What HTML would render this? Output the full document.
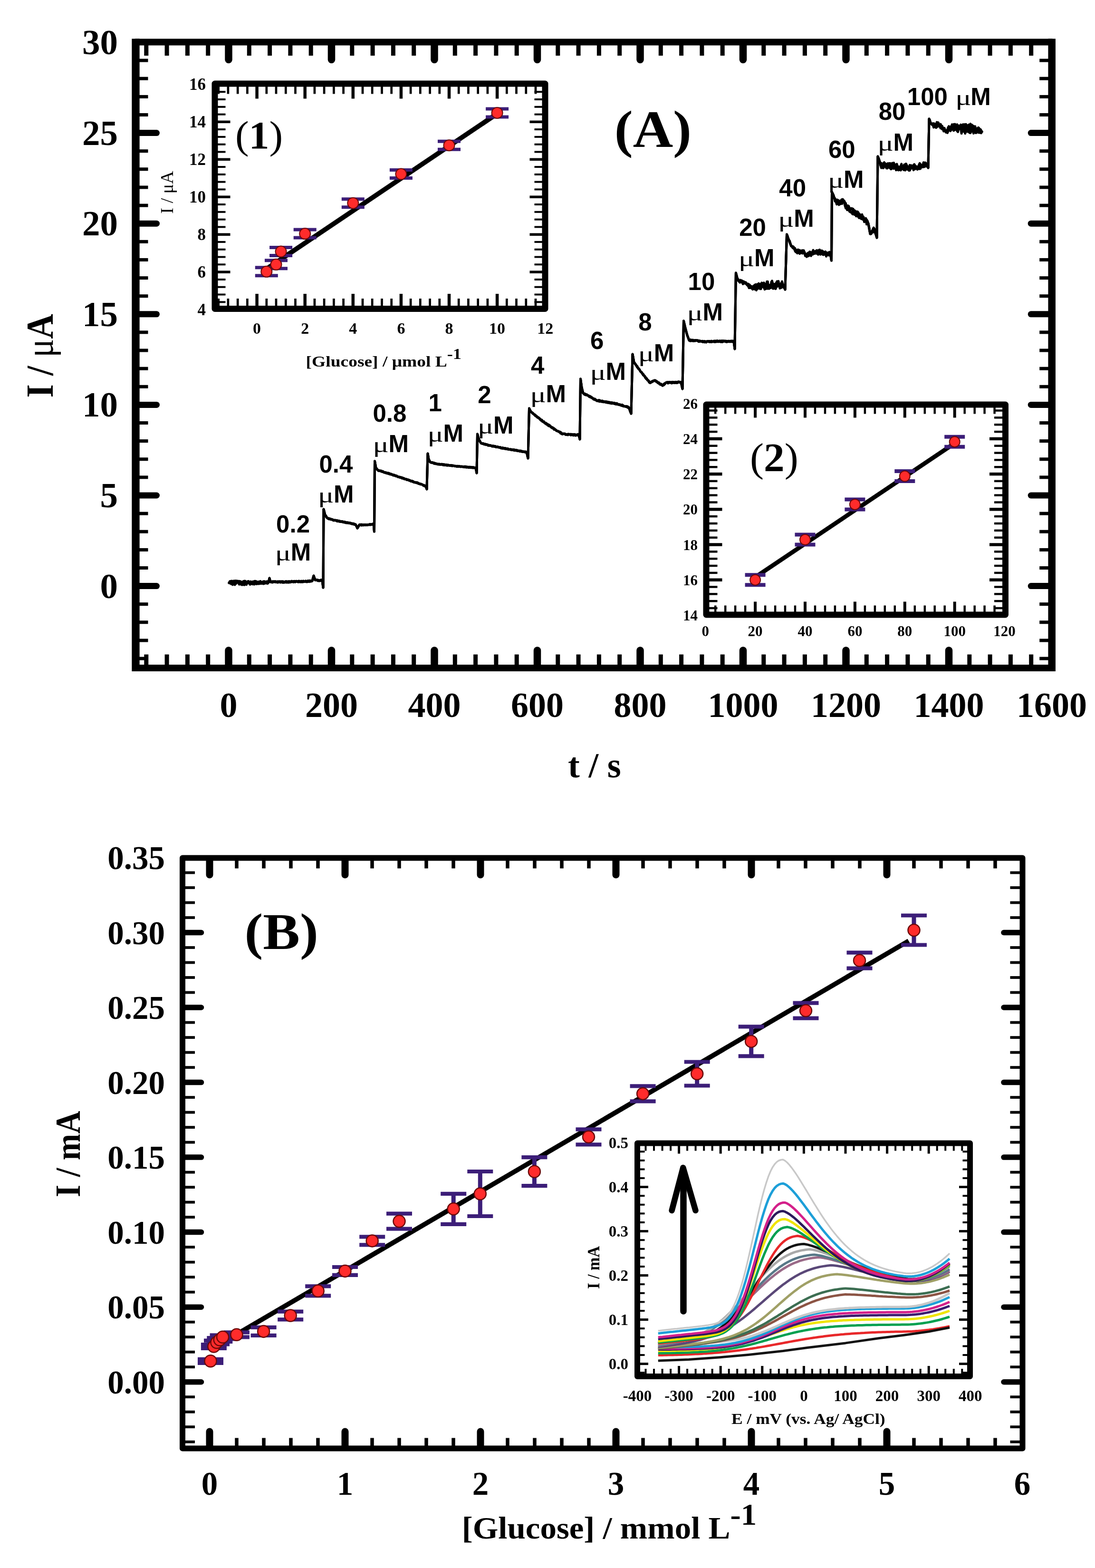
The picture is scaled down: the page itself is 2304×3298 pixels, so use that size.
<!DOCTYPE html>
<html><head><meta charset="utf-8"><title>Figure</title>
<style>html,body{margin:0;padding:0;background:#fff;} svg{display:block;}</style>
</head><body>
<svg width="2304" height="3298" viewBox="0 0 2304 3298"><line x1="307.8" y1="94.6" x2="307.8" y2="117.1" stroke="#000" stroke-width="9" stroke-linecap="butt"/>
<line x1="307.8" y1="1399" x2="307.8" y2="1376.5" stroke="#000" stroke-width="9" stroke-linecap="butt"/>
<line x1="351.1" y1="94.6" x2="351.1" y2="117.1" stroke="#000" stroke-width="9" stroke-linecap="butt"/>
<line x1="351.1" y1="1399" x2="351.1" y2="1376.5" stroke="#000" stroke-width="9" stroke-linecap="butt"/>
<line x1="394.4" y1="94.6" x2="394.4" y2="117.1" stroke="#000" stroke-width="9" stroke-linecap="butt"/>
<line x1="394.4" y1="1399" x2="394.4" y2="1376.5" stroke="#000" stroke-width="9" stroke-linecap="butt"/>
<line x1="437.7" y1="94.6" x2="437.7" y2="117.1" stroke="#000" stroke-width="9" stroke-linecap="butt"/>
<line x1="437.7" y1="1399" x2="437.7" y2="1376.5" stroke="#000" stroke-width="9" stroke-linecap="butt"/>
<line x1="524.3" y1="94.6" x2="524.3" y2="117.1" stroke="#000" stroke-width="9" stroke-linecap="butt"/>
<line x1="524.3" y1="1399" x2="524.3" y2="1376.5" stroke="#000" stroke-width="9" stroke-linecap="butt"/>
<line x1="567.6" y1="94.6" x2="567.6" y2="117.1" stroke="#000" stroke-width="9" stroke-linecap="butt"/>
<line x1="567.6" y1="1399" x2="567.6" y2="1376.5" stroke="#000" stroke-width="9" stroke-linecap="butt"/>
<line x1="610.9" y1="94.6" x2="610.9" y2="117.1" stroke="#000" stroke-width="9" stroke-linecap="butt"/>
<line x1="610.9" y1="1399" x2="610.9" y2="1376.5" stroke="#000" stroke-width="9" stroke-linecap="butt"/>
<line x1="654.2" y1="94.6" x2="654.2" y2="117.1" stroke="#000" stroke-width="9" stroke-linecap="butt"/>
<line x1="654.2" y1="1399" x2="654.2" y2="1376.5" stroke="#000" stroke-width="9" stroke-linecap="butt"/>
<line x1="740.8" y1="94.6" x2="740.8" y2="117.1" stroke="#000" stroke-width="9" stroke-linecap="butt"/>
<line x1="740.8" y1="1399" x2="740.8" y2="1376.5" stroke="#000" stroke-width="9" stroke-linecap="butt"/>
<line x1="784.1" y1="94.6" x2="784.1" y2="117.1" stroke="#000" stroke-width="9" stroke-linecap="butt"/>
<line x1="784.1" y1="1399" x2="784.1" y2="1376.5" stroke="#000" stroke-width="9" stroke-linecap="butt"/>
<line x1="827.4" y1="94.6" x2="827.4" y2="117.1" stroke="#000" stroke-width="9" stroke-linecap="butt"/>
<line x1="827.4" y1="1399" x2="827.4" y2="1376.5" stroke="#000" stroke-width="9" stroke-linecap="butt"/>
<line x1="870.7" y1="94.6" x2="870.7" y2="117.1" stroke="#000" stroke-width="9" stroke-linecap="butt"/>
<line x1="870.7" y1="1399" x2="870.7" y2="1376.5" stroke="#000" stroke-width="9" stroke-linecap="butt"/>
<line x1="957.3" y1="94.6" x2="957.3" y2="117.1" stroke="#000" stroke-width="9" stroke-linecap="butt"/>
<line x1="957.3" y1="1399" x2="957.3" y2="1376.5" stroke="#000" stroke-width="9" stroke-linecap="butt"/>
<line x1="1000.6" y1="94.6" x2="1000.6" y2="117.1" stroke="#000" stroke-width="9" stroke-linecap="butt"/>
<line x1="1000.6" y1="1399" x2="1000.6" y2="1376.5" stroke="#000" stroke-width="9" stroke-linecap="butt"/>
<line x1="1043.9" y1="94.6" x2="1043.9" y2="117.1" stroke="#000" stroke-width="9" stroke-linecap="butt"/>
<line x1="1043.9" y1="1399" x2="1043.9" y2="1376.5" stroke="#000" stroke-width="9" stroke-linecap="butt"/>
<line x1="1087.2" y1="94.6" x2="1087.2" y2="117.1" stroke="#000" stroke-width="9" stroke-linecap="butt"/>
<line x1="1087.2" y1="1399" x2="1087.2" y2="1376.5" stroke="#000" stroke-width="9" stroke-linecap="butt"/>
<line x1="1173.8" y1="94.6" x2="1173.8" y2="117.1" stroke="#000" stroke-width="9" stroke-linecap="butt"/>
<line x1="1173.8" y1="1399" x2="1173.8" y2="1376.5" stroke="#000" stroke-width="9" stroke-linecap="butt"/>
<line x1="1217.1" y1="94.6" x2="1217.1" y2="117.1" stroke="#000" stroke-width="9" stroke-linecap="butt"/>
<line x1="1217.1" y1="1399" x2="1217.1" y2="1376.5" stroke="#000" stroke-width="9" stroke-linecap="butt"/>
<line x1="1260.4" y1="94.6" x2="1260.4" y2="117.1" stroke="#000" stroke-width="9" stroke-linecap="butt"/>
<line x1="1260.4" y1="1399" x2="1260.4" y2="1376.5" stroke="#000" stroke-width="9" stroke-linecap="butt"/>
<line x1="1303.7" y1="94.6" x2="1303.7" y2="117.1" stroke="#000" stroke-width="9" stroke-linecap="butt"/>
<line x1="1303.7" y1="1399" x2="1303.7" y2="1376.5" stroke="#000" stroke-width="9" stroke-linecap="butt"/>
<line x1="1390.3" y1="94.6" x2="1390.3" y2="117.1" stroke="#000" stroke-width="9" stroke-linecap="butt"/>
<line x1="1390.3" y1="1399" x2="1390.3" y2="1376.5" stroke="#000" stroke-width="9" stroke-linecap="butt"/>
<line x1="1433.6" y1="94.6" x2="1433.6" y2="117.1" stroke="#000" stroke-width="9" stroke-linecap="butt"/>
<line x1="1433.6" y1="1399" x2="1433.6" y2="1376.5" stroke="#000" stroke-width="9" stroke-linecap="butt"/>
<line x1="1476.9" y1="94.6" x2="1476.9" y2="117.1" stroke="#000" stroke-width="9" stroke-linecap="butt"/>
<line x1="1476.9" y1="1399" x2="1476.9" y2="1376.5" stroke="#000" stroke-width="9" stroke-linecap="butt"/>
<line x1="1520.2" y1="94.6" x2="1520.2" y2="117.1" stroke="#000" stroke-width="9" stroke-linecap="butt"/>
<line x1="1520.2" y1="1399" x2="1520.2" y2="1376.5" stroke="#000" stroke-width="9" stroke-linecap="butt"/>
<line x1="1606.8" y1="94.6" x2="1606.8" y2="117.1" stroke="#000" stroke-width="9" stroke-linecap="butt"/>
<line x1="1606.8" y1="1399" x2="1606.8" y2="1376.5" stroke="#000" stroke-width="9" stroke-linecap="butt"/>
<line x1="1650.1" y1="94.6" x2="1650.1" y2="117.1" stroke="#000" stroke-width="9" stroke-linecap="butt"/>
<line x1="1650.1" y1="1399" x2="1650.1" y2="1376.5" stroke="#000" stroke-width="9" stroke-linecap="butt"/>
<line x1="1693.4" y1="94.6" x2="1693.4" y2="117.1" stroke="#000" stroke-width="9" stroke-linecap="butt"/>
<line x1="1693.4" y1="1399" x2="1693.4" y2="1376.5" stroke="#000" stroke-width="9" stroke-linecap="butt"/>
<line x1="1736.7" y1="94.6" x2="1736.7" y2="117.1" stroke="#000" stroke-width="9" stroke-linecap="butt"/>
<line x1="1736.7" y1="1399" x2="1736.7" y2="1376.5" stroke="#000" stroke-width="9" stroke-linecap="butt"/>
<line x1="1823.3" y1="94.6" x2="1823.3" y2="117.1" stroke="#000" stroke-width="9" stroke-linecap="butt"/>
<line x1="1823.3" y1="1399" x2="1823.3" y2="1376.5" stroke="#000" stroke-width="9" stroke-linecap="butt"/>
<line x1="1866.6" y1="94.6" x2="1866.6" y2="117.1" stroke="#000" stroke-width="9" stroke-linecap="butt"/>
<line x1="1866.6" y1="1399" x2="1866.6" y2="1376.5" stroke="#000" stroke-width="9" stroke-linecap="butt"/>
<line x1="1909.9" y1="94.6" x2="1909.9" y2="117.1" stroke="#000" stroke-width="9" stroke-linecap="butt"/>
<line x1="1909.9" y1="1399" x2="1909.9" y2="1376.5" stroke="#000" stroke-width="9" stroke-linecap="butt"/>
<line x1="1953.2" y1="94.6" x2="1953.2" y2="117.1" stroke="#000" stroke-width="9" stroke-linecap="butt"/>
<line x1="1953.2" y1="1399" x2="1953.2" y2="1376.5" stroke="#000" stroke-width="9" stroke-linecap="butt"/>
<line x1="2039.8" y1="94.6" x2="2039.8" y2="117.1" stroke="#000" stroke-width="9" stroke-linecap="butt"/>
<line x1="2039.8" y1="1399" x2="2039.8" y2="1376.5" stroke="#000" stroke-width="9" stroke-linecap="butt"/>
<line x1="2083.1" y1="94.6" x2="2083.1" y2="117.1" stroke="#000" stroke-width="9" stroke-linecap="butt"/>
<line x1="2083.1" y1="1399" x2="2083.1" y2="1376.5" stroke="#000" stroke-width="9" stroke-linecap="butt"/>
<line x1="2126.4" y1="94.6" x2="2126.4" y2="117.1" stroke="#000" stroke-width="9" stroke-linecap="butt"/>
<line x1="2126.4" y1="1399" x2="2126.4" y2="1376.5" stroke="#000" stroke-width="9" stroke-linecap="butt"/>
<line x1="2169.7" y1="94.6" x2="2169.7" y2="117.1" stroke="#000" stroke-width="9" stroke-linecap="butt"/>
<line x1="2169.7" y1="1399" x2="2169.7" y2="1376.5" stroke="#000" stroke-width="9" stroke-linecap="butt"/>
<line x1="481" y1="94.6" x2="481" y2="125.6" stroke="#000" stroke-width="15.5" stroke-linecap="round"/>
<line x1="481" y1="1399" x2="481" y2="1368" stroke="#000" stroke-width="15.5" stroke-linecap="round"/>
<line x1="697.5" y1="94.6" x2="697.5" y2="125.6" stroke="#000" stroke-width="15.5" stroke-linecap="round"/>
<line x1="697.5" y1="1399" x2="697.5" y2="1368" stroke="#000" stroke-width="15.5" stroke-linecap="round"/>
<line x1="914" y1="94.6" x2="914" y2="125.6" stroke="#000" stroke-width="15.5" stroke-linecap="round"/>
<line x1="914" y1="1399" x2="914" y2="1368" stroke="#000" stroke-width="15.5" stroke-linecap="round"/>
<line x1="1130.5" y1="94.6" x2="1130.5" y2="125.6" stroke="#000" stroke-width="15.5" stroke-linecap="round"/>
<line x1="1130.5" y1="1399" x2="1130.5" y2="1368" stroke="#000" stroke-width="15.5" stroke-linecap="round"/>
<line x1="1347" y1="94.6" x2="1347" y2="125.6" stroke="#000" stroke-width="15.5" stroke-linecap="round"/>
<line x1="1347" y1="1399" x2="1347" y2="1368" stroke="#000" stroke-width="15.5" stroke-linecap="round"/>
<line x1="1563.5" y1="94.6" x2="1563.5" y2="125.6" stroke="#000" stroke-width="15.5" stroke-linecap="round"/>
<line x1="1563.5" y1="1399" x2="1563.5" y2="1368" stroke="#000" stroke-width="15.5" stroke-linecap="round"/>
<line x1="1780" y1="94.6" x2="1780" y2="125.6" stroke="#000" stroke-width="15.5" stroke-linecap="round"/>
<line x1="1780" y1="1399" x2="1780" y2="1368" stroke="#000" stroke-width="15.5" stroke-linecap="round"/>
<line x1="1996.5" y1="94.6" x2="1996.5" y2="125.6" stroke="#000" stroke-width="15.5" stroke-linecap="round"/>
<line x1="1996.5" y1="1399" x2="1996.5" y2="1368" stroke="#000" stroke-width="15.5" stroke-linecap="round"/>
<line x1="291.5" y1="1385.1" x2="311.5" y2="1385.1" stroke="#000" stroke-width="7" stroke-linecap="butt"/>
<line x1="2207.2" y1="1385.1" x2="2187.2" y2="1385.1" stroke="#000" stroke-width="7" stroke-linecap="butt"/>
<line x1="291.5" y1="1347" x2="311.5" y2="1347" stroke="#000" stroke-width="7" stroke-linecap="butt"/>
<line x1="2207.2" y1="1347" x2="2187.2" y2="1347" stroke="#000" stroke-width="7" stroke-linecap="butt"/>
<line x1="291.5" y1="1308.8" x2="311.5" y2="1308.8" stroke="#000" stroke-width="7" stroke-linecap="butt"/>
<line x1="2207.2" y1="1308.8" x2="2187.2" y2="1308.8" stroke="#000" stroke-width="7" stroke-linecap="butt"/>
<line x1="291.5" y1="1270.7" x2="311.5" y2="1270.7" stroke="#000" stroke-width="7" stroke-linecap="butt"/>
<line x1="2207.2" y1="1270.7" x2="2187.2" y2="1270.7" stroke="#000" stroke-width="7" stroke-linecap="butt"/>
<line x1="291.5" y1="1194.5" x2="311.5" y2="1194.5" stroke="#000" stroke-width="7" stroke-linecap="butt"/>
<line x1="2207.2" y1="1194.5" x2="2187.2" y2="1194.5" stroke="#000" stroke-width="7" stroke-linecap="butt"/>
<line x1="291.5" y1="1156.4" x2="311.5" y2="1156.4" stroke="#000" stroke-width="7" stroke-linecap="butt"/>
<line x1="2207.2" y1="1156.4" x2="2187.2" y2="1156.4" stroke="#000" stroke-width="7" stroke-linecap="butt"/>
<line x1="291.5" y1="1118.2" x2="311.5" y2="1118.2" stroke="#000" stroke-width="7" stroke-linecap="butt"/>
<line x1="2207.2" y1="1118.2" x2="2187.2" y2="1118.2" stroke="#000" stroke-width="7" stroke-linecap="butt"/>
<line x1="291.5" y1="1080.1" x2="311.5" y2="1080.1" stroke="#000" stroke-width="7" stroke-linecap="butt"/>
<line x1="2207.2" y1="1080.1" x2="2187.2" y2="1080.1" stroke="#000" stroke-width="7" stroke-linecap="butt"/>
<line x1="291.5" y1="1003.9" x2="311.5" y2="1003.9" stroke="#000" stroke-width="7" stroke-linecap="butt"/>
<line x1="2207.2" y1="1003.9" x2="2187.2" y2="1003.9" stroke="#000" stroke-width="7" stroke-linecap="butt"/>
<line x1="291.5" y1="965.8" x2="311.5" y2="965.8" stroke="#000" stroke-width="7" stroke-linecap="butt"/>
<line x1="2207.2" y1="965.8" x2="2187.2" y2="965.8" stroke="#000" stroke-width="7" stroke-linecap="butt"/>
<line x1="291.5" y1="927.6" x2="311.5" y2="927.6" stroke="#000" stroke-width="7" stroke-linecap="butt"/>
<line x1="2207.2" y1="927.6" x2="2187.2" y2="927.6" stroke="#000" stroke-width="7" stroke-linecap="butt"/>
<line x1="291.5" y1="889.5" x2="311.5" y2="889.5" stroke="#000" stroke-width="7" stroke-linecap="butt"/>
<line x1="2207.2" y1="889.5" x2="2187.2" y2="889.5" stroke="#000" stroke-width="7" stroke-linecap="butt"/>
<line x1="291.5" y1="813.3" x2="311.5" y2="813.3" stroke="#000" stroke-width="7" stroke-linecap="butt"/>
<line x1="2207.2" y1="813.3" x2="2187.2" y2="813.3" stroke="#000" stroke-width="7" stroke-linecap="butt"/>
<line x1="291.5" y1="775.2" x2="311.5" y2="775.2" stroke="#000" stroke-width="7" stroke-linecap="butt"/>
<line x1="2207.2" y1="775.2" x2="2187.2" y2="775.2" stroke="#000" stroke-width="7" stroke-linecap="butt"/>
<line x1="291.5" y1="737" x2="311.5" y2="737" stroke="#000" stroke-width="7" stroke-linecap="butt"/>
<line x1="2207.2" y1="737" x2="2187.2" y2="737" stroke="#000" stroke-width="7" stroke-linecap="butt"/>
<line x1="291.5" y1="698.9" x2="311.5" y2="698.9" stroke="#000" stroke-width="7" stroke-linecap="butt"/>
<line x1="2207.2" y1="698.9" x2="2187.2" y2="698.9" stroke="#000" stroke-width="7" stroke-linecap="butt"/>
<line x1="291.5" y1="622.7" x2="311.5" y2="622.7" stroke="#000" stroke-width="7" stroke-linecap="butt"/>
<line x1="2207.2" y1="622.7" x2="2187.2" y2="622.7" stroke="#000" stroke-width="7" stroke-linecap="butt"/>
<line x1="291.5" y1="584.6" x2="311.5" y2="584.6" stroke="#000" stroke-width="7" stroke-linecap="butt"/>
<line x1="2207.2" y1="584.6" x2="2187.2" y2="584.6" stroke="#000" stroke-width="7" stroke-linecap="butt"/>
<line x1="291.5" y1="546.4" x2="311.5" y2="546.4" stroke="#000" stroke-width="7" stroke-linecap="butt"/>
<line x1="2207.2" y1="546.4" x2="2187.2" y2="546.4" stroke="#000" stroke-width="7" stroke-linecap="butt"/>
<line x1="291.5" y1="508.3" x2="311.5" y2="508.3" stroke="#000" stroke-width="7" stroke-linecap="butt"/>
<line x1="2207.2" y1="508.3" x2="2187.2" y2="508.3" stroke="#000" stroke-width="7" stroke-linecap="butt"/>
<line x1="291.5" y1="432.1" x2="311.5" y2="432.1" stroke="#000" stroke-width="7" stroke-linecap="butt"/>
<line x1="2207.2" y1="432.1" x2="2187.2" y2="432.1" stroke="#000" stroke-width="7" stroke-linecap="butt"/>
<line x1="291.5" y1="394" x2="311.5" y2="394" stroke="#000" stroke-width="7" stroke-linecap="butt"/>
<line x1="2207.2" y1="394" x2="2187.2" y2="394" stroke="#000" stroke-width="7" stroke-linecap="butt"/>
<line x1="291.5" y1="355.8" x2="311.5" y2="355.8" stroke="#000" stroke-width="7" stroke-linecap="butt"/>
<line x1="2207.2" y1="355.8" x2="2187.2" y2="355.8" stroke="#000" stroke-width="7" stroke-linecap="butt"/>
<line x1="291.5" y1="317.7" x2="311.5" y2="317.7" stroke="#000" stroke-width="7" stroke-linecap="butt"/>
<line x1="2207.2" y1="317.7" x2="2187.2" y2="317.7" stroke="#000" stroke-width="7" stroke-linecap="butt"/>
<line x1="291.5" y1="241.5" x2="311.5" y2="241.5" stroke="#000" stroke-width="7" stroke-linecap="butt"/>
<line x1="2207.2" y1="241.5" x2="2187.2" y2="241.5" stroke="#000" stroke-width="7" stroke-linecap="butt"/>
<line x1="291.5" y1="203.4" x2="311.5" y2="203.4" stroke="#000" stroke-width="7" stroke-linecap="butt"/>
<line x1="2207.2" y1="203.4" x2="2187.2" y2="203.4" stroke="#000" stroke-width="7" stroke-linecap="butt"/>
<line x1="291.5" y1="165.2" x2="311.5" y2="165.2" stroke="#000" stroke-width="7" stroke-linecap="butt"/>
<line x1="2207.2" y1="165.2" x2="2187.2" y2="165.2" stroke="#000" stroke-width="7" stroke-linecap="butt"/>
<line x1="291.5" y1="127.1" x2="311.5" y2="127.1" stroke="#000" stroke-width="7" stroke-linecap="butt"/>
<line x1="2207.2" y1="127.1" x2="2187.2" y2="127.1" stroke="#000" stroke-width="7" stroke-linecap="butt"/>
<line x1="291.5" y1="1232.6" x2="329.5" y2="1232.6" stroke="#000" stroke-width="13" stroke-linecap="round"/>
<line x1="2207.2" y1="1232.6" x2="2169.2" y2="1232.6" stroke="#000" stroke-width="13" stroke-linecap="round"/>
<line x1="291.5" y1="1042" x2="329.5" y2="1042" stroke="#000" stroke-width="13" stroke-linecap="round"/>
<line x1="2207.2" y1="1042" x2="2169.2" y2="1042" stroke="#000" stroke-width="13" stroke-linecap="round"/>
<line x1="291.5" y1="851.4" x2="329.5" y2="851.4" stroke="#000" stroke-width="13" stroke-linecap="round"/>
<line x1="2207.2" y1="851.4" x2="2169.2" y2="851.4" stroke="#000" stroke-width="13" stroke-linecap="round"/>
<line x1="291.5" y1="660.8" x2="329.5" y2="660.8" stroke="#000" stroke-width="13" stroke-linecap="round"/>
<line x1="2207.2" y1="660.8" x2="2169.2" y2="660.8" stroke="#000" stroke-width="13" stroke-linecap="round"/>
<line x1="291.5" y1="470.2" x2="329.5" y2="470.2" stroke="#000" stroke-width="13" stroke-linecap="round"/>
<line x1="2207.2" y1="470.2" x2="2169.2" y2="470.2" stroke="#000" stroke-width="13" stroke-linecap="round"/>
<line x1="291.5" y1="279.6" x2="329.5" y2="279.6" stroke="#000" stroke-width="13" stroke-linecap="round"/>
<line x1="2207.2" y1="279.6" x2="2169.2" y2="279.6" stroke="#000" stroke-width="13" stroke-linecap="round"/>
<rect x="285.5" y="88.6" width="1927.7" height="1316.4" fill="none" stroke="#000" stroke-width="14" stroke-linejoin="round"/>
<line x1="285.5" y1="81.6" x2="285.5" y2="1412" stroke="#000" stroke-width="16.3" stroke-linecap="butt"/>
<line x1="2213.2" y1="81.6" x2="2213.2" y2="1412" stroke="#000" stroke-width="15.5" stroke-linecap="butt"/>
<text x="248" y="1257.6" font-family='"Liberation Serif", serif' font-size="75" font-weight="bold" text-anchor="end" >0</text>
<text x="248" y="1067" font-family='"Liberation Serif", serif' font-size="75" font-weight="bold" text-anchor="end" >5</text>
<text x="248" y="876.4" font-family='"Liberation Serif", serif' font-size="75" font-weight="bold" text-anchor="end" >10</text>
<text x="248" y="685.8" font-family='"Liberation Serif", serif' font-size="75" font-weight="bold" text-anchor="end" >15</text>
<text x="248" y="495.2" font-family='"Liberation Serif", serif' font-size="75" font-weight="bold" text-anchor="end" >20</text>
<text x="248" y="304.6" font-family='"Liberation Serif", serif' font-size="75" font-weight="bold" text-anchor="end" >25</text>
<text x="248" y="114" font-family='"Liberation Serif", serif' font-size="75" font-weight="bold" text-anchor="end" >30</text>
<text x="481" y="1508" font-family='"Liberation Serif", serif' font-size="74" font-weight="bold" text-anchor="middle" >0</text>
<text x="697.5" y="1508" font-family='"Liberation Serif", serif' font-size="74" font-weight="bold" text-anchor="middle" >200</text>
<text x="914" y="1508" font-family='"Liberation Serif", serif' font-size="74" font-weight="bold" text-anchor="middle" >400</text>
<text x="1130.5" y="1508" font-family='"Liberation Serif", serif' font-size="74" font-weight="bold" text-anchor="middle" >600</text>
<text x="1347" y="1508" font-family='"Liberation Serif", serif' font-size="74" font-weight="bold" text-anchor="middle" >800</text>
<text x="1563.5" y="1508" font-family='"Liberation Serif", serif' font-size="74" font-weight="bold" text-anchor="middle" >1000</text>
<text x="1780" y="1508" font-family='"Liberation Serif", serif' font-size="74" font-weight="bold" text-anchor="middle" >1200</text>
<text x="1996.5" y="1508" font-family='"Liberation Serif", serif' font-size="74" font-weight="bold" text-anchor="middle" >1400</text>
<text x="2213" y="1508" font-family='"Liberation Serif", serif' font-size="74" font-weight="bold" text-anchor="middle" >1600</text>
<g transform="matrix(1.0056 0 0 1.0080 -6.64 -14.10)"><text x="1250.5" y="1636" font-family='"Liberation Serif", serif' font-size="74" font-weight="bold" text-anchor="middle">t / s</text></g>
<g transform="matrix(1.0455 0 0 0.9558 -3.73 33.99)"><text transform="translate(110,747.5) rotate(-90)" font-family='"Liberation Serif", serif' font-size="76" font-weight="bold" text-anchor="middle">I / <tspan font-weight="normal">μ</tspan>A</text></g>
<g transform="matrix(1.0255 0 0 0.9612 -34.63 10.97)"><text x="1373.5" y="310" font-family='"Liberation Serif", serif' font-size="114" font-weight="bold" text-anchor="middle">(A)</text></g>
<path d="M482,1226.0 483.5,1224.2 485,1222.5 486.6,1227.5 488.1,1221.8 489.6,1226.4 491.1,1224.7 492.6,1221.7 494.2,1226.1 495.7,1221.5 497.2,1225.4 498.7,1221.9 500.2,1222.1 501.8,1225.3 503.3,1229.1 504.8,1222.5 506.3,1223.4 507.8,1227.2 509.4,1230.2 510.9,1226.7 512.4,1225.0 513.9,1230.4 515.4,1221.9 517,1229.3 518.5,1224.1 520,1226.0 521.5,1222.8 523.1,1222.6 524.6,1224.2 526.2,1228.5 527.7,1223.1 529.2,1226.4 530.8,1226.9 532.3,1224.7 533.8,1226.0 535.4,1222.2 536.9,1222.2 538.5,1223.3 540,1226.9 541.5,1224.9 543.1,1224.1 544.6,1226.0 546.2,1225.0 547.7,1223.9 549.2,1227.3 550.8,1226.6 552.3,1223.5 553.8,1225.6 555.4,1225.3 556.9,1227.4 558.5,1226.4 560,1225.0 561.7,1223.9 563.3,1227.2 565,1225.0 567,1216.0 569,1224.0 570.5,1222.9 572.1,1223.8 573.6,1224.8 575.2,1223.0 576.8,1224.0 578.3,1222.6 579.9,1224.5 581.4,1224.8 583,1224.2 584.5,1225.1 586,1223.4 587.6,1224.6 589.1,1224.3 590.7,1224.2 592.2,1223.9 593.8,1225.0 595.4,1225.3 596.9,1223.9 598.5,1224.5 600,1224.0 601.5,1222.6 603.1,1224.5 604.6,1224.3 606.2,1225.3 607.7,1224.8 609.2,1223.1 610.8,1223.4 612.3,1224.2 613.8,1222.2 615.4,1223.5 616.9,1222.6 618.5,1222.4 620,1222.2 621.5,1224.3 623.1,1222.3 624.6,1222.6 626.2,1223.0 627.7,1224.4 629.2,1222.0 630.8,1223.1 632.3,1223.3 633.8,1224.3 635.4,1224.1 636.9,1224.2 638.5,1222.4 640,1223.0 641.5,1222.7 643.1,1222.4 644.6,1223.9 646.2,1224.0 647.7,1221.5 649.3,1221.5 650.8,1221.6 652.4,1221.5 653.9,1222.1 655.5,1222.4 657,1222.0 658.5,1216.1 660,1211.0 661.5,1214.8 663,1220.0 664.5,1219.9 666,1219.8 667.5,1220.5 669,1221.8 670.5,1221.1 672,1220.6 673.5,1221.1 675,1221.3 676.5,1219.6 678,1221.0 680,1236.0 681,1071.0 682.5,1077.4 684,1083.0 685.7,1085.9 687.3,1088.4 689,1090.0 690.5,1091.1 692,1090.8 693.5,1091.3 695,1091.2 696.5,1092.8 698,1092.1 699.5,1092.6 701,1094.0 702.5,1093.7 704,1093.9 705.5,1094.5 707,1094.2 708.5,1094.4 710,1094.9 711.5,1095.1 713,1095.9 714.5,1095.5 716,1097.5 717.5,1097.2 719,1096.6 720.5,1097.0 722,1097.5 723.5,1097.8 725,1097.6 726.5,1099.3 728,1099.9 729.5,1099.1 731,1099.4 732.5,1098.9 734,1100.0 735.6,1099.5 737.1,1100.4 738.7,1100.5 740.2,1102.0 741.8,1101.0 743.3,1101.0 744.9,1103.2 746.4,1102.7 748,1103.0 750,1106.6 752,1111.0 754,1107.5 756,1104.0 757.5,1103.1 759,1104.1 760.5,1105.0 762,1104.7 763.5,1104.4 765,1103.5 766.5,1103.7 768,1103.3 769.5,1104.5 771,1104.1 772.5,1104.6 774,1104.0 775.5,1103.4 777,1102.9 778.5,1103.9 780,1104.0 781.5,1103.5 783,1103.1 784.5,1102.9 786,1102.0 787.5,1118.0 788.5,970.0 791,984.0 793,987.0 795,989.0 796.5,988.9 798.1,990.0 799.6,990.1 801.2,989.9 802.7,990.4 804.2,991.3 805.8,991.7 807.3,993.1 808.8,994.1 810.4,993.5 811.9,995.0 813.5,995.5 815,995.0 816.5,996.4 818,995.7 819.5,995.9 821,996.5 822.5,996.9 824,997.4 825.5,998.7 827,999.8 828.5,1000.2 830,1000.0 831.5,1000.8 833,1001.6 834.5,1000.7 836,1002.3 837.5,1003.3 839,1003.0 840.5,1004.1 842,1004.5 843.5,1004.5 845,1004.4 846.5,1006.1 848,1005.7 849.5,1007.1 851,1007.9 852.5,1007.3 854,1007.8 855.5,1009.4 857,1009.4 858.5,1008.8 860,1009.3 861.5,1009.8 863,1011.0 864.6,1012.3 866.1,1012.6 867.7,1011.8 869.2,1013.7 870.8,1014.5 872.4,1014.3 873.9,1014.2 875.5,1015.1 877.1,1014.8 878.6,1015.0 880.2,1017.4 881.8,1017.3 883.3,1017.6 884.9,1018.9 886.4,1018.4 888,1019.0 889.6,1020.5 891.2,1021.3 892.8,1020.8 894.4,1021.7 896,1023.0 898,1029.0 900,954.0 902,966.0 903.5,968.6 905,972.0 906.5,971.9 908,973.0 909.5,972.7 911,973.4 912.5,973.3 914,975.2 915.5,974.5 917,975.1 918.5,975.8 920,976.0 921.5,977.0 923,976.2 924.5,977.3 926,976.7 927.5,976.9 929,977.0 930.5,976.2 932,977.2 933.5,976.9 935,976.7 936.5,978.4 938,977.3 939.5,978.1 941,978.8 942.5,978.6 944,978.3 945.5,978.9 947,979.1 948.5,979.7 950,978.5 951.5,979.6 953,979.2 954.5,979.4 956,980.0 957.5,980.7 959,980.3 960.5,980.5 962,981.1 963.5,981.5 965,980.7 966.5,981.2 968,981.1 969.5,981.2 971,981.7 972.5,981.4 974,981.7 975.5,981.7 977,982.7 978.5,982.4 980,982.9 981.5,983.2 983,981.9 984.5,982.7 986,983.6 987.5,983.5 989,982.2 990.5,982.3 992,983.1 993.5,982.5 995,982.9 996.5,982.7 998,984.1 999.5,984.4 1001,984.0 1003,995.0 1004.5,913.0 1006.2,919.4 1008,925.0 1010,927.8 1012,932.0 1013.5,932.8 1015,933.2 1016.5,932.5 1018,934.4 1019.5,935.0 1021,933.9 1022.5,935.8 1024,935.1 1025.5,935.7 1027,937.1 1028.5,937.2 1030,937.0 1031.5,936.6 1033,937.5 1034.5,937.9 1036,937.9 1037.5,937.9 1039,938.4 1040.5,939.5 1042,938.4 1043.5,939.8 1045,939.9 1046.5,939.3 1048,940.3 1049.5,941.1 1051,941.2 1052.5,940.6 1054,942.8 1055.5,942.7 1057,943.3 1058.5,941.9 1060,943.0 1061.5,942.8 1063,942.6 1064.5,944.3 1066,943.5 1067.5,943.5 1069,944.3 1070.5,945.6 1072,945.6 1073.5,944.8 1075,944.8 1076.5,946.6 1078,946.1 1079.5,946.7 1081,945.7 1082.5,945.9 1084,947.4 1085.5,947.1 1087,946.6 1088.5,948.6 1090,948.0 1091.5,948.5 1093,949.1 1094.5,947.9 1096,949.7 1097.5,948.4 1099,950.2 1100.5,949.7 1102,949.7 1103.5,950.4 1105,951.4 1106.5,950.3 1108,951.0 1109.5,957.1 1111,964.0 1113.5,859.0 1115.2,862.5 1117,866.0 1118.8,867.0 1120.5,868.1 1122.2,869.7 1124,872.0 1125.6,872.1 1127.2,873.8 1128.8,875.3 1130.3,876.5 1131.9,878.9 1133.5,878.9 1135.1,880.8 1136.7,881.1 1138.2,882.8 1139.8,883.1 1141.4,885.0 1143,887.0 1144.5,886.5 1146.1,889.7 1147.6,890.2 1149.1,890.1 1150.6,891.9 1152.2,894.3 1153.7,892.8 1155.2,896.0 1156.8,895.8 1158.3,897.0 1159.8,899.0 1161.4,898.7 1162.9,900.0 1164.4,901.6 1165.9,903.4 1167.5,902.5 1169,904.0 1170.5,905.9 1172,906.4 1173.5,907.1 1175,907.3 1176.5,908.0 1178,908.1 1179.5,909.2 1181,909.9 1182.5,912.8 1184,913.0 1185.5,912.4 1187.1,912.2 1188.6,912.0 1190.2,914.4 1191.7,914.6 1193.3,914.1 1194.8,913.0 1196.4,913.0 1197.9,913.2 1199.5,913.8 1201,913.0 1202.5,913.9 1204.1,913.5 1205.6,915.7 1207.2,915.8 1208.7,914.6 1210.3,913.8 1211.8,916.0 1213.4,914.2 1214.9,914.4 1216.5,913.4 1218,915.0 1220,924.0 1221.5,797.0 1224,815.0 1225.5,820.7 1227,827.0 1228.6,827.8 1230.1,828.7 1231.7,828.6 1233.2,830.3 1234.8,829.7 1236.3,831.3 1237.9,831.6 1239.4,833.4 1241,833.1 1242.6,833.9 1244.1,835.6 1245.7,836.2 1247.2,838.1 1248.8,838.8 1250.3,840.3 1251.9,840.8 1253.4,841.8 1255,842.0 1256.5,843.4 1258,842.2 1259.5,842.3 1261,844.5 1262.5,842.3 1264,844.3 1265.5,844.3 1267,842.8 1268.5,845.4 1270,845.8 1271.5,845.3 1273,845.9 1274.5,846.4 1276,844.7 1277.5,846.1 1279,846.3 1280.5,847.5 1282,847.7 1283.5,848.0 1285,847.6 1286.5,848.8 1288,848.4 1289.5,848.7 1291,847.6 1292.5,847.3 1294,847.8 1295.5,848.8 1297,848.3 1298.5,850.7 1300,850.0 1301.5,850.6 1303.1,851.3 1304.6,851.8 1306.1,852.4 1307.7,852.3 1309.2,851.3 1310.7,854.2 1312.3,854.5 1313.8,854.2 1315.3,854.8 1316.9,855.6 1318.4,854.3 1319.9,856.8 1321.5,855.8 1323,857.0 1324.7,860.5 1326.3,865.4 1328,870.0 1331,745.0 1332.5,753.7 1334,762.0 1335.7,763.6 1337.3,767.3 1339,769.0 1340.6,772.5 1342.2,773.2 1343.8,774.9 1345.4,777.3 1347,780.1 1348.6,782.4 1350.2,784.1 1351.8,786.2 1353.4,786.6 1355,790.0 1356.5,790.8 1358,793.0 1359.5,796.4 1361,796.9 1362.5,799.6 1364,799.8 1365.5,801.8 1367,805.0 1368.6,803.6 1370.1,804.1 1371.7,803.4 1373.3,802.7 1374.9,800.8 1376.4,800.8 1378,800.0 1379.6,801.0 1381.2,802.1 1382.8,802.2 1384.4,805.6 1386,804.6 1387.6,808.0 1389.2,809.0 1390.8,807.4 1392.4,809.8 1394,811.0 1395.8,810.5 1397.5,809.4 1399.2,806.3 1401,805.0 1402.5,804.3 1404,804.0 1405.6,806.2 1407.1,803.9 1408.6,805.0 1410.1,803.6 1411.7,804.7 1413.2,806.0 1414.7,803.5 1416.2,805.5 1417.8,804.5 1419.3,805.6 1420.8,805.0 1422.3,803.5 1423.9,805.5 1425.4,804.2 1426.9,802.8 1428.4,802.7 1430,804.1 1431.5,803.9 1433,804.0 1434.5,810.7 1436,818.0 1438.5,675.0 1440.2,682.1 1442,690.0 1444,697.1 1446,705.0 1448,709.9 1450,716.0 1451.6,717.0 1453.1,714.5 1454.7,716.8 1456.2,717.0 1457.8,714.9 1459.3,717.3 1460.9,716.6 1462.4,717.2 1464,716.0 1465.6,715.7 1467.2,716.2 1468.8,716.6 1470.4,718.7 1472,717.8 1473.6,717.4 1475.2,717.9 1476.8,717.7 1478.4,717.3 1480,719.0 1481.5,717.7 1483.1,719.9 1484.6,718.1 1486.2,720.0 1487.7,717.9 1489.2,717.8 1490.8,718.5 1492.3,717.5 1493.8,717.9 1495.4,719.6 1496.9,719.3 1498.5,719.0 1500,718.0 1501.5,718.4 1503,719.2 1504.6,719.3 1506.1,718.1 1507.6,718.7 1509.1,716.6 1510.6,718.7 1512.1,717.9 1513.7,718.8 1515.2,718.4 1516.7,717.4 1518.2,716.6 1519.7,719.3 1521.2,716.9 1522.8,717.9 1524.3,717.5 1525.8,717.4 1527.3,718.7 1528.8,719.4 1530.3,717.3 1531.9,718.5 1533.4,717.4 1534.9,718.2 1536.4,717.7 1537.9,717.0 1539.4,717.0 1541,717.1 1542.5,719.2 1544,718.0 1546,734.0 1548.4,574.0 1550.2,581.0 1552,588.0 1553.6,587.7 1555.2,592.3 1556.8,594.2 1558.4,591.6 1560,593.0 1561.6,590.9 1563.2,592.1 1564.9,592.0 1566.5,595.1 1568.1,593.6 1569.8,595.8 1571.4,596.8 1573,600.0 1574.5,601.5 1576,605.6 1577.5,604.9 1579,602.0 1580.5,602.8 1582,604.8 1583.5,603.8 1585,606.0 1586.6,603.5 1588.2,599.3 1589.9,601.5 1591.5,610.5 1593.1,598.1 1594.8,603.1 1596.4,604.5 1598,602.0 1599.6,607.7 1601.1,597.1 1602.7,597.8 1604.3,597.3 1605.9,599.6 1607.4,600.2 1609,608.7 1610.6,606.8 1612.1,607.2 1613.7,592.2 1615.3,592.2 1616.9,604.0 1618.4,607.2 1620,600.0 1621.5,599.4 1623,601.3 1624.5,590.7 1626,597.6 1627.5,607.1 1629,605.2 1630.5,605.6 1632,607.6 1633.5,594.5 1635,591.9 1636.5,592.6 1638,599.1 1639.5,601.8 1641,606.4 1642.5,602.3 1644,600.9 1645.5,602.9 1647,598.0 1648.7,601.2 1650.3,605.6 1652,609.0 1655.5,493.0 1657,496.4 1658.5,501.8 1660,505.0 1661.5,506.9 1663,514.0 1664.5,515.8 1666,518.0 1667.7,518.3 1669.3,518.7 1671,521.6 1672.7,527.4 1674.3,530.1 1676,530.0 1677.7,525.7 1679.3,525.1 1681,530.3 1682.7,531.0 1684.3,528.7 1686,530.0 1687.7,527.5 1689.3,532.9 1691,526.6 1692.7,531.0 1694.3,533.7 1696,535.0 1697.5,540.2 1699,536.1 1700.5,538.7 1702,533.5 1703.5,530.3 1705,530.1 1706.5,538.3 1708,535.0 1709.5,529.9 1711,526.1 1712.5,531.5 1714,533.3 1715.5,530.0 1717,527.7 1718.5,532.3 1720,530.0 1721.5,535.4 1723.1,527.3 1724.6,525.3 1726.2,529.3 1727.7,530.6 1729.2,534.0 1730.8,528.5 1732.3,536.0 1733.8,535.6 1735.4,533.1 1736.9,529.8 1738.5,539.3 1740,534.0 1741.8,531.6 1743.5,537.0 1745.2,530.4 1747,533.0 1749.5,548.0 1750.5,404.0 1752,407.1 1753.5,412.4 1755,415.0 1757,417.7 1759,424.0 1760.6,429.8 1762.2,424.7 1763.8,421.4 1765.4,422.3 1767,426.0 1768.6,424.2 1770.2,426.3 1771.8,428.4 1773.4,419.1 1775,422.0 1776.5,424.4 1778,425.8 1779.5,438.0 1781,436.0 1782.6,432.7 1784.2,432.5 1785.8,433.6 1787.3,438.7 1788.9,445.9 1790.5,446.8 1792.1,445.9 1793.7,450.3 1795.2,450.5 1796.8,443.8 1798.4,442.9 1800,448.0 1801.5,454.7 1803.1,453.4 1804.6,445.1 1806.2,454.4 1807.7,451.8 1809.2,452.8 1810.8,453.4 1812.3,452.3 1813.8,451.2 1815.4,455.9 1816.9,457.9 1818.5,466.8 1820,462.0 1821.8,459.2 1823.5,471.8 1825.2,464.4 1827,470.0 1829,479.7 1831,492.0 1833,491.9 1835,486.0 1836.7,488.3 1838.3,482.6 1840,482.0 1841.7,485.0 1843.3,493.9 1845,500.0 1847,329.0 1849,334.1 1851,340.0 1853,348.0 1854.5,353.2 1856,344.1 1857.5,346.2 1859,353.3 1860.5,341.6 1862,348.0 1863.6,347.3 1865.2,353.7 1866.8,353.7 1868.4,343.6 1870,351.0 1871.5,343.5 1873,343.4 1874.5,355.8 1876,345.4 1877.5,352.2 1879,348.0 1880.6,354.7 1882.2,347.1 1883.9,346.8 1885.5,357.9 1887.1,353.5 1888.8,348.9 1890.4,356.5 1892,354.0 1893.6,350.6 1895.2,349.4 1896.8,344.8 1898.4,355.4 1900,351.0 1901.6,357.4 1903.1,353.3 1904.7,358.1 1906.3,344.4 1907.9,347.7 1909.4,351.5 1911,352.0 1912.6,358.8 1914.2,358.6 1915.8,350.0 1917.4,347.9 1919,350.4 1920.6,351.3 1922.2,357.7 1923.8,346.4 1925.4,355.6 1927,351.0 1928.6,354.2 1930.2,355.0 1931.9,353.9 1933.5,351.1 1935.1,346.6 1936.8,346.2 1938.4,346.4 1940,348.0 1941.7,351.5 1943.3,341.7 1945,343.1 1946.7,349.9 1948.3,343.2 1950,346.0 1951.5,346.9 1953,353.0 1955,250.0 1956.5,252.6 1958,258.0 1959.5,260.5 1961,262.0 1962.8,259.9 1964.5,268.0 1966.2,266.9 1968,262.0 1969.6,268.8 1971.2,259.6 1972.8,257.5 1974.4,258.0 1976,264.0 1977.6,265.2 1979.2,269.3 1980.8,266.9 1982.4,265.1 1984,270.0 1985.6,270.0 1987.2,274.1 1988.8,276.0 1990.4,278.3 1992,276.0 1993.5,279.5 1995,275.5 1996.5,265.6 1998,270.0 1999.8,275.3 2001.5,265.3 2003.2,269.8 2005,268.0 2006.5,265.6 2008,273.3 2009.5,262.4 2011,263.5 2012.5,263.7 2014,261.9 2015.5,277.6 2017,271.3 2018.5,266.0 2020,270.0 2021.5,267.7 2023.1,280.8 2024.6,270.2 2026.2,264.1 2027.7,276.8 2029.3,273.4 2030.8,280.8 2032.4,261.3 2033.9,269.4 2035.5,277.0 2037,270.0 2038.6,277.5 2040.2,279.2 2041.9,260.6 2043.5,266.2 2045.1,262.7 2046.8,264.4 2048.4,280.5 2050,271.0 2051.8,273.1 2053.5,279.7 2055.2,270.3 2057,273.0 2058.5,278.9 2060,273.7 2061.5,272.4 2063,278.3 2064.5,279.8 2066,277.0" fill="none" stroke="#000" stroke-width="5" stroke-linejoin="round" stroke-linecap="round"/>
<path d="M482,1226.0 483.5,1222.9 485,1226.8 486.6,1226.9 488.1,1223.8 489.6,1225.0 491.1,1223.2 492.6,1223.7 494.2,1224.1 495.7,1226.8 497.2,1227.2 498.7,1223.7 500.2,1222.3 501.8,1224.7 503.3,1227.3 504.8,1223.6 506.3,1224.6 507.8,1223.8 509.4,1228.2 510.9,1226.4 512.4,1222.8 513.9,1223.1 515.4,1225.2 517,1226.4 518.5,1227.0 520,1226.0 521.5,1223.1 523.1,1223.6 524.6,1227.2 526.2,1225.2 527.7,1224.3 529.2,1224.5 530.8,1228.7 532.3,1224.5 533.8,1226.1 535.4,1224.7 536.9,1225.1 538.5,1227.8 540,1228.5 541.5,1224.7 543.1,1223.7 544.6,1226.7 546.2,1223.7 547.7,1222.6 549.2,1227.5 550.8,1224.8 552.3,1226.9 553.8,1224.7 555.4,1227.1 556.9,1224.9 558.5,1223.4 560,1225.0 561.7,1222.9 563.3,1225.2 565,1225.0 567,1216.0 569,1224.0 570.5,1224.3 572.1,1225.0 573.6,1223.0 575.2,1224.3 576.8,1223.7 578.3,1224.0 579.9,1223.2 581.4,1223.5 583,1224.1 584.5,1225.0 586,1223.1 587.6,1224.0 589.1,1224.7 590.7,1225.1 592.2,1223.3 593.8,1223.1 595.4,1225.1 596.9,1225.1 598.5,1224.0 600,1224.0 601.5,1222.9 603.1,1224.9 604.6,1223.6 606.2,1224.8 607.7,1224.1 609.2,1224.5 610.8,1222.9 612.3,1224.4 613.8,1223.0 615.4,1223.4 616.9,1224.4 618.5,1224.3 620,1222.7 621.5,1222.8 623.1,1223.2 624.6,1223.4 626.2,1223.1 627.7,1222.4 629.2,1222.7 630.8,1223.8 632.3,1224.1 633.8,1222.1 635.4,1223.3 636.9,1223.7 638.5,1221.9 640,1223.0 641.5,1223.7 643.1,1221.9 644.6,1223.0 646.2,1222.8 647.7,1222.9 649.3,1222.0 650.8,1222.2 652.4,1222.5 653.9,1222.0 655.5,1222.5 657,1222.0 658.5,1216.4 660,1211.0 661.5,1215.4 663,1220.0 664.5,1219.0 666,1220.5 667.5,1220.3 669,1219.8 670.5,1221.1 672,1221.3 673.5,1220.6 675,1220.0 676.5,1220.8 678,1221.0 680,1236.0 681,1071.0 682.5,1076.7 684,1083.0 685.7,1084.7 687.3,1087.6 689,1090.0 690.5,1089.8 692,1090.9 693.5,1091.5 695,1091.3 696.5,1092.7 698,1092.3 699.5,1093.9 701,1094.0 702.5,1094.7 704,1094.6 705.5,1094.1 707,1095.1 708.5,1095.2 710,1096.4 711.5,1095.3 713,1096.8 714.5,1097.2 716,1097.1 717.5,1097.5 719,1096.8 720.5,1098.3 722,1097.8 723.5,1098.8 725,1099.0 726.5,1098.1 728,1099.4 729.5,1099.9 731,1098.8 732.5,1099.5 734,1100.0 735.6,1100.7 737.1,1100.1 738.7,1101.6 740.2,1101.0 741.8,1102.2 743.3,1101.4 744.9,1102.3 746.4,1103.3 748,1103.0 750,1106.8 752,1111.0 754,1107.3 756,1104.0 757.5,1104.0 759,1103.7 760.5,1103.3 762,1103.5 763.5,1103.5 765,1104.7 766.5,1104.3 768,1104.6 769.5,1103.5 771,1104.5 772.5,1103.4 774,1104.0 775.5,1103.8 777,1103.7 778.5,1103.0 780,1103.6 781.5,1102.8 783,1102.6 784.5,1102.9 786,1102.0 787.5,1118.0 788.5,970.0 791,984.0 793,985.9 795,989.0 796.5,990.3 798.1,990.1 799.6,990.2 801.2,991.3 802.7,990.9 804.2,992.6 805.8,992.4 807.3,992.5 808.8,993.6 810.4,993.5 811.9,993.6 813.5,994.9 815,995.0 816.5,994.8 818,996.5 819.5,996.1 821,997.2 822.5,998.3 824,998.1 825.5,998.8 827,998.7 828.5,998.7 830,999.3 831.5,999.9 833,1001.2 834.5,1001.4 836,1002.0 837.5,1003.1 839,1003.0 840.5,1002.9 842,1003.6 843.5,1004.7 845,1004.2 846.5,1004.7 848,1005.8 849.5,1005.9 851,1006.8 852.5,1007.1 854,1008.1 855.5,1008.6 857,1008.5 858.5,1009.7 860,1010.0 861.5,1009.9 863,1011.0 864.6,1012.2 866.1,1011.6 867.7,1011.9 869.2,1012.4 870.8,1013.7 872.4,1014.6 873.9,1015.0 875.5,1014.8 877.1,1015.1 878.6,1015.2 880.2,1016.7 881.8,1017.1 883.3,1017.3 884.9,1018.2 886.4,1018.4 888,1019.0 889.6,1020.5 891.2,1021.0 892.8,1021.0 894.4,1022.8 896,1023.0 898,1029.0 900,954.0 902,966.0 903.5,968.3 905,972.0 906.5,972.5 908,972.6 909.5,972.8 911,972.9 912.5,974.4 914,973.6 915.5,974.9 917,975.9 918.5,975.0 920,976.0 921.5,975.7 923,976.5 924.5,976.5 926,976.9 927.5,977.3 929,976.5 930.5,976.9 932,977.0 933.5,976.8 935,978.3 936.5,978.3 938,978.3 939.5,977.4 941,978.9 942.5,978.9 944,978.6 945.5,979.2 947,978.9 948.5,978.7 950,978.7 951.5,979.1 953,978.9 954.5,979.6 956,980.0 957.5,980.5 959,980.6 960.5,981.0 962,980.9 963.5,980.3 965,980.9 966.5,980.8 968,981.5 969.5,981.2 971,981.0 972.5,981.7 974,982.3 975.5,981.3 977,982.5 978.5,981.2 980,981.7 981.5,981.8 983,982.8 984.5,983.2 986,983.1 987.5,982.5 989,983.5 990.5,982.8 992,982.8 993.5,984.0 995,983.7 996.5,983.9 998,984.0 999.5,984.6 1001,984.0 1003,995.0 1004.5,913.0 1006.2,919.0 1008,925.0 1010,929.0 1012,932.0 1013.5,932.7 1015,933.4 1016.5,933.1 1018,934.0 1019.5,934.2 1021,934.2 1022.5,934.5 1024,935.5 1025.5,935.1 1027,936.8 1028.5,936.0 1030,937.0 1031.5,936.5 1033,937.0 1034.5,938.6 1036,938.0 1037.5,937.9 1039,938.0 1040.5,938.4 1042,939.7 1043.5,939.9 1045,940.3 1046.5,940.7 1048,939.9 1049.5,941.0 1051,941.0 1052.5,942.0 1054,942.3 1055.5,942.7 1057,941.7 1058.5,943.3 1060,943.0 1061.5,943.9 1063,944.2 1064.5,943.1 1066,943.5 1067.5,943.6 1069,943.8 1070.5,945.3 1072,945.5 1073.5,945.5 1075,946.0 1076.5,946.0 1078,945.7 1079.5,945.6 1081,945.9 1082.5,947.2 1084,946.5 1085.5,947.0 1087,947.4 1088.5,947.0 1090,948.0 1091.5,947.9 1093,948.2 1094.5,949.1 1096,948.8 1097.5,949.0 1099,950.2 1100.5,949.8 1102,950.6 1103.5,950.4 1105,949.7 1106.5,950.6 1108,951.0 1109.5,957.4 1111,964.0 1113.5,859.0 1115.2,862.7 1117,866.0 1118.8,867.2 1120.5,869.4 1122.2,870.6 1124,872.0 1125.6,872.7 1127.2,875.2 1128.8,874.9 1130.3,877.7 1131.9,877.6 1133.5,878.4 1135.1,880.1 1136.7,882.6 1138.2,884.3 1139.8,883.4 1141.4,885.7 1143,887.0 1144.5,888.0 1146.1,889.7 1147.6,889.2 1149.1,891.0 1150.6,891.6 1152.2,893.8 1153.7,893.4 1155.2,896.1 1156.8,895.5 1158.3,896.3 1159.8,898.5 1161.4,899.0 1162.9,899.1 1164.4,901.3 1165.9,901.0 1167.5,903.7 1169,904.0 1170.5,905.4 1172,906.5 1173.5,907.0 1175,907.3 1176.5,908.3 1178,909.1 1179.5,911.2 1181,910.2 1182.5,913.0 1184,913.0 1185.5,912.0 1187.1,912.5 1188.6,912.7 1190.2,914.3 1191.7,913.5 1193.3,913.3 1194.8,914.6 1196.4,913.1 1197.9,913.7 1199.5,914.0 1201,914.6 1202.5,914.7 1204.1,914.5 1205.6,913.9 1207.2,913.9 1208.7,913.6 1210.3,915.4 1211.8,915.0 1213.4,915.3 1214.9,914.0 1216.5,914.8 1218,915.0 1220,924.0 1221.5,797.0 1224,815.0 1225.5,821.5 1227,827.0 1228.6,828.0 1230.1,827.8 1231.7,829.4 1233.2,831.3 1234.8,830.5 1236.3,831.3 1237.9,832.4 1239.4,834.2 1241,835.3 1242.6,834.5 1244.1,835.3 1245.7,836.4 1247.2,837.4 1248.8,838.7 1250.3,838.7 1251.9,839.9 1253.4,840.4 1255,842.0 1256.5,843.4 1258,843.1 1259.5,841.8 1261,844.2 1262.5,842.4 1264,843.3 1265.5,845.0 1267,844.8 1268.5,845.0 1270,844.5 1271.5,844.2 1273,845.5 1274.5,844.5 1276,845.0 1277.5,845.7 1279,845.1 1280.5,846.3 1282,847.5 1283.5,847.5 1285,847.3 1286.5,847.9 1288,847.8 1289.5,847.3 1291,848.6 1292.5,848.4 1294,849.5 1295.5,850.2 1297,849.3 1298.5,849.9 1300,850.0 1301.5,851.1 1303.1,850.7 1304.6,850.7 1306.1,852.4 1307.7,853.2 1309.2,853.5 1310.7,853.7 1312.3,854.6 1313.8,854.6 1315.3,855.0 1316.9,855.0 1318.4,855.2 1319.9,856.4 1321.5,855.6 1323,857.0 1324.7,861.2 1326.3,865.9 1328,870.0 1331,745.0 1332.5,753.7 1334,762.0 1335.7,764.6 1337.3,766.1 1339,769.0 1340.6,770.9 1342.2,773.1 1343.8,775.6 1345.4,777.2 1347,779.9 1348.6,782.6 1350.2,782.9 1351.8,786.2 1353.4,788.6 1355,790.0 1356.5,791.6 1358,793.7 1359.5,796.8 1361,796.4 1362.5,799.5 1364,800.4 1365.5,803.8 1367,805.0 1368.6,805.3 1370.1,803.6 1371.7,801.9 1373.3,802.3 1374.9,801.5 1376.4,801.2 1378,800.0 1379.6,801.1 1381.2,802.5 1382.8,804.1 1384.4,804.5 1386,805.3 1387.6,807.7 1389.2,807.0 1390.8,809.2 1392.4,809.6 1394,811.0 1395.8,810.1 1397.5,807.1 1399.2,807.7 1401,805.0 1402.5,804.6 1404,803.8 1405.6,804.3 1407.1,804.6 1408.6,803.6 1410.1,804.5 1411.7,804.5 1413.2,805.1 1414.7,804.2 1416.2,804.0 1417.8,803.8 1419.3,805.0 1420.8,805.4 1422.3,804.4 1423.9,803.6 1425.4,805.0 1426.9,803.9 1428.4,803.5 1430,803.2 1431.5,804.7 1433,804.0 1434.5,811.4 1436,818.0 1438.5,675.0 1440.2,682.6 1442,690.0 1444,697.4 1446,705.0 1448,710.6 1450,716.0 1451.6,715.3 1453.1,717.1 1454.7,715.6 1456.2,716.3 1457.8,716.8 1459.3,716.8 1460.9,715.9 1462.4,715.5 1464,716.0 1465.6,716.4 1467.2,715.7 1468.8,717.7 1470.4,716.9 1472,718.3 1473.6,717.2 1475.2,717.8 1476.8,717.8 1478.4,718.5 1480,719.0 1481.5,718.2 1483.1,717.7 1484.6,719.3 1486.2,718.2 1487.7,718.0 1489.2,718.1 1490.8,718.4 1492.3,718.2 1493.8,718.6 1495.4,718.6 1496.9,717.8 1498.5,719.1 1500,718.0 1501.5,718.9 1503,716.9 1504.6,718.8 1506.1,719.0 1507.6,718.7 1509.1,717.1 1510.6,718.8 1512.1,718.3 1513.7,716.8 1515.2,716.8 1516.7,719.1 1518.2,718.4 1519.7,717.4 1521.2,717.0 1522.8,717.1 1524.3,717.4 1525.8,718.7 1527.3,717.6 1528.8,717.2 1530.3,719.0 1531.9,718.7 1533.4,717.2 1534.9,718.9 1536.4,718.3 1537.9,718.7 1539.4,718.4 1541,718.9 1542.5,718.7 1544,718.0 1546,734.0 1548.4,574.0 1550.2,581.5 1552,588.0 1553.6,587.8 1555.2,590.9 1556.8,591.2 1558.4,593.4 1560,593.0 1561.6,593.5 1563.2,597.4 1564.9,596.0 1566.5,594.8 1568.1,595.4 1569.8,595.5 1571.4,599.1 1573,600.0 1574.5,597.1 1576,601.2 1577.5,599.2 1579,602.9 1580.5,603.7 1582,604.9 1583.5,608.7 1585,606.0 1586.6,600.6 1588.2,608.5 1589.9,604.2 1591.5,604.7 1593.1,605.4 1594.8,607.1 1596.4,600.9 1598,602.0 1599.6,600.8 1601.1,607.7 1602.7,596.0 1604.3,603.2 1605.9,603.1 1607.4,594.8 1609,602.5 1610.6,603.4 1612.1,606.7 1613.7,598.2 1615.3,607.2 1616.9,600.4 1618.4,599.9 1620,600.0 1621.5,605.6 1623,593.1 1624.5,602.8 1626,601.4 1627.5,597.1 1629,604.5 1630.5,597.3 1632,598.7 1633.5,599.4 1635,602.8 1636.5,594.6 1638,597.7 1639.5,597.4 1641,599.2 1642.5,603.0 1644,595.2 1645.5,602.8 1647,598.0 1648.7,600.7 1650.3,605.4 1652,609.0 1655.5,493.0 1657,496.8 1658.5,501.0 1660,505.0 1661.5,510.1 1663,512.2 1664.5,516.4 1666,518.0 1667.7,518.9 1669.3,520.7 1671,522.5 1672.7,526.7 1674.3,529.1 1676,530.0 1677.7,532.5 1679.3,525.8 1681,532.0 1682.7,533.6 1684.3,530.4 1686,530.0 1687.7,526.5 1689.3,529.8 1691,527.8 1692.7,530.4 1694.3,538.2 1696,535.0 1697.5,535.7 1699,535.9 1700.5,536.8 1702,537.7 1703.5,534.5 1705,534.2 1706.5,534.0 1708,534.4 1709.5,533.1 1711,533.6 1712.5,528.8 1714,532.9 1715.5,530.5 1717,533.1 1718.5,526.5 1720,530.0 1721.5,527.2 1723.1,526.2 1724.6,533.6 1726.2,535.2 1727.7,533.0 1729.2,530.6 1730.8,535.3 1732.3,535.2 1733.8,533.4 1735.4,530.8 1736.9,531.5 1738.5,532.9 1740,534.0 1741.8,532.1 1743.5,532.9 1745.2,534.4 1747,533.0 1749.5,548.0 1750.5,404.0 1752,408.4 1753.5,409.9 1755,415.0 1757,420.0 1759,424.0 1760.6,420.0 1762.2,421.1 1763.8,428.2 1765.4,426.3 1767,426.0 1768.6,429.1 1770.2,423.9 1771.8,419.4 1773.4,421.9 1775,422.0 1776.5,426.3 1778,432.9 1779.5,436.9 1781,436.0 1782.6,436.8 1784.2,437.1 1785.8,435.1 1787.3,441.4 1788.9,438.1 1790.5,438.5 1792.1,438.1 1793.7,439.0 1795.2,446.9 1796.8,442.1 1798.4,451.8 1800,448.0 1801.5,444.8 1803.1,454.0 1804.6,447.4 1806.2,447.3 1807.7,455.7 1809.2,451.8 1810.8,458.0 1812.3,453.4 1813.8,453.0 1815.4,461.6 1816.9,462.1 1818.5,464.6 1820,462.0 1821.8,466.3 1823.5,461.8 1825.2,469.3 1827,470.0 1829,482.5 1831,492.0 1833,488.7 1835,486.0 1836.7,488.6 1838.3,481.2 1840,482.0 1841.7,490.5 1843.3,494.6 1845,500.0 1847,329.0 1849,333.3 1851,340.0 1853,348.0 1854.5,343.2 1856,349.5 1857.5,351.3 1859,343.5 1860.5,345.9 1862,348.0 1863.6,351.2 1865.2,345.4 1866.8,354.0 1868.4,350.2 1870,351.0 1871.5,345.2 1873,348.4 1874.5,350.4 1876,348.3 1877.5,350.6 1879,348.0 1880.6,344.5 1882.2,353.1 1883.9,348.6 1885.5,352.7 1887.1,353.3 1888.8,351.5 1890.4,351.9 1892,354.0 1893.6,356.8 1895.2,358.1 1896.8,355.6 1898.4,352.4 1900,351.0 1901.6,348.7 1903.1,346.0 1904.7,357.1 1906.3,354.0 1907.9,355.6 1909.4,349.8 1911,352.0 1912.6,353.2 1914.2,357.5 1915.8,355.7 1917.4,352.8 1919,349.2 1920.6,350.5 1922.2,356.0 1923.8,349.7 1925.4,353.3 1927,351.0 1928.6,351.8 1930.2,354.9 1931.9,353.5 1933.5,347.0 1935.1,343.4 1936.8,346.0 1938.4,347.5 1940,348.0 1941.7,348.6 1943.3,350.7 1945,351.0 1946.7,342.0 1948.3,349.6 1950,346.0 1951.5,351.0 1953,353.0 1955,250.0 1956.5,254.9 1958,258.0 1959.5,260.5 1961,262.0 1962.8,259.8 1964.5,265.5 1966.2,265.1 1968,262.0 1969.6,264.3 1971.2,267.2 1972.8,261.5 1974.4,259.0 1976,264.0 1977.6,265.8 1979.2,269.7 1980.8,264.2 1982.4,271.6 1984,270.0 1985.6,276.0 1987.2,269.4 1988.8,274.8 1990.4,276.8 1992,276.0 1993.5,274.1 1995,269.5 1996.5,268.5 1998,270.0 1999.8,272.9 2001.5,273.2 2003.2,267.9 2005,268.0 2006.5,261.5 2008,273.4 2009.5,273.1 2011,264.4 2012.5,270.3 2014,275.9 2015.5,276.0 2017,270.0 2018.5,269.4 2020,270.0 2021.5,271.6 2023.1,264.5 2024.6,264.6 2026.2,264.4 2027.7,273.5 2029.3,267.6 2030.8,271.1 2032.4,268.3 2033.9,270.3 2035.5,263.8 2037,270.0 2038.6,262.2 2040.2,278.8 2041.9,268.2 2043.5,263.9 2045.1,272.8 2046.8,275.5 2048.4,265.3 2050,271.0 2051.8,273.0 2053.5,269.8 2055.2,272.8 2057,273.0 2058.5,268.2 2060,269.6 2061.5,279.3 2063,278.4 2064.5,276.2 2066,277.0" fill="none" stroke="#000" stroke-width="5" stroke-linejoin="round" stroke-linecap="round"/>
<path d="M482,1226.0 483.5,1226.6 485,1223.9 486.6,1228.5 488.1,1225.3 489.6,1229.9 491.1,1228.3 492.6,1228.8 494.2,1230.0 495.7,1223.9 497.2,1222.0 498.7,1223.4 500.2,1223.3 501.8,1222.4 503.3,1222.2 504.8,1226.5 506.3,1229.1 507.8,1225.7 509.4,1229.7 510.9,1229.4 512.4,1222.4 513.9,1226.8 515.4,1225.2 517,1222.9 518.5,1229.7 520,1226.0 521.5,1224.0 523.1,1226.4 524.6,1227.0 526.2,1229.4 527.7,1227.1 529.2,1225.0 530.8,1225.3 532.3,1223.2 533.8,1229.0 535.4,1229.1 536.9,1223.6 538.5,1222.4 540,1223.9 541.5,1224.5 543.1,1228.1 544.6,1228.0 546.2,1227.5 547.7,1222.5 549.2,1227.0 550.8,1226.5 552.3,1226.1 553.8,1228.0 555.4,1222.6 556.9,1223.1 558.5,1226.4 560,1225.0 561.7,1227.1 563.3,1225.7 565,1225.0 567,1216.0 569,1224.0 570.5,1223.5 572.1,1224.2 573.6,1224.7 575.2,1222.9 576.8,1223.5 578.3,1223.3 579.9,1223.0 581.4,1223.9 583,1223.1 584.5,1223.3 586,1223.0 587.6,1224.5 589.1,1222.7 590.7,1224.6 592.2,1223.2 593.8,1222.7 595.4,1225.2 596.9,1223.2 598.5,1225.2 600,1224.0 601.5,1225.0 603.1,1225.0 604.6,1222.9 606.2,1223.7 607.7,1222.7 609.2,1224.9 610.8,1224.7 612.3,1224.0 613.8,1223.5 615.4,1223.2 616.9,1224.4 618.5,1223.5 620,1223.8 621.5,1222.5 623.1,1222.7 624.6,1222.2 626.2,1223.9 627.7,1223.5 629.2,1222.3 630.8,1224.2 632.3,1222.6 633.8,1222.9 635.4,1222.2 636.9,1222.5 638.5,1224.0 640,1223.0 641.5,1222.5 643.1,1221.9 644.6,1222.7 646.2,1222.1 647.7,1223.6 649.3,1221.4 650.8,1223.7 652.4,1221.1 653.9,1223.2 655.5,1222.5 657,1222.0 658.5,1216.1 660,1211.0 661.5,1215.5 663,1220.0 664.5,1219.5 666,1219.5 667.5,1219.5 669,1220.0 670.5,1221.8 672,1221.9 673.5,1221.8 675,1219.7 676.5,1220.3 678,1221.0 680,1236.0 681,1071.0 682.5,1077.4 684,1083.0 685.7,1084.5 687.3,1088.1 689,1090.0 690.5,1090.1 692,1091.9 693.5,1090.6 695,1092.6 696.5,1092.2 698,1092.4 699.5,1092.6 701,1094.0 702.5,1094.9 704,1094.6 705.5,1094.3 707,1095.0 708.5,1096.1 710,1095.1 711.5,1096.0 713,1095.5 714.5,1095.9 716,1097.2 717.5,1097.4 719,1096.7 720.5,1096.8 722,1097.1 723.5,1098.3 725,1098.4 726.5,1098.2 728,1098.4 729.5,1099.4 731,1099.8 732.5,1100.3 734,1100.0 735.6,1100.5 737.1,1100.1 738.7,1100.2 740.2,1101.8 741.8,1101.5 743.3,1102.4 744.9,1101.5 746.4,1103.2 748,1103.0 750,1106.9 752,1111.0 754,1107.8 756,1104.0 757.5,1104.7 759,1104.0 760.5,1103.1 762,1104.7 763.5,1104.0 765,1104.7 766.5,1103.6 768,1103.4 769.5,1104.6 771,1103.8 772.5,1103.4 774,1104.0 775.5,1103.5 777,1103.7 778.5,1102.4 780,1103.0 781.5,1102.7 783,1102.5 784.5,1101.6 786,1102.0 787.5,1118.0 788.5,970.0 791,984.0 793,986.9 795,989.0 796.5,990.0 798.1,990.6 799.6,990.1 801.2,991.2 802.7,991.1 804.2,992.2 805.8,991.4 807.3,993.4 808.8,994.0 810.4,993.6 811.9,994.1 813.5,994.6 815,995.0 816.5,995.6 818,995.1 819.5,997.3 821,996.5 822.5,996.9 824,997.3 825.5,998.1 827,999.6 828.5,998.7 830,999.3 831.5,1000.9 833,1000.5 834.5,1000.6 836,1002.2 837.5,1002.6 839,1003.0 840.5,1003.5 842,1004.4 843.5,1003.8 845,1005.7 846.5,1005.9 848,1005.2 849.5,1005.8 851,1007.0 852.5,1007.5 854,1007.6 855.5,1007.8 857,1008.8 858.5,1008.8 860,1010.2 861.5,1011.1 863,1011.0 864.6,1010.9 866.1,1012.1 867.7,1012.9 869.2,1012.4 870.8,1014.1 872.4,1014.8 873.9,1014.3 875.5,1014.9 877.1,1016.1 878.6,1016.0 880.2,1016.3 881.8,1017.8 883.3,1018.0 884.9,1017.7 886.4,1018.0 888,1019.0 889.6,1019.5 891.2,1020.5 892.8,1022.3 894.4,1022.7 896,1023.0 898,1029.0 900,954.0 902,966.0 903.5,969.7 905,972.0 906.5,973.0 908,973.4 909.5,972.4 911,973.6 912.5,974.8 914,975.2 915.5,974.3 917,975.1 918.5,975.8 920,976.0 921.5,975.9 923,976.4 924.5,975.7 926,976.5 927.5,976.8 929,976.1 930.5,976.5 932,978.2 933.5,978.0 935,978.5 936.5,978.1 938,978.6 939.5,978.9 941,979.0 942.5,977.7 944,978.9 945.5,978.4 947,979.3 948.5,978.8 950,979.4 951.5,980.3 953,979.9 954.5,979.4 956,980.0 957.5,980.2 959,980.1 960.5,981.2 962,980.2 963.5,980.3 965,981.1 966.5,980.3 968,981.2 969.5,982.0 971,981.4 972.5,981.0 974,981.5 975.5,981.8 977,981.2 978.5,981.3 980,981.5 981.5,981.9 983,982.2 984.5,982.2 986,982.2 987.5,982.1 989,983.0 990.5,983.7 992,983.4 993.5,983.5 995,983.7 996.5,983.1 998,984.1 999.5,983.8 1001,984.0 1003,995.0 1004.5,913.0 1006.2,919.0 1008,925.0 1010,928.7 1012,932.0 1013.5,932.4 1015,932.5 1016.5,932.8 1018,933.2 1019.5,934.1 1021,934.3 1022.5,935.1 1024,934.5 1025.5,935.5 1027,936.8 1028.5,936.1 1030,937.0 1031.5,937.4 1033,937.6 1034.5,937.5 1036,939.1 1037.5,938.1 1039,939.3 1040.5,938.5 1042,938.6 1043.5,940.4 1045,939.9 1046.5,939.5 1048,940.4 1049.5,940.8 1051,941.6 1052.5,940.8 1054,941.3 1055.5,942.9 1057,942.8 1058.5,942.1 1060,943.0 1061.5,943.0 1063,943.2 1064.5,944.1 1066,944.2 1067.5,944.9 1069,945.1 1070.5,944.8 1072,945.4 1073.5,945.7 1075,946.0 1076.5,945.7 1078,946.5 1079.5,946.6 1081,947.2 1082.5,946.1 1084,947.7 1085.5,946.4 1087,948.0 1088.5,947.9 1090,948.0 1091.5,948.2 1093,949.3 1094.5,948.9 1096,948.9 1097.5,949.8 1099,950.2 1100.5,949.9 1102,949.8 1103.5,950.2 1105,950.4 1106.5,951.2 1108,951.0 1109.5,957.3 1111,964.0 1113.5,859.0 1115.2,862.4 1117,866.0 1118.8,867.6 1120.5,868.8 1122.2,870.1 1124,872.0 1125.6,873.9 1127.2,875.3 1128.8,875.7 1130.3,876.9 1131.9,877.5 1133.5,879.0 1135.1,879.9 1136.7,882.2 1138.2,883.5 1139.8,883.4 1141.4,886.9 1143,887.0 1144.5,887.5 1146.1,889.9 1147.6,890.9 1149.1,892.2 1150.6,891.2 1152.2,892.8 1153.7,895.1 1155.2,893.7 1156.8,894.8 1158.3,897.2 1159.8,898.0 1161.4,900.1 1162.9,900.7 1164.4,901.1 1165.9,903.3 1167.5,903.0 1169,904.0 1170.5,904.9 1172,906.3 1173.5,906.4 1175,907.2 1176.5,908.8 1178,909.0 1179.5,911.5 1181,911.7 1182.5,912.2 1184,913.0 1185.5,912.0 1187.1,912.8 1188.6,913.0 1190.2,913.5 1191.7,913.7 1193.3,914.6 1194.8,914.9 1196.4,913.7 1197.9,913.7 1199.5,914.2 1201,915.3 1202.5,913.7 1204.1,914.3 1205.6,915.1 1207.2,913.5 1208.7,914.0 1210.3,915.8 1211.8,915.5 1213.4,914.8 1214.9,913.8 1216.5,916.0 1218,915.0 1220,924.0 1221.5,797.0 1224,815.0 1225.5,821.4 1227,827.0 1228.6,828.7 1230.1,830.0 1231.7,830.5 1233.2,830.1 1234.8,830.2 1236.3,831.4 1237.9,832.9 1239.4,833.7 1241,833.7 1242.6,834.5 1244.1,836.5 1245.7,837.3 1247.2,837.4 1248.8,840.0 1250.3,839.9 1251.9,839.1 1253.4,840.9 1255,842.0 1256.5,843.0 1258,842.0 1259.5,843.3 1261,841.7 1262.5,842.8 1264,844.5 1265.5,844.1 1267,844.6 1268.5,843.6 1270,844.7 1271.5,845.1 1273,844.6 1274.5,845.9 1276,845.8 1277.5,847.3 1279,846.5 1280.5,846.3 1282,845.8 1283.5,846.1 1285,848.0 1286.5,846.5 1288,846.8 1289.5,847.2 1291,848.5 1292.5,849.5 1294,849.2 1295.5,850.0 1297,848.3 1298.5,848.4 1300,850.0 1301.5,851.2 1303.1,850.5 1304.6,852.0 1306.1,851.5 1307.7,851.4 1309.2,852.2 1310.7,852.2 1312.3,854.8 1313.8,854.4 1315.3,854.3 1316.9,855.0 1318.4,855.3 1319.9,854.9 1321.5,857.6 1323,857.0 1324.7,861.5 1326.3,866.1 1328,870.0 1331,745.0 1332.5,753.4 1334,762.0 1335.7,764.6 1337.3,766.1 1339,769.0 1340.6,769.9 1342.2,774.4 1343.8,776.3 1345.4,776.9 1347,780.6 1348.6,782.5 1350.2,783.2 1351.8,786.1 1353.4,789.1 1355,790.0 1356.5,791.9 1358,795.0 1359.5,794.9 1361,797.2 1362.5,800.0 1364,800.5 1365.5,802.6 1367,805.0 1368.6,805.3 1370.1,803.5 1371.7,803.6 1373.3,801.5 1374.9,800.5 1376.4,800.3 1378,800.0 1379.6,800.3 1381.2,803.5 1382.8,802.7 1384.4,804.6 1386,804.5 1387.6,806.7 1389.2,807.4 1390.8,808.5 1392.4,808.7 1394,811.0 1395.8,808.5 1397.5,808.9 1399.2,806.1 1401,805.0 1402.5,804.3 1404,804.1 1405.6,804.3 1407.1,804.1 1408.6,803.5 1410.1,805.2 1411.7,804.2 1413.2,803.7 1414.7,805.1 1416.2,803.4 1417.8,803.9 1419.3,805.3 1420.8,803.4 1422.3,804.2 1423.9,805.2 1425.4,805.1 1426.9,803.3 1428.4,803.7 1430,804.7 1431.5,803.7 1433,804.0 1434.5,811.6 1436,818.0 1438.5,675.0 1440.2,682.2 1442,690.0 1444,698.5 1446,705.0 1448,710.5 1450,716.0 1451.6,715.3 1453.1,715.9 1454.7,715.0 1456.2,716.6 1457.8,715.4 1459.3,717.1 1460.9,716.2 1462.4,715.6 1464,716.0 1465.6,715.6 1467.2,716.9 1468.8,716.1 1470.4,718.2 1472,716.5 1473.6,717.8 1475.2,718.2 1476.8,717.8 1478.4,719.4 1480,719.0 1481.5,718.6 1483.1,719.3 1484.6,719.0 1486.2,718.2 1487.7,718.3 1489.2,717.4 1490.8,717.6 1492.3,719.3 1493.8,717.8 1495.4,718.7 1496.9,717.1 1498.5,718.2 1500,718.0 1501.5,717.6 1503,718.0 1504.6,717.5 1506.1,716.8 1507.6,717.5 1509.1,717.3 1510.6,717.0 1512.1,718.6 1513.7,717.4 1515.2,717.7 1516.7,719.1 1518.2,718.7 1519.7,719.0 1521.2,719.0 1522.8,717.0 1524.3,717.4 1525.8,716.7 1527.3,718.5 1528.8,718.4 1530.3,717.6 1531.9,717.8 1533.4,718.4 1534.9,718.5 1536.4,717.3 1537.9,718.9 1539.4,717.6 1541,718.3 1542.5,717.1 1544,718.0 1546,734.0 1548.4,574.0 1550.2,580.3 1552,588.0 1553.6,590.8 1555.2,591.2 1556.8,592.2 1558.4,589.0 1560,593.0 1561.6,590.5 1563.2,592.2 1564.9,593.2 1566.5,594.9 1568.1,596.4 1569.8,594.3 1571.4,597.5 1573,600.0 1574.5,602.0 1576,598.5 1577.5,605.5 1579,603.7 1580.5,605.9 1582,602.0 1583.5,604.6 1585,606.0 1586.6,607.6 1588.2,603.2 1589.9,598.4 1591.5,608.2 1593.1,607.1 1594.8,600.1 1596.4,596.1 1598,602.0 1599.6,607.0 1601.1,603.3 1602.7,594.9 1604.3,597.6 1605.9,595.4 1607.4,605.6 1609,596.6 1610.6,607.3 1612.1,604.6 1613.7,594.1 1615.3,603.5 1616.9,598.6 1618.4,604.1 1620,600.0 1621.5,605.2 1623,596.2 1624.5,593.0 1626,606.8 1627.5,598.2 1629,606.3 1630.5,602.3 1632,603.0 1633.5,604.3 1635,601.0 1636.5,598.0 1638,591.4 1639.5,601.8 1641,597.3 1642.5,598.5 1644,605.2 1645.5,592.1 1647,598.0 1648.7,604.5 1650.3,602.9 1652,609.0 1655.5,493.0 1657,497.2 1658.5,501.7 1660,505.0 1661.5,507.2 1663,511.8 1664.5,517.7 1666,518.0 1667.7,521.1 1669.3,522.4 1671,521.9 1672.7,522.0 1674.3,526.7 1676,530.0 1677.7,529.1 1679.3,527.0 1681,528.0 1682.7,526.2 1684.3,532.2 1686,530.0 1687.7,532.7 1689.3,528.8 1691,529.7 1692.7,533.5 1694.3,533.6 1696,535.0 1697.5,539.4 1699,532.8 1700.5,531.9 1702,537.9 1703.5,529.6 1705,533.8 1706.5,531.0 1708,535.9 1709.5,532.7 1711,534.7 1712.5,528.0 1714,533.0 1715.5,532.0 1717,530.2 1718.5,533.2 1720,530.0 1721.5,533.9 1723.1,526.5 1724.6,528.6 1726.2,529.7 1727.7,528.4 1729.2,527.1 1730.8,529.8 1732.3,529.2 1733.8,534.9 1735.4,532.5 1736.9,529.2 1738.5,531.8 1740,534.0 1741.8,533.4 1743.5,532.1 1745.2,530.1 1747,533.0 1749.5,548.0 1750.5,404.0 1752,406.9 1753.5,409.6 1755,415.0 1757,423.5 1759,424.0 1760.6,427.1 1762.2,420.3 1763.8,427.5 1765.4,430.8 1767,426.0 1768.6,425.9 1770.2,420.5 1771.8,423.5 1773.4,422.2 1775,422.0 1776.5,422.6 1778,429.4 1779.5,427.4 1781,436.0 1782.6,441.6 1784.2,439.6 1785.8,440.4 1787.3,444.8 1788.9,442.7 1790.5,439.2 1792.1,440.1 1793.7,439.9 1795.2,439.6 1796.8,449.2 1798.4,450.9 1800,448.0 1801.5,446.7 1803.1,446.5 1804.6,452.8 1806.2,456.4 1807.7,458.4 1809.2,450.6 1810.8,458.9 1812.3,460.5 1813.8,460.5 1815.4,456.7 1816.9,456.2 1818.5,464.7 1820,462.0 1821.8,461.9 1823.5,464.5 1825.2,468.6 1827,470.0 1829,479.9 1831,492.0 1833,491.7 1835,486.0 1836.7,482.0 1838.3,478.9 1840,482.0 1841.7,488.4 1843.3,494.4 1845,500.0 1847,329.0 1849,335.4 1851,340.0 1853,348.0 1854.5,350.3 1856,352.6 1857.5,353.2 1859,347.9 1860.5,348.0 1862,348.0 1863.6,344.2 1865.2,346.6 1866.8,350.9 1868.4,344.8 1870,351.0 1871.5,353.0 1873,345.5 1874.5,348.7 1876,355.3 1877.5,343.0 1879,348.0 1880.6,342.5 1882.2,348.7 1883.9,346.1 1885.5,354.0 1887.1,345.0 1888.8,357.1 1890.4,358.0 1892,354.0 1893.6,357.3 1895.2,351.8 1896.8,349.3 1898.4,353.8 1900,351.0 1901.6,351.3 1903.1,350.2 1904.7,349.3 1906.3,350.7 1907.9,354.0 1909.4,356.3 1911,352.0 1912.6,357.4 1914.2,347.3 1915.8,348.9 1917.4,350.8 1919,352.4 1920.6,349.3 1922.2,347.2 1923.8,345.6 1925.4,348.7 1927,351.0 1928.6,350.1 1930.2,356.5 1931.9,355.3 1933.5,354.3 1935.1,355.3 1936.8,354.7 1938.4,349.9 1940,348.0 1941.7,351.5 1943.3,342.1 1945,349.1 1946.7,347.9 1948.3,344.1 1950,346.0 1951.5,349.9 1953,353.0 1955,250.0 1956.5,255.2 1958,258.0 1959.5,259.8 1961,262.0 1962.8,263.6 1964.5,259.7 1966.2,260.2 1968,262.0 1969.6,267.0 1971.2,257.1 1972.8,259.4 1974.4,265.8 1976,264.0 1977.6,264.5 1979.2,261.2 1980.8,269.6 1982.4,267.2 1984,270.0 1985.6,272.2 1987.2,271.3 1988.8,274.0 1990.4,275.6 1992,276.0 1993.5,273.1 1995,267.8 1996.5,267.0 1998,270.0 1999.8,275.5 2001.5,269.8 2003.2,261.9 2005,268.0 2006.5,274.8 2008,263.9 2009.5,261.1 2011,269.4 2012.5,264.3 2014,269.0 2015.5,270.4 2017,264.3 2018.5,271.2 2020,270.0 2021.5,262.3 2023.1,270.3 2024.6,271.8 2026.2,261.7 2027.7,268.2 2029.3,261.6 2030.8,268.8 2032.4,277.2 2033.9,271.0 2035.5,274.2 2037,270.0 2038.6,275.2 2040.2,262.8 2041.9,279.8 2043.5,274.7 2045.1,263.2 2046.8,276.8 2048.4,268.9 2050,271.0 2051.8,265.9 2053.5,279.5 2055.2,273.5 2057,273.0 2058.5,277.2 2060,270.2 2061.5,277.7 2063,272.0 2064.5,274.5 2066,277.0" fill="none" stroke="#000" stroke-width="5" stroke-linejoin="round" stroke-linecap="round"/>
<text x="581.1" y="1119.6" font-family='"Liberation Sans", sans-serif' font-size="51" font-weight="bold" text-anchor="start" >0.2</text>
<g transform="translate(578.7,1179.4) scale(1.2,0.88)"><text x="0" y="0" font-family='"Liberation Serif", serif' font-size="52">μ</text></g>
<text x="611.7" y="1179.4" font-family='"Liberation Sans", sans-serif' font-size="51" font-weight="bold">M</text>
<text x="671.5" y="994.3" font-family='"Liberation Sans", sans-serif' font-size="51" font-weight="bold" text-anchor="start" >0.4</text>
<g transform="translate(669.1,1057.2) scale(1.2,0.88)"><text x="0" y="0" font-family='"Liberation Serif", serif' font-size="52">μ</text></g>
<text x="702.1" y="1057.2" font-family='"Liberation Sans", sans-serif' font-size="51" font-weight="bold">M</text>
<text x="784.5" y="887" font-family='"Liberation Sans", sans-serif' font-size="51" font-weight="bold" text-anchor="start" >0.8</text>
<g transform="translate(784.4,950.5) scale(1.2,0.88)"><text x="0" y="0" font-family='"Liberation Serif", serif' font-size="52">μ</text></g>
<text x="817.4" y="950.5" font-family='"Liberation Sans", sans-serif' font-size="51" font-weight="bold">M</text>
<text x="901.4" y="864.5" font-family='"Liberation Sans", sans-serif' font-size="51" font-weight="bold" text-anchor="start" >1</text>
<g transform="translate(899.4,929.0) scale(1.2,0.88)"><text x="0" y="0" font-family='"Liberation Serif", serif' font-size="52">μ</text></g>
<text x="932.4" y="929.0" font-family='"Liberation Sans", sans-serif' font-size="51" font-weight="bold">M</text>
<text x="1005.2" y="847.7" font-family='"Liberation Sans", sans-serif' font-size="51" font-weight="bold" text-anchor="start" >2</text>
<g transform="translate(1005.0,912.2) scale(1.2,0.88)"><text x="0" y="0" font-family='"Liberation Serif", serif' font-size="52">μ</text></g>
<text x="1038.0" y="912.2" font-family='"Liberation Sans", sans-serif' font-size="51" font-weight="bold">M</text>
<text x="1117" y="785.5" font-family='"Liberation Sans", sans-serif' font-size="51" font-weight="bold" text-anchor="start" >4</text>
<g transform="translate(1115.6,846.0) scale(1.2,0.88)"><text x="0" y="0" font-family='"Liberation Serif", serif' font-size="52">μ</text></g>
<text x="1148.6" y="846.0" font-family='"Liberation Sans", sans-serif' font-size="51" font-weight="bold">M</text>
<text x="1242" y="733.5" font-family='"Liberation Sans", sans-serif' font-size="51" font-weight="bold" text-anchor="start" >6</text>
<g transform="translate(1241.4,799.0) scale(1.2,0.88)"><text x="0" y="0" font-family='"Liberation Serif", serif' font-size="52">μ</text></g>
<text x="1274.4" y="799.0" font-family='"Liberation Sans", sans-serif' font-size="51" font-weight="bold">M</text>
<text x="1343.3" y="694.6" font-family='"Liberation Sans", sans-serif' font-size="51" font-weight="bold" text-anchor="start" >8</text>
<g transform="translate(1342.7,760.0) scale(1.2,0.88)"><text x="0" y="0" font-family='"Liberation Serif", serif' font-size="52">μ</text></g>
<text x="1375.7" y="760.0" font-family='"Liberation Sans", sans-serif' font-size="51" font-weight="bold">M</text>
<text x="1447.6" y="609.9" font-family='"Liberation Sans", sans-serif' font-size="51" font-weight="bold" text-anchor="start" >10</text>
<g transform="translate(1445.6,673.5) scale(1.2,0.88)"><text x="0" y="0" font-family='"Liberation Serif", serif' font-size="52">μ</text></g>
<text x="1478.6" y="673.5" font-family='"Liberation Sans", sans-serif' font-size="51" font-weight="bold">M</text>
<text x="1555.2" y="495.8" font-family='"Liberation Sans", sans-serif' font-size="51" font-weight="bold" text-anchor="start" >20</text>
<g transform="translate(1554.0,560.3) scale(1.2,0.88)"><text x="0" y="0" font-family='"Liberation Serif", serif' font-size="52">μ</text></g>
<text x="1587.0" y="560.3" font-family='"Liberation Sans", sans-serif' font-size="51" font-weight="bold">M</text>
<text x="1639.3" y="413.1" font-family='"Liberation Sans", sans-serif' font-size="51" font-weight="bold" text-anchor="start" >40</text>
<g transform="translate(1637.2,476.7) scale(1.2,0.88)"><text x="0" y="0" font-family='"Liberation Serif", serif' font-size="52">μ</text></g>
<text x="1670.2" y="476.7" font-family='"Liberation Sans", sans-serif' font-size="51" font-weight="bold">M</text>
<text x="1743" y="331.8" font-family='"Liberation Sans", sans-serif' font-size="51" font-weight="bold" text-anchor="start" >60</text>
<g transform="translate(1741.9,395.4) scale(1.2,0.88)"><text x="0" y="0" font-family='"Liberation Serif", serif' font-size="52">μ</text></g>
<text x="1774.9" y="395.4" font-family='"Liberation Sans", sans-serif' font-size="51" font-weight="bold">M</text>
<text x="1848.7" y="252.3" font-family='"Liberation Sans", sans-serif' font-size="51" font-weight="bold" text-anchor="start" >80</text>
<g transform="translate(1846.6,316.8) scale(1.2,0.88)"><text x="0" y="0" font-family='"Liberation Serif", serif' font-size="52">μ</text></g>
<text x="1879.6" y="316.8" font-family='"Liberation Sans", sans-serif' font-size="51" font-weight="bold">M</text>
<text x="1908.8" y="221.1" font-family='"Liberation Sans", sans-serif' font-size="51" font-weight="bold" text-anchor="start" >100</text>
<g transform="translate(2010.3,221.1) scale(1.2,0.88)"><text x="0" y="0" font-family='"Liberation Serif", serif' font-size="52">μ</text></g>
<text x="2042.3" y="221.1" font-family='"Liberation Sans", sans-serif' font-size="51" font-weight="bold">M</text>
<rect x="452" y="176" width="695" height="473.5" fill="#fff"/>
<line x1="459.7" y1="181.5" x2="459.7" y2="197.5" stroke="#000" stroke-width="4.7" stroke-linecap="butt"/>
<line x1="459.7" y1="644" x2="459.7" y2="628" stroke="#000" stroke-width="4.7" stroke-linecap="butt"/>
<line x1="479.9" y1="181.5" x2="479.9" y2="197.5" stroke="#000" stroke-width="4.7" stroke-linecap="butt"/>
<line x1="479.9" y1="644" x2="479.9" y2="628" stroke="#000" stroke-width="4.7" stroke-linecap="butt"/>
<line x1="500.2" y1="181.5" x2="500.2" y2="197.5" stroke="#000" stroke-width="4.7" stroke-linecap="butt"/>
<line x1="500.2" y1="644" x2="500.2" y2="628" stroke="#000" stroke-width="4.7" stroke-linecap="butt"/>
<line x1="520.4" y1="181.5" x2="520.4" y2="197.5" stroke="#000" stroke-width="4.7" stroke-linecap="butt"/>
<line x1="520.4" y1="644" x2="520.4" y2="628" stroke="#000" stroke-width="4.7" stroke-linecap="butt"/>
<line x1="560.8" y1="181.5" x2="560.8" y2="197.5" stroke="#000" stroke-width="4.7" stroke-linecap="butt"/>
<line x1="560.8" y1="644" x2="560.8" y2="628" stroke="#000" stroke-width="4.7" stroke-linecap="butt"/>
<line x1="581" y1="181.5" x2="581" y2="197.5" stroke="#000" stroke-width="4.7" stroke-linecap="butt"/>
<line x1="581" y1="644" x2="581" y2="628" stroke="#000" stroke-width="4.7" stroke-linecap="butt"/>
<line x1="601.3" y1="181.5" x2="601.3" y2="197.5" stroke="#000" stroke-width="4.7" stroke-linecap="butt"/>
<line x1="601.3" y1="644" x2="601.3" y2="628" stroke="#000" stroke-width="4.7" stroke-linecap="butt"/>
<line x1="621.5" y1="181.5" x2="621.5" y2="197.5" stroke="#000" stroke-width="4.7" stroke-linecap="butt"/>
<line x1="621.5" y1="644" x2="621.5" y2="628" stroke="#000" stroke-width="4.7" stroke-linecap="butt"/>
<line x1="661.9" y1="181.5" x2="661.9" y2="197.5" stroke="#000" stroke-width="4.7" stroke-linecap="butt"/>
<line x1="661.9" y1="644" x2="661.9" y2="628" stroke="#000" stroke-width="4.7" stroke-linecap="butt"/>
<line x1="682.1" y1="181.5" x2="682.1" y2="197.5" stroke="#000" stroke-width="4.7" stroke-linecap="butt"/>
<line x1="682.1" y1="644" x2="682.1" y2="628" stroke="#000" stroke-width="4.7" stroke-linecap="butt"/>
<line x1="702.4" y1="181.5" x2="702.4" y2="197.5" stroke="#000" stroke-width="4.7" stroke-linecap="butt"/>
<line x1="702.4" y1="644" x2="702.4" y2="628" stroke="#000" stroke-width="4.7" stroke-linecap="butt"/>
<line x1="722.6" y1="181.5" x2="722.6" y2="197.5" stroke="#000" stroke-width="4.7" stroke-linecap="butt"/>
<line x1="722.6" y1="644" x2="722.6" y2="628" stroke="#000" stroke-width="4.7" stroke-linecap="butt"/>
<line x1="763" y1="181.5" x2="763" y2="197.5" stroke="#000" stroke-width="4.7" stroke-linecap="butt"/>
<line x1="763" y1="644" x2="763" y2="628" stroke="#000" stroke-width="4.7" stroke-linecap="butt"/>
<line x1="783.2" y1="181.5" x2="783.2" y2="197.5" stroke="#000" stroke-width="4.7" stroke-linecap="butt"/>
<line x1="783.2" y1="644" x2="783.2" y2="628" stroke="#000" stroke-width="4.7" stroke-linecap="butt"/>
<line x1="803.5" y1="181.5" x2="803.5" y2="197.5" stroke="#000" stroke-width="4.7" stroke-linecap="butt"/>
<line x1="803.5" y1="644" x2="803.5" y2="628" stroke="#000" stroke-width="4.7" stroke-linecap="butt"/>
<line x1="823.7" y1="181.5" x2="823.7" y2="197.5" stroke="#000" stroke-width="4.7" stroke-linecap="butt"/>
<line x1="823.7" y1="644" x2="823.7" y2="628" stroke="#000" stroke-width="4.7" stroke-linecap="butt"/>
<line x1="864.1" y1="181.5" x2="864.1" y2="197.5" stroke="#000" stroke-width="4.7" stroke-linecap="butt"/>
<line x1="864.1" y1="644" x2="864.1" y2="628" stroke="#000" stroke-width="4.7" stroke-linecap="butt"/>
<line x1="884.3" y1="181.5" x2="884.3" y2="197.5" stroke="#000" stroke-width="4.7" stroke-linecap="butt"/>
<line x1="884.3" y1="644" x2="884.3" y2="628" stroke="#000" stroke-width="4.7" stroke-linecap="butt"/>
<line x1="904.6" y1="181.5" x2="904.6" y2="197.5" stroke="#000" stroke-width="4.7" stroke-linecap="butt"/>
<line x1="904.6" y1="644" x2="904.6" y2="628" stroke="#000" stroke-width="4.7" stroke-linecap="butt"/>
<line x1="924.8" y1="181.5" x2="924.8" y2="197.5" stroke="#000" stroke-width="4.7" stroke-linecap="butt"/>
<line x1="924.8" y1="644" x2="924.8" y2="628" stroke="#000" stroke-width="4.7" stroke-linecap="butt"/>
<line x1="965.2" y1="181.5" x2="965.2" y2="197.5" stroke="#000" stroke-width="4.7" stroke-linecap="butt"/>
<line x1="965.2" y1="644" x2="965.2" y2="628" stroke="#000" stroke-width="4.7" stroke-linecap="butt"/>
<line x1="985.4" y1="181.5" x2="985.4" y2="197.5" stroke="#000" stroke-width="4.7" stroke-linecap="butt"/>
<line x1="985.4" y1="644" x2="985.4" y2="628" stroke="#000" stroke-width="4.7" stroke-linecap="butt"/>
<line x1="1005.7" y1="181.5" x2="1005.7" y2="197.5" stroke="#000" stroke-width="4.7" stroke-linecap="butt"/>
<line x1="1005.7" y1="644" x2="1005.7" y2="628" stroke="#000" stroke-width="4.7" stroke-linecap="butt"/>
<line x1="1025.9" y1="181.5" x2="1025.9" y2="197.5" stroke="#000" stroke-width="4.7" stroke-linecap="butt"/>
<line x1="1025.9" y1="644" x2="1025.9" y2="628" stroke="#000" stroke-width="4.7" stroke-linecap="butt"/>
<line x1="1066.3" y1="181.5" x2="1066.3" y2="197.5" stroke="#000" stroke-width="4.7" stroke-linecap="butt"/>
<line x1="1066.3" y1="644" x2="1066.3" y2="628" stroke="#000" stroke-width="4.7" stroke-linecap="butt"/>
<line x1="1086.5" y1="181.5" x2="1086.5" y2="197.5" stroke="#000" stroke-width="4.7" stroke-linecap="butt"/>
<line x1="1086.5" y1="644" x2="1086.5" y2="628" stroke="#000" stroke-width="4.7" stroke-linecap="butt"/>
<line x1="1106.8" y1="181.5" x2="1106.8" y2="197.5" stroke="#000" stroke-width="4.7" stroke-linecap="butt"/>
<line x1="1106.8" y1="644" x2="1106.8" y2="628" stroke="#000" stroke-width="4.7" stroke-linecap="butt"/>
<line x1="1127" y1="181.5" x2="1127" y2="197.5" stroke="#000" stroke-width="4.7" stroke-linecap="butt"/>
<line x1="1127" y1="644" x2="1127" y2="628" stroke="#000" stroke-width="4.7" stroke-linecap="butt"/>
<line x1="540.6" y1="181.5" x2="540.6" y2="207.5" stroke="#000" stroke-width="6.5" stroke-linecap="butt"/>
<line x1="540.6" y1="644" x2="540.6" y2="618" stroke="#000" stroke-width="6.5" stroke-linecap="butt"/>
<line x1="641.7" y1="181.5" x2="641.7" y2="207.5" stroke="#000" stroke-width="6.5" stroke-linecap="butt"/>
<line x1="641.7" y1="644" x2="641.7" y2="618" stroke="#000" stroke-width="6.5" stroke-linecap="butt"/>
<line x1="742.8" y1="181.5" x2="742.8" y2="207.5" stroke="#000" stroke-width="6.5" stroke-linecap="butt"/>
<line x1="742.8" y1="644" x2="742.8" y2="618" stroke="#000" stroke-width="6.5" stroke-linecap="butt"/>
<line x1="843.9" y1="181.5" x2="843.9" y2="207.5" stroke="#000" stroke-width="6.5" stroke-linecap="butt"/>
<line x1="843.9" y1="644" x2="843.9" y2="618" stroke="#000" stroke-width="6.5" stroke-linecap="butt"/>
<line x1="945" y1="181.5" x2="945" y2="207.5" stroke="#000" stroke-width="6.5" stroke-linecap="butt"/>
<line x1="945" y1="644" x2="945" y2="618" stroke="#000" stroke-width="6.5" stroke-linecap="butt"/>
<line x1="1046.1" y1="181.5" x2="1046.1" y2="207.5" stroke="#000" stroke-width="6.5" stroke-linecap="butt"/>
<line x1="1046.1" y1="644" x2="1046.1" y2="618" stroke="#000" stroke-width="6.5" stroke-linecap="butt"/>
<line x1="457.5" y1="635.3" x2="474.5" y2="635.3" stroke="#000" stroke-width="4" stroke-linecap="butt"/>
<line x1="1141.5" y1="635.3" x2="1124.5" y2="635.3" stroke="#000" stroke-width="4" stroke-linecap="butt"/>
<line x1="457.5" y1="619.5" x2="474.5" y2="619.5" stroke="#000" stroke-width="4" stroke-linecap="butt"/>
<line x1="1141.5" y1="619.5" x2="1124.5" y2="619.5" stroke="#000" stroke-width="4" stroke-linecap="butt"/>
<line x1="457.5" y1="603.7" x2="474.5" y2="603.7" stroke="#000" stroke-width="4" stroke-linecap="butt"/>
<line x1="1141.5" y1="603.7" x2="1124.5" y2="603.7" stroke="#000" stroke-width="4" stroke-linecap="butt"/>
<line x1="457.5" y1="587.9" x2="474.5" y2="587.9" stroke="#000" stroke-width="4" stroke-linecap="butt"/>
<line x1="1141.5" y1="587.9" x2="1124.5" y2="587.9" stroke="#000" stroke-width="4" stroke-linecap="butt"/>
<line x1="457.5" y1="556.3" x2="474.5" y2="556.3" stroke="#000" stroke-width="4" stroke-linecap="butt"/>
<line x1="1141.5" y1="556.3" x2="1124.5" y2="556.3" stroke="#000" stroke-width="4" stroke-linecap="butt"/>
<line x1="457.5" y1="540.5" x2="474.5" y2="540.5" stroke="#000" stroke-width="4" stroke-linecap="butt"/>
<line x1="1141.5" y1="540.5" x2="1124.5" y2="540.5" stroke="#000" stroke-width="4" stroke-linecap="butt"/>
<line x1="457.5" y1="524.7" x2="474.5" y2="524.7" stroke="#000" stroke-width="4" stroke-linecap="butt"/>
<line x1="1141.5" y1="524.7" x2="1124.5" y2="524.7" stroke="#000" stroke-width="4" stroke-linecap="butt"/>
<line x1="457.5" y1="508.9" x2="474.5" y2="508.9" stroke="#000" stroke-width="4" stroke-linecap="butt"/>
<line x1="1141.5" y1="508.9" x2="1124.5" y2="508.9" stroke="#000" stroke-width="4" stroke-linecap="butt"/>
<line x1="457.5" y1="477.4" x2="474.5" y2="477.4" stroke="#000" stroke-width="4" stroke-linecap="butt"/>
<line x1="1141.5" y1="477.4" x2="1124.5" y2="477.4" stroke="#000" stroke-width="4" stroke-linecap="butt"/>
<line x1="457.5" y1="461.6" x2="474.5" y2="461.6" stroke="#000" stroke-width="4" stroke-linecap="butt"/>
<line x1="1141.5" y1="461.6" x2="1124.5" y2="461.6" stroke="#000" stroke-width="4" stroke-linecap="butt"/>
<line x1="457.5" y1="445.8" x2="474.5" y2="445.8" stroke="#000" stroke-width="4" stroke-linecap="butt"/>
<line x1="1141.5" y1="445.8" x2="1124.5" y2="445.8" stroke="#000" stroke-width="4" stroke-linecap="butt"/>
<line x1="457.5" y1="430" x2="474.5" y2="430" stroke="#000" stroke-width="4" stroke-linecap="butt"/>
<line x1="1141.5" y1="430" x2="1124.5" y2="430" stroke="#000" stroke-width="4" stroke-linecap="butt"/>
<line x1="457.5" y1="398.4" x2="474.5" y2="398.4" stroke="#000" stroke-width="4" stroke-linecap="butt"/>
<line x1="1141.5" y1="398.4" x2="1124.5" y2="398.4" stroke="#000" stroke-width="4" stroke-linecap="butt"/>
<line x1="457.5" y1="382.6" x2="474.5" y2="382.6" stroke="#000" stroke-width="4" stroke-linecap="butt"/>
<line x1="1141.5" y1="382.6" x2="1124.5" y2="382.6" stroke="#000" stroke-width="4" stroke-linecap="butt"/>
<line x1="457.5" y1="366.9" x2="474.5" y2="366.9" stroke="#000" stroke-width="4" stroke-linecap="butt"/>
<line x1="1141.5" y1="366.9" x2="1124.5" y2="366.9" stroke="#000" stroke-width="4" stroke-linecap="butt"/>
<line x1="457.5" y1="351.1" x2="474.5" y2="351.1" stroke="#000" stroke-width="4" stroke-linecap="butt"/>
<line x1="1141.5" y1="351.1" x2="1124.5" y2="351.1" stroke="#000" stroke-width="4" stroke-linecap="butt"/>
<line x1="457.5" y1="319.5" x2="474.5" y2="319.5" stroke="#000" stroke-width="4" stroke-linecap="butt"/>
<line x1="1141.5" y1="319.5" x2="1124.5" y2="319.5" stroke="#000" stroke-width="4" stroke-linecap="butt"/>
<line x1="457.5" y1="303.7" x2="474.5" y2="303.7" stroke="#000" stroke-width="4" stroke-linecap="butt"/>
<line x1="1141.5" y1="303.7" x2="1124.5" y2="303.7" stroke="#000" stroke-width="4" stroke-linecap="butt"/>
<line x1="457.5" y1="287.9" x2="474.5" y2="287.9" stroke="#000" stroke-width="4" stroke-linecap="butt"/>
<line x1="1141.5" y1="287.9" x2="1124.5" y2="287.9" stroke="#000" stroke-width="4" stroke-linecap="butt"/>
<line x1="457.5" y1="272.1" x2="474.5" y2="272.1" stroke="#000" stroke-width="4" stroke-linecap="butt"/>
<line x1="1141.5" y1="272.1" x2="1124.5" y2="272.1" stroke="#000" stroke-width="4" stroke-linecap="butt"/>
<line x1="457.5" y1="240.6" x2="474.5" y2="240.6" stroke="#000" stroke-width="4" stroke-linecap="butt"/>
<line x1="1141.5" y1="240.6" x2="1124.5" y2="240.6" stroke="#000" stroke-width="4" stroke-linecap="butt"/>
<line x1="457.5" y1="224.8" x2="474.5" y2="224.8" stroke="#000" stroke-width="4" stroke-linecap="butt"/>
<line x1="1141.5" y1="224.8" x2="1124.5" y2="224.8" stroke="#000" stroke-width="4" stroke-linecap="butt"/>
<line x1="457.5" y1="209" x2="474.5" y2="209" stroke="#000" stroke-width="4" stroke-linecap="butt"/>
<line x1="1141.5" y1="209" x2="1124.5" y2="209" stroke="#000" stroke-width="4" stroke-linecap="butt"/>
<line x1="457.5" y1="193.2" x2="474.5" y2="193.2" stroke="#000" stroke-width="4" stroke-linecap="butt"/>
<line x1="1141.5" y1="193.2" x2="1124.5" y2="193.2" stroke="#000" stroke-width="4" stroke-linecap="butt"/>
<line x1="457.5" y1="572.1" x2="484.5" y2="572.1" stroke="#000" stroke-width="5.5" stroke-linecap="butt"/>
<line x1="1141.5" y1="572.1" x2="1114.5" y2="572.1" stroke="#000" stroke-width="5.5" stroke-linecap="butt"/>
<line x1="457.5" y1="493.2" x2="484.5" y2="493.2" stroke="#000" stroke-width="5.5" stroke-linecap="butt"/>
<line x1="1141.5" y1="493.2" x2="1114.5" y2="493.2" stroke="#000" stroke-width="5.5" stroke-linecap="butt"/>
<line x1="457.5" y1="414.2" x2="484.5" y2="414.2" stroke="#000" stroke-width="5.5" stroke-linecap="butt"/>
<line x1="1141.5" y1="414.2" x2="1114.5" y2="414.2" stroke="#000" stroke-width="5.5" stroke-linecap="butt"/>
<line x1="457.5" y1="335.3" x2="484.5" y2="335.3" stroke="#000" stroke-width="5.5" stroke-linecap="butt"/>
<line x1="1141.5" y1="335.3" x2="1114.5" y2="335.3" stroke="#000" stroke-width="5.5" stroke-linecap="butt"/>
<line x1="457.5" y1="256.3" x2="484.5" y2="256.3" stroke="#000" stroke-width="5.5" stroke-linecap="butt"/>
<line x1="1141.5" y1="256.3" x2="1114.5" y2="256.3" stroke="#000" stroke-width="5.5" stroke-linecap="butt"/>
<rect x="452" y="176" width="695" height="473.5" fill="none" stroke="#000" stroke-width="13" stroke-linejoin="round"/>
<text x="433" y="663" font-family='"Liberation Serif", serif' font-size="35" font-weight="bold" text-anchor="end" >4</text>
<text x="433" y="584.1" font-family='"Liberation Serif", serif' font-size="35" font-weight="bold" text-anchor="end" >6</text>
<text x="433" y="505.2" font-family='"Liberation Serif", serif' font-size="35" font-weight="bold" text-anchor="end" >8</text>
<text x="433" y="426.2" font-family='"Liberation Serif", serif' font-size="35" font-weight="bold" text-anchor="end" >10</text>
<text x="433" y="347.3" font-family='"Liberation Serif", serif' font-size="35" font-weight="bold" text-anchor="end" >12</text>
<text x="433" y="268.3" font-family='"Liberation Serif", serif' font-size="35" font-weight="bold" text-anchor="end" >14</text>
<text x="433" y="189.4" font-family='"Liberation Serif", serif' font-size="35" font-weight="bold" text-anchor="end" >16</text>
<text x="540.6" y="702" font-family='"Liberation Serif", serif' font-size="34" font-weight="bold" text-anchor="middle" >0</text>
<text x="641.7" y="702" font-family='"Liberation Serif", serif' font-size="34" font-weight="bold" text-anchor="middle" >2</text>
<text x="742.8" y="702" font-family='"Liberation Serif", serif' font-size="34" font-weight="bold" text-anchor="middle" >4</text>
<text x="843.9" y="702" font-family='"Liberation Serif", serif' font-size="34" font-weight="bold" text-anchor="middle" >6</text>
<text x="945" y="702" font-family='"Liberation Serif", serif' font-size="34" font-weight="bold" text-anchor="middle" >8</text>
<text x="1046.1" y="702" font-family='"Liberation Serif", serif' font-size="34" font-weight="bold" text-anchor="middle" >10</text>
<text x="1147.2" y="702" font-family='"Liberation Serif", serif' font-size="34" font-weight="bold" text-anchor="middle" >12</text>
<g transform="matrix(1.1717 0 0 1.0000 -113.29 -0.30)"><text x="646" y="771" font-family='"Liberation Serif", serif' font-size="32" font-weight="bold">[Glucose] / μmol L<tspan font-size="31" dy="-16">-1</tspan></text></g>
<text transform="translate(364,404.5) rotate(-90)" font-family='"Liberation Serif", serif' font-size="38" text-anchor="middle">I / μA</text>
<g transform="matrix(1.0756 0 0 1.0370 -41.14 -11.67)"><text x="545" y="311.8" font-family='"Liberation Serif", serif' font-size="80" text-anchor="middle">(<tspan font-weight="bold">1</tspan>)</text></g>
<line x1="561.8" y1="565" x2="1044.8" y2="240" stroke="#000" stroke-width="10" stroke-linecap="butt"/>
<line x1="536.8" y1="562.8" x2="584.8" y2="562.8" stroke="#3c1e78" stroke-width="7" stroke-linecap="butt"/>
<line x1="536.8" y1="579.8" x2="584.8" y2="579.8" stroke="#3c1e78" stroke-width="7" stroke-linecap="butt"/>
<line x1="557" y1="547.8" x2="605" y2="547.8" stroke="#3c1e78" stroke-width="7" stroke-linecap="butt"/>
<line x1="557" y1="564.8" x2="605" y2="564.8" stroke="#3c1e78" stroke-width="7" stroke-linecap="butt"/>
<line x1="567.1" y1="520.6" x2="615.1" y2="520.6" stroke="#3c1e78" stroke-width="7" stroke-linecap="butt"/>
<line x1="567.1" y1="537.6" x2="615.1" y2="537.6" stroke="#3c1e78" stroke-width="7" stroke-linecap="butt"/>
<line x1="617.7" y1="483.1" x2="665.7" y2="483.1" stroke="#3c1e78" stroke-width="7" stroke-linecap="butt"/>
<line x1="617.7" y1="500.1" x2="665.7" y2="500.1" stroke="#3c1e78" stroke-width="7" stroke-linecap="butt"/>
<line x1="718.8" y1="418.7" x2="766.8" y2="418.7" stroke="#3c1e78" stroke-width="7" stroke-linecap="butt"/>
<line x1="718.8" y1="435.7" x2="766.8" y2="435.7" stroke="#3c1e78" stroke-width="7" stroke-linecap="butt"/>
<line x1="819.9" y1="357.6" x2="867.9" y2="357.6" stroke="#3c1e78" stroke-width="7" stroke-linecap="butt"/>
<line x1="819.9" y1="374.6" x2="867.9" y2="374.6" stroke="#3c1e78" stroke-width="7" stroke-linecap="butt"/>
<line x1="921" y1="297.2" x2="969" y2="297.2" stroke="#3c1e78" stroke-width="7" stroke-linecap="butt"/>
<line x1="921" y1="314.2" x2="969" y2="314.2" stroke="#3c1e78" stroke-width="7" stroke-linecap="butt"/>
<line x1="1022.1" y1="228.9" x2="1070.1" y2="228.9" stroke="#3c1e78" stroke-width="7" stroke-linecap="butt"/>
<line x1="1022.1" y1="245.9" x2="1070.1" y2="245.9" stroke="#3c1e78" stroke-width="7" stroke-linecap="butt"/>
<circle cx="560.8" cy="571.3" r="11.5" fill="#ff2b2b" stroke="#6a0808" stroke-width="2"/>
<circle cx="581" cy="556.3" r="11.5" fill="#ff2b2b" stroke="#6a0808" stroke-width="2"/>
<circle cx="591.1" cy="529.1" r="11.5" fill="#ff2b2b" stroke="#6a0808" stroke-width="2"/>
<circle cx="641.7" cy="491.6" r="11.5" fill="#ff2b2b" stroke="#6a0808" stroke-width="2"/>
<circle cx="742.8" cy="427.2" r="11.5" fill="#ff2b2b" stroke="#6a0808" stroke-width="2"/>
<circle cx="843.9" cy="366.1" r="11.5" fill="#ff2b2b" stroke="#6a0808" stroke-width="2"/>
<circle cx="945" cy="305.7" r="11.5" fill="#ff2b2b" stroke="#6a0808" stroke-width="2"/>
<circle cx="1046.1" cy="237.4" r="11.5" fill="#ff2b2b" stroke="#6a0808" stroke-width="2"/>
<rect x="1486" y="851" width="629.5" height="442" fill="#fff"/>
<line x1="1505.2" y1="856.5" x2="1505.2" y2="870.5" stroke="#000" stroke-width="4.5" stroke-linecap="butt"/>
<line x1="1505.2" y1="1287.5" x2="1505.2" y2="1273.5" stroke="#000" stroke-width="4.5" stroke-linecap="butt"/>
<line x1="1526.2" y1="856.5" x2="1526.2" y2="870.5" stroke="#000" stroke-width="4.5" stroke-linecap="butt"/>
<line x1="1526.2" y1="1287.5" x2="1526.2" y2="1273.5" stroke="#000" stroke-width="4.5" stroke-linecap="butt"/>
<line x1="1547.1" y1="856.5" x2="1547.1" y2="870.5" stroke="#000" stroke-width="4.5" stroke-linecap="butt"/>
<line x1="1547.1" y1="1287.5" x2="1547.1" y2="1273.5" stroke="#000" stroke-width="4.5" stroke-linecap="butt"/>
<line x1="1568.1" y1="856.5" x2="1568.1" y2="870.5" stroke="#000" stroke-width="4.5" stroke-linecap="butt"/>
<line x1="1568.1" y1="1287.5" x2="1568.1" y2="1273.5" stroke="#000" stroke-width="4.5" stroke-linecap="butt"/>
<line x1="1610.1" y1="856.5" x2="1610.1" y2="870.5" stroke="#000" stroke-width="4.5" stroke-linecap="butt"/>
<line x1="1610.1" y1="1287.5" x2="1610.1" y2="1273.5" stroke="#000" stroke-width="4.5" stroke-linecap="butt"/>
<line x1="1631.1" y1="856.5" x2="1631.1" y2="870.5" stroke="#000" stroke-width="4.5" stroke-linecap="butt"/>
<line x1="1631.1" y1="1287.5" x2="1631.1" y2="1273.5" stroke="#000" stroke-width="4.5" stroke-linecap="butt"/>
<line x1="1652" y1="856.5" x2="1652" y2="870.5" stroke="#000" stroke-width="4.5" stroke-linecap="butt"/>
<line x1="1652" y1="1287.5" x2="1652" y2="1273.5" stroke="#000" stroke-width="4.5" stroke-linecap="butt"/>
<line x1="1673" y1="856.5" x2="1673" y2="870.5" stroke="#000" stroke-width="4.5" stroke-linecap="butt"/>
<line x1="1673" y1="1287.5" x2="1673" y2="1273.5" stroke="#000" stroke-width="4.5" stroke-linecap="butt"/>
<line x1="1715" y1="856.5" x2="1715" y2="870.5" stroke="#000" stroke-width="4.5" stroke-linecap="butt"/>
<line x1="1715" y1="1287.5" x2="1715" y2="1273.5" stroke="#000" stroke-width="4.5" stroke-linecap="butt"/>
<line x1="1736" y1="856.5" x2="1736" y2="870.5" stroke="#000" stroke-width="4.5" stroke-linecap="butt"/>
<line x1="1736" y1="1287.5" x2="1736" y2="1273.5" stroke="#000" stroke-width="4.5" stroke-linecap="butt"/>
<line x1="1756.9" y1="856.5" x2="1756.9" y2="870.5" stroke="#000" stroke-width="4.5" stroke-linecap="butt"/>
<line x1="1756.9" y1="1287.5" x2="1756.9" y2="1273.5" stroke="#000" stroke-width="4.5" stroke-linecap="butt"/>
<line x1="1777.9" y1="856.5" x2="1777.9" y2="870.5" stroke="#000" stroke-width="4.5" stroke-linecap="butt"/>
<line x1="1777.9" y1="1287.5" x2="1777.9" y2="1273.5" stroke="#000" stroke-width="4.5" stroke-linecap="butt"/>
<line x1="1819.9" y1="856.5" x2="1819.9" y2="870.5" stroke="#000" stroke-width="4.5" stroke-linecap="butt"/>
<line x1="1819.9" y1="1287.5" x2="1819.9" y2="1273.5" stroke="#000" stroke-width="4.5" stroke-linecap="butt"/>
<line x1="1840.9" y1="856.5" x2="1840.9" y2="870.5" stroke="#000" stroke-width="4.5" stroke-linecap="butt"/>
<line x1="1840.9" y1="1287.5" x2="1840.9" y2="1273.5" stroke="#000" stroke-width="4.5" stroke-linecap="butt"/>
<line x1="1861.8" y1="856.5" x2="1861.8" y2="870.5" stroke="#000" stroke-width="4.5" stroke-linecap="butt"/>
<line x1="1861.8" y1="1287.5" x2="1861.8" y2="1273.5" stroke="#000" stroke-width="4.5" stroke-linecap="butt"/>
<line x1="1882.8" y1="856.5" x2="1882.8" y2="870.5" stroke="#000" stroke-width="4.5" stroke-linecap="butt"/>
<line x1="1882.8" y1="1287.5" x2="1882.8" y2="1273.5" stroke="#000" stroke-width="4.5" stroke-linecap="butt"/>
<line x1="1924.8" y1="856.5" x2="1924.8" y2="870.5" stroke="#000" stroke-width="4.5" stroke-linecap="butt"/>
<line x1="1924.8" y1="1287.5" x2="1924.8" y2="1273.5" stroke="#000" stroke-width="4.5" stroke-linecap="butt"/>
<line x1="1945.8" y1="856.5" x2="1945.8" y2="870.5" stroke="#000" stroke-width="4.5" stroke-linecap="butt"/>
<line x1="1945.8" y1="1287.5" x2="1945.8" y2="1273.5" stroke="#000" stroke-width="4.5" stroke-linecap="butt"/>
<line x1="1966.7" y1="856.5" x2="1966.7" y2="870.5" stroke="#000" stroke-width="4.5" stroke-linecap="butt"/>
<line x1="1966.7" y1="1287.5" x2="1966.7" y2="1273.5" stroke="#000" stroke-width="4.5" stroke-linecap="butt"/>
<line x1="1987.7" y1="856.5" x2="1987.7" y2="870.5" stroke="#000" stroke-width="4.5" stroke-linecap="butt"/>
<line x1="1987.7" y1="1287.5" x2="1987.7" y2="1273.5" stroke="#000" stroke-width="4.5" stroke-linecap="butt"/>
<line x1="2029.7" y1="856.5" x2="2029.7" y2="870.5" stroke="#000" stroke-width="4.5" stroke-linecap="butt"/>
<line x1="2029.7" y1="1287.5" x2="2029.7" y2="1273.5" stroke="#000" stroke-width="4.5" stroke-linecap="butt"/>
<line x1="2050.7" y1="856.5" x2="2050.7" y2="870.5" stroke="#000" stroke-width="4.5" stroke-linecap="butt"/>
<line x1="2050.7" y1="1287.5" x2="2050.7" y2="1273.5" stroke="#000" stroke-width="4.5" stroke-linecap="butt"/>
<line x1="2071.6" y1="856.5" x2="2071.6" y2="870.5" stroke="#000" stroke-width="4.5" stroke-linecap="butt"/>
<line x1="2071.6" y1="1287.5" x2="2071.6" y2="1273.5" stroke="#000" stroke-width="4.5" stroke-linecap="butt"/>
<line x1="2092.6" y1="856.5" x2="2092.6" y2="870.5" stroke="#000" stroke-width="4.5" stroke-linecap="butt"/>
<line x1="2092.6" y1="1287.5" x2="2092.6" y2="1273.5" stroke="#000" stroke-width="4.5" stroke-linecap="butt"/>
<line x1="1589.1" y1="856.5" x2="1589.1" y2="878.5" stroke="#000" stroke-width="6" stroke-linecap="butt"/>
<line x1="1589.1" y1="1287.5" x2="1589.1" y2="1265.5" stroke="#000" stroke-width="6" stroke-linecap="butt"/>
<line x1="1694" y1="856.5" x2="1694" y2="878.5" stroke="#000" stroke-width="6" stroke-linecap="butt"/>
<line x1="1694" y1="1287.5" x2="1694" y2="1265.5" stroke="#000" stroke-width="6" stroke-linecap="butt"/>
<line x1="1798.9" y1="856.5" x2="1798.9" y2="878.5" stroke="#000" stroke-width="6" stroke-linecap="butt"/>
<line x1="1798.9" y1="1287.5" x2="1798.9" y2="1265.5" stroke="#000" stroke-width="6" stroke-linecap="butt"/>
<line x1="1903.8" y1="856.5" x2="1903.8" y2="878.5" stroke="#000" stroke-width="6" stroke-linecap="butt"/>
<line x1="1903.8" y1="1287.5" x2="1903.8" y2="1265.5" stroke="#000" stroke-width="6" stroke-linecap="butt"/>
<line x1="2008.7" y1="856.5" x2="2008.7" y2="878.5" stroke="#000" stroke-width="6" stroke-linecap="butt"/>
<line x1="2008.7" y1="1287.5" x2="2008.7" y2="1265.5" stroke="#000" stroke-width="6" stroke-linecap="butt"/>
<line x1="1491.5" y1="1279.1" x2="1509.5" y2="1279.1" stroke="#000" stroke-width="4.5" stroke-linecap="butt"/>
<line x1="2110" y1="1279.1" x2="2092" y2="1279.1" stroke="#000" stroke-width="4.5" stroke-linecap="butt"/>
<line x1="1491.5" y1="1264.2" x2="1509.5" y2="1264.2" stroke="#000" stroke-width="4.5" stroke-linecap="butt"/>
<line x1="2110" y1="1264.2" x2="2092" y2="1264.2" stroke="#000" stroke-width="4.5" stroke-linecap="butt"/>
<line x1="1491.5" y1="1249.4" x2="1509.5" y2="1249.4" stroke="#000" stroke-width="4.5" stroke-linecap="butt"/>
<line x1="2110" y1="1249.4" x2="2092" y2="1249.4" stroke="#000" stroke-width="4.5" stroke-linecap="butt"/>
<line x1="1491.5" y1="1234.5" x2="1509.5" y2="1234.5" stroke="#000" stroke-width="4.5" stroke-linecap="butt"/>
<line x1="2110" y1="1234.5" x2="2092" y2="1234.5" stroke="#000" stroke-width="4.5" stroke-linecap="butt"/>
<line x1="1491.5" y1="1204.9" x2="1509.5" y2="1204.9" stroke="#000" stroke-width="4.5" stroke-linecap="butt"/>
<line x1="2110" y1="1204.9" x2="2092" y2="1204.9" stroke="#000" stroke-width="4.5" stroke-linecap="butt"/>
<line x1="1491.5" y1="1190" x2="1509.5" y2="1190" stroke="#000" stroke-width="4.5" stroke-linecap="butt"/>
<line x1="2110" y1="1190" x2="2092" y2="1190" stroke="#000" stroke-width="4.5" stroke-linecap="butt"/>
<line x1="1491.5" y1="1175.2" x2="1509.5" y2="1175.2" stroke="#000" stroke-width="4.5" stroke-linecap="butt"/>
<line x1="2110" y1="1175.2" x2="2092" y2="1175.2" stroke="#000" stroke-width="4.5" stroke-linecap="butt"/>
<line x1="1491.5" y1="1160.3" x2="1509.5" y2="1160.3" stroke="#000" stroke-width="4.5" stroke-linecap="butt"/>
<line x1="2110" y1="1160.3" x2="2092" y2="1160.3" stroke="#000" stroke-width="4.5" stroke-linecap="butt"/>
<line x1="1491.5" y1="1130.7" x2="1509.5" y2="1130.7" stroke="#000" stroke-width="4.5" stroke-linecap="butt"/>
<line x1="2110" y1="1130.7" x2="2092" y2="1130.7" stroke="#000" stroke-width="4.5" stroke-linecap="butt"/>
<line x1="1491.5" y1="1115.8" x2="1509.5" y2="1115.8" stroke="#000" stroke-width="4.5" stroke-linecap="butt"/>
<line x1="2110" y1="1115.8" x2="2092" y2="1115.8" stroke="#000" stroke-width="4.5" stroke-linecap="butt"/>
<line x1="1491.5" y1="1101" x2="1509.5" y2="1101" stroke="#000" stroke-width="4.5" stroke-linecap="butt"/>
<line x1="2110" y1="1101" x2="2092" y2="1101" stroke="#000" stroke-width="4.5" stroke-linecap="butt"/>
<line x1="1491.5" y1="1086.1" x2="1509.5" y2="1086.1" stroke="#000" stroke-width="4.5" stroke-linecap="butt"/>
<line x1="2110" y1="1086.1" x2="2092" y2="1086.1" stroke="#000" stroke-width="4.5" stroke-linecap="butt"/>
<line x1="1491.5" y1="1056.5" x2="1509.5" y2="1056.5" stroke="#000" stroke-width="4.5" stroke-linecap="butt"/>
<line x1="2110" y1="1056.5" x2="2092" y2="1056.5" stroke="#000" stroke-width="4.5" stroke-linecap="butt"/>
<line x1="1491.5" y1="1041.6" x2="1509.5" y2="1041.6" stroke="#000" stroke-width="4.5" stroke-linecap="butt"/>
<line x1="2110" y1="1041.6" x2="2092" y2="1041.6" stroke="#000" stroke-width="4.5" stroke-linecap="butt"/>
<line x1="1491.5" y1="1026.8" x2="1509.5" y2="1026.8" stroke="#000" stroke-width="4.5" stroke-linecap="butt"/>
<line x1="2110" y1="1026.8" x2="2092" y2="1026.8" stroke="#000" stroke-width="4.5" stroke-linecap="butt"/>
<line x1="1491.5" y1="1011.9" x2="1509.5" y2="1011.9" stroke="#000" stroke-width="4.5" stroke-linecap="butt"/>
<line x1="2110" y1="1011.9" x2="2092" y2="1011.9" stroke="#000" stroke-width="4.5" stroke-linecap="butt"/>
<line x1="1491.5" y1="982.3" x2="1509.5" y2="982.3" stroke="#000" stroke-width="4.5" stroke-linecap="butt"/>
<line x1="2110" y1="982.3" x2="2092" y2="982.3" stroke="#000" stroke-width="4.5" stroke-linecap="butt"/>
<line x1="1491.5" y1="967.4" x2="1509.5" y2="967.4" stroke="#000" stroke-width="4.5" stroke-linecap="butt"/>
<line x1="2110" y1="967.4" x2="2092" y2="967.4" stroke="#000" stroke-width="4.5" stroke-linecap="butt"/>
<line x1="1491.5" y1="952.6" x2="1509.5" y2="952.6" stroke="#000" stroke-width="4.5" stroke-linecap="butt"/>
<line x1="2110" y1="952.6" x2="2092" y2="952.6" stroke="#000" stroke-width="4.5" stroke-linecap="butt"/>
<line x1="1491.5" y1="937.7" x2="1509.5" y2="937.7" stroke="#000" stroke-width="4.5" stroke-linecap="butt"/>
<line x1="2110" y1="937.7" x2="2092" y2="937.7" stroke="#000" stroke-width="4.5" stroke-linecap="butt"/>
<line x1="1491.5" y1="908.1" x2="1509.5" y2="908.1" stroke="#000" stroke-width="4.5" stroke-linecap="butt"/>
<line x1="2110" y1="908.1" x2="2092" y2="908.1" stroke="#000" stroke-width="4.5" stroke-linecap="butt"/>
<line x1="1491.5" y1="893.2" x2="1509.5" y2="893.2" stroke="#000" stroke-width="4.5" stroke-linecap="butt"/>
<line x1="2110" y1="893.2" x2="2092" y2="893.2" stroke="#000" stroke-width="4.5" stroke-linecap="butt"/>
<line x1="1491.5" y1="878.4" x2="1509.5" y2="878.4" stroke="#000" stroke-width="4.5" stroke-linecap="butt"/>
<line x1="2110" y1="878.4" x2="2092" y2="878.4" stroke="#000" stroke-width="4.5" stroke-linecap="butt"/>
<line x1="1491.5" y1="863.5" x2="1509.5" y2="863.5" stroke="#000" stroke-width="4.5" stroke-linecap="butt"/>
<line x1="2110" y1="863.5" x2="2092" y2="863.5" stroke="#000" stroke-width="4.5" stroke-linecap="butt"/>
<line x1="1491.5" y1="1219.7" x2="1519.5" y2="1219.7" stroke="#000" stroke-width="6.5" stroke-linecap="butt"/>
<line x1="2110" y1="1219.7" x2="2082" y2="1219.7" stroke="#000" stroke-width="6.5" stroke-linecap="butt"/>
<line x1="1491.5" y1="1145.5" x2="1519.5" y2="1145.5" stroke="#000" stroke-width="6.5" stroke-linecap="butt"/>
<line x1="2110" y1="1145.5" x2="2082" y2="1145.5" stroke="#000" stroke-width="6.5" stroke-linecap="butt"/>
<line x1="1491.5" y1="1071.3" x2="1519.5" y2="1071.3" stroke="#000" stroke-width="6.5" stroke-linecap="butt"/>
<line x1="2110" y1="1071.3" x2="2082" y2="1071.3" stroke="#000" stroke-width="6.5" stroke-linecap="butt"/>
<line x1="1491.5" y1="997.1" x2="1519.5" y2="997.1" stroke="#000" stroke-width="6.5" stroke-linecap="butt"/>
<line x1="2110" y1="997.1" x2="2082" y2="997.1" stroke="#000" stroke-width="6.5" stroke-linecap="butt"/>
<line x1="1491.5" y1="922.9" x2="1519.5" y2="922.9" stroke="#000" stroke-width="6.5" stroke-linecap="butt"/>
<line x1="2110" y1="922.9" x2="2082" y2="922.9" stroke="#000" stroke-width="6.5" stroke-linecap="butt"/>
<rect x="1486" y="851" width="629.5" height="442" fill="none" stroke="#000" stroke-width="13" stroke-linejoin="round"/>
<text x="1468" y="1304.9" font-family='"Liberation Serif", serif' font-size="31" font-weight="bold" text-anchor="end" >14</text>
<text x="1468" y="1230.7" font-family='"Liberation Serif", serif' font-size="31" font-weight="bold" text-anchor="end" >16</text>
<text x="1468" y="1156.5" font-family='"Liberation Serif", serif' font-size="31" font-weight="bold" text-anchor="end" >18</text>
<text x="1468" y="1082.3" font-family='"Liberation Serif", serif' font-size="31" font-weight="bold" text-anchor="end" >20</text>
<text x="1468" y="1008.1" font-family='"Liberation Serif", serif' font-size="31" font-weight="bold" text-anchor="end" >22</text>
<text x="1468" y="933.9" font-family='"Liberation Serif", serif' font-size="31" font-weight="bold" text-anchor="end" >24</text>
<text x="1468" y="859.7" font-family='"Liberation Serif", serif' font-size="31" font-weight="bold" text-anchor="end" >26</text>
<text x="1484.2" y="1338" font-family='"Liberation Serif", serif' font-size="31" font-weight="bold" text-anchor="middle" >0</text>
<text x="1589.1" y="1338" font-family='"Liberation Serif", serif' font-size="31" font-weight="bold" text-anchor="middle" >20</text>
<text x="1694" y="1338" font-family='"Liberation Serif", serif' font-size="31" font-weight="bold" text-anchor="middle" >40</text>
<text x="1798.9" y="1338" font-family='"Liberation Serif", serif' font-size="31" font-weight="bold" text-anchor="middle" >60</text>
<text x="1903.8" y="1338" font-family='"Liberation Serif", serif' font-size="31" font-weight="bold" text-anchor="middle" >80</text>
<text x="2008.7" y="1338" font-family='"Liberation Serif", serif' font-size="31" font-weight="bold" text-anchor="middle" >100</text>
<text x="2113.6" y="1338" font-family='"Liberation Serif", serif' font-size="31" font-weight="bold" text-anchor="middle" >120</text>
<g transform="matrix(1.1190 0 0 1.0714 -193.93 -72.00)"><text x="1629" y="991.7" font-family='"Liberation Serif", serif' font-size="78" text-anchor="middle">(<tspan font-weight="bold">2</tspan>)</text></g>
<line x1="1589.1" y1="1214.1" x2="2008.7" y2="932.2" stroke="#000" stroke-width="9" stroke-linecap="butt"/>
<line x1="1567.6" y1="1209.2" x2="1610.6" y2="1209.2" stroke="#3c1e78" stroke-width="8" stroke-linecap="butt"/>
<line x1="1567.6" y1="1230.2" x2="1610.6" y2="1230.2" stroke="#3c1e78" stroke-width="8" stroke-linecap="butt"/>
<line x1="1672.5" y1="1124.6" x2="1715.5" y2="1124.6" stroke="#3c1e78" stroke-width="8" stroke-linecap="butt"/>
<line x1="1672.5" y1="1145.6" x2="1715.5" y2="1145.6" stroke="#3c1e78" stroke-width="8" stroke-linecap="butt"/>
<line x1="1777.4" y1="1050.4" x2="1820.4" y2="1050.4" stroke="#3c1e78" stroke-width="8" stroke-linecap="butt"/>
<line x1="1777.4" y1="1071.4" x2="1820.4" y2="1071.4" stroke="#3c1e78" stroke-width="8" stroke-linecap="butt"/>
<line x1="1882.3" y1="991.1" x2="1925.3" y2="991.1" stroke="#3c1e78" stroke-width="8" stroke-linecap="butt"/>
<line x1="1882.3" y1="1012.1" x2="1925.3" y2="1012.1" stroke="#3c1e78" stroke-width="8" stroke-linecap="butt"/>
<line x1="1987.2" y1="918.7" x2="2030.2" y2="918.7" stroke="#3c1e78" stroke-width="8" stroke-linecap="butt"/>
<line x1="1987.2" y1="939.7" x2="2030.2" y2="939.7" stroke="#3c1e78" stroke-width="8" stroke-linecap="butt"/>
<circle cx="1589.1" cy="1219.7" r="11" fill="#ff2b2b" stroke="#6a0808" stroke-width="2"/>
<circle cx="1694" cy="1135.1" r="11" fill="#ff2b2b" stroke="#6a0808" stroke-width="2"/>
<circle cx="1798.9" cy="1060.9" r="11" fill="#ff2b2b" stroke="#6a0808" stroke-width="2"/>
<circle cx="1903.8" cy="1001.6" r="11" fill="#ff2b2b" stroke="#6a0808" stroke-width="2"/>
<circle cx="2008.7" cy="929.2" r="11" fill="#ff2b2b" stroke="#6a0808" stroke-width="2"/>
<line x1="498" y1="1809.5" x2="498" y2="1826.5" stroke="#000" stroke-width="7.5" stroke-linecap="butt"/>
<line x1="498" y1="3041.5" x2="498" y2="3024.5" stroke="#000" stroke-width="7.5" stroke-linecap="butt"/>
<line x1="555" y1="1809.5" x2="555" y2="1826.5" stroke="#000" stroke-width="7.5" stroke-linecap="butt"/>
<line x1="555" y1="3041.5" x2="555" y2="3024.5" stroke="#000" stroke-width="7.5" stroke-linecap="butt"/>
<line x1="612" y1="1809.5" x2="612" y2="1826.5" stroke="#000" stroke-width="7.5" stroke-linecap="butt"/>
<line x1="612" y1="3041.5" x2="612" y2="3024.5" stroke="#000" stroke-width="7.5" stroke-linecap="butt"/>
<line x1="669" y1="1809.5" x2="669" y2="1826.5" stroke="#000" stroke-width="7.5" stroke-linecap="butt"/>
<line x1="669" y1="3041.5" x2="669" y2="3024.5" stroke="#000" stroke-width="7.5" stroke-linecap="butt"/>
<line x1="783" y1="1809.5" x2="783" y2="1826.5" stroke="#000" stroke-width="7.5" stroke-linecap="butt"/>
<line x1="783" y1="3041.5" x2="783" y2="3024.5" stroke="#000" stroke-width="7.5" stroke-linecap="butt"/>
<line x1="840" y1="1809.5" x2="840" y2="1826.5" stroke="#000" stroke-width="7.5" stroke-linecap="butt"/>
<line x1="840" y1="3041.5" x2="840" y2="3024.5" stroke="#000" stroke-width="7.5" stroke-linecap="butt"/>
<line x1="897" y1="1809.5" x2="897" y2="1826.5" stroke="#000" stroke-width="7.5" stroke-linecap="butt"/>
<line x1="897" y1="3041.5" x2="897" y2="3024.5" stroke="#000" stroke-width="7.5" stroke-linecap="butt"/>
<line x1="954" y1="1809.5" x2="954" y2="1826.5" stroke="#000" stroke-width="7.5" stroke-linecap="butt"/>
<line x1="954" y1="3041.5" x2="954" y2="3024.5" stroke="#000" stroke-width="7.5" stroke-linecap="butt"/>
<line x1="1068" y1="1809.5" x2="1068" y2="1826.5" stroke="#000" stroke-width="7.5" stroke-linecap="butt"/>
<line x1="1068" y1="3041.5" x2="1068" y2="3024.5" stroke="#000" stroke-width="7.5" stroke-linecap="butt"/>
<line x1="1125" y1="1809.5" x2="1125" y2="1826.5" stroke="#000" stroke-width="7.5" stroke-linecap="butt"/>
<line x1="1125" y1="3041.5" x2="1125" y2="3024.5" stroke="#000" stroke-width="7.5" stroke-linecap="butt"/>
<line x1="1182" y1="1809.5" x2="1182" y2="1826.5" stroke="#000" stroke-width="7.5" stroke-linecap="butt"/>
<line x1="1182" y1="3041.5" x2="1182" y2="3024.5" stroke="#000" stroke-width="7.5" stroke-linecap="butt"/>
<line x1="1239" y1="1809.5" x2="1239" y2="1826.5" stroke="#000" stroke-width="7.5" stroke-linecap="butt"/>
<line x1="1239" y1="3041.5" x2="1239" y2="3024.5" stroke="#000" stroke-width="7.5" stroke-linecap="butt"/>
<line x1="1353" y1="1809.5" x2="1353" y2="1826.5" stroke="#000" stroke-width="7.5" stroke-linecap="butt"/>
<line x1="1353" y1="3041.5" x2="1353" y2="3024.5" stroke="#000" stroke-width="7.5" stroke-linecap="butt"/>
<line x1="1410" y1="1809.5" x2="1410" y2="1826.5" stroke="#000" stroke-width="7.5" stroke-linecap="butt"/>
<line x1="1410" y1="3041.5" x2="1410" y2="3024.5" stroke="#000" stroke-width="7.5" stroke-linecap="butt"/>
<line x1="1467" y1="1809.5" x2="1467" y2="1826.5" stroke="#000" stroke-width="7.5" stroke-linecap="butt"/>
<line x1="1467" y1="3041.5" x2="1467" y2="3024.5" stroke="#000" stroke-width="7.5" stroke-linecap="butt"/>
<line x1="1524" y1="1809.5" x2="1524" y2="1826.5" stroke="#000" stroke-width="7.5" stroke-linecap="butt"/>
<line x1="1524" y1="3041.5" x2="1524" y2="3024.5" stroke="#000" stroke-width="7.5" stroke-linecap="butt"/>
<line x1="1638" y1="1809.5" x2="1638" y2="1826.5" stroke="#000" stroke-width="7.5" stroke-linecap="butt"/>
<line x1="1638" y1="3041.5" x2="1638" y2="3024.5" stroke="#000" stroke-width="7.5" stroke-linecap="butt"/>
<line x1="1695" y1="1809.5" x2="1695" y2="1826.5" stroke="#000" stroke-width="7.5" stroke-linecap="butt"/>
<line x1="1695" y1="3041.5" x2="1695" y2="3024.5" stroke="#000" stroke-width="7.5" stroke-linecap="butt"/>
<line x1="1752" y1="1809.5" x2="1752" y2="1826.5" stroke="#000" stroke-width="7.5" stroke-linecap="butt"/>
<line x1="1752" y1="3041.5" x2="1752" y2="3024.5" stroke="#000" stroke-width="7.5" stroke-linecap="butt"/>
<line x1="1809" y1="1809.5" x2="1809" y2="1826.5" stroke="#000" stroke-width="7.5" stroke-linecap="butt"/>
<line x1="1809" y1="3041.5" x2="1809" y2="3024.5" stroke="#000" stroke-width="7.5" stroke-linecap="butt"/>
<line x1="1923" y1="1809.5" x2="1923" y2="1826.5" stroke="#000" stroke-width="7.5" stroke-linecap="butt"/>
<line x1="1923" y1="3041.5" x2="1923" y2="3024.5" stroke="#000" stroke-width="7.5" stroke-linecap="butt"/>
<line x1="1980" y1="1809.5" x2="1980" y2="1826.5" stroke="#000" stroke-width="7.5" stroke-linecap="butt"/>
<line x1="1980" y1="3041.5" x2="1980" y2="3024.5" stroke="#000" stroke-width="7.5" stroke-linecap="butt"/>
<line x1="2037" y1="1809.5" x2="2037" y2="1826.5" stroke="#000" stroke-width="7.5" stroke-linecap="butt"/>
<line x1="2037" y1="3041.5" x2="2037" y2="3024.5" stroke="#000" stroke-width="7.5" stroke-linecap="butt"/>
<line x1="2094" y1="1809.5" x2="2094" y2="1826.5" stroke="#000" stroke-width="7.5" stroke-linecap="butt"/>
<line x1="2094" y1="3041.5" x2="2094" y2="3024.5" stroke="#000" stroke-width="7.5" stroke-linecap="butt"/>
<line x1="441" y1="1809.5" x2="441" y2="1840" stroke="#000" stroke-width="15" stroke-linecap="round"/>
<line x1="441" y1="3041.5" x2="441" y2="3011" stroke="#000" stroke-width="15" stroke-linecap="round"/>
<line x1="726" y1="1809.5" x2="726" y2="1840" stroke="#000" stroke-width="15" stroke-linecap="round"/>
<line x1="726" y1="3041.5" x2="726" y2="3011" stroke="#000" stroke-width="15" stroke-linecap="round"/>
<line x1="1011" y1="1809.5" x2="1011" y2="1840" stroke="#000" stroke-width="15" stroke-linecap="round"/>
<line x1="1011" y1="3041.5" x2="1011" y2="3011" stroke="#000" stroke-width="15" stroke-linecap="round"/>
<line x1="1296" y1="1809.5" x2="1296" y2="1840" stroke="#000" stroke-width="15" stroke-linecap="round"/>
<line x1="1296" y1="3041.5" x2="1296" y2="3011" stroke="#000" stroke-width="15" stroke-linecap="round"/>
<line x1="1581" y1="1809.5" x2="1581" y2="1840" stroke="#000" stroke-width="15" stroke-linecap="round"/>
<line x1="1581" y1="3041.5" x2="1581" y2="3011" stroke="#000" stroke-width="15" stroke-linecap="round"/>
<line x1="1866" y1="1809.5" x2="1866" y2="1840" stroke="#000" stroke-width="15" stroke-linecap="round"/>
<line x1="1866" y1="3041.5" x2="1866" y2="3011" stroke="#000" stroke-width="15" stroke-linecap="round"/>
<line x1="389" y1="3032.7" x2="410" y2="3032.7" stroke="#000" stroke-width="5.8" stroke-linecap="butt"/>
<line x1="2146.5" y1="3032.7" x2="2125.5" y2="3032.7" stroke="#000" stroke-width="5.8" stroke-linecap="butt"/>
<line x1="389" y1="3001.2" x2="410" y2="3001.2" stroke="#000" stroke-width="5.8" stroke-linecap="butt"/>
<line x1="2146.5" y1="3001.2" x2="2125.5" y2="3001.2" stroke="#000" stroke-width="5.8" stroke-linecap="butt"/>
<line x1="389" y1="2969.7" x2="410" y2="2969.7" stroke="#000" stroke-width="5.8" stroke-linecap="butt"/>
<line x1="2146.5" y1="2969.7" x2="2125.5" y2="2969.7" stroke="#000" stroke-width="5.8" stroke-linecap="butt"/>
<line x1="389" y1="2938.2" x2="410" y2="2938.2" stroke="#000" stroke-width="5.8" stroke-linecap="butt"/>
<line x1="2146.5" y1="2938.2" x2="2125.5" y2="2938.2" stroke="#000" stroke-width="5.8" stroke-linecap="butt"/>
<line x1="389" y1="2875.2" x2="410" y2="2875.2" stroke="#000" stroke-width="5.8" stroke-linecap="butt"/>
<line x1="2146.5" y1="2875.2" x2="2125.5" y2="2875.2" stroke="#000" stroke-width="5.8" stroke-linecap="butt"/>
<line x1="389" y1="2843.7" x2="410" y2="2843.7" stroke="#000" stroke-width="5.8" stroke-linecap="butt"/>
<line x1="2146.5" y1="2843.7" x2="2125.5" y2="2843.7" stroke="#000" stroke-width="5.8" stroke-linecap="butt"/>
<line x1="389" y1="2812.2" x2="410" y2="2812.2" stroke="#000" stroke-width="5.8" stroke-linecap="butt"/>
<line x1="2146.5" y1="2812.2" x2="2125.5" y2="2812.2" stroke="#000" stroke-width="5.8" stroke-linecap="butt"/>
<line x1="389" y1="2780.7" x2="410" y2="2780.7" stroke="#000" stroke-width="5.8" stroke-linecap="butt"/>
<line x1="2146.5" y1="2780.7" x2="2125.5" y2="2780.7" stroke="#000" stroke-width="5.8" stroke-linecap="butt"/>
<line x1="389" y1="2717.7" x2="410" y2="2717.7" stroke="#000" stroke-width="5.8" stroke-linecap="butt"/>
<line x1="2146.5" y1="2717.7" x2="2125.5" y2="2717.7" stroke="#000" stroke-width="5.8" stroke-linecap="butt"/>
<line x1="389" y1="2686.2" x2="410" y2="2686.2" stroke="#000" stroke-width="5.8" stroke-linecap="butt"/>
<line x1="2146.5" y1="2686.2" x2="2125.5" y2="2686.2" stroke="#000" stroke-width="5.8" stroke-linecap="butt"/>
<line x1="389" y1="2654.7" x2="410" y2="2654.7" stroke="#000" stroke-width="5.8" stroke-linecap="butt"/>
<line x1="2146.5" y1="2654.7" x2="2125.5" y2="2654.7" stroke="#000" stroke-width="5.8" stroke-linecap="butt"/>
<line x1="389" y1="2623.1" x2="410" y2="2623.1" stroke="#000" stroke-width="5.8" stroke-linecap="butt"/>
<line x1="2146.5" y1="2623.1" x2="2125.5" y2="2623.1" stroke="#000" stroke-width="5.8" stroke-linecap="butt"/>
<line x1="389" y1="2560.1" x2="410" y2="2560.1" stroke="#000" stroke-width="5.8" stroke-linecap="butt"/>
<line x1="2146.5" y1="2560.1" x2="2125.5" y2="2560.1" stroke="#000" stroke-width="5.8" stroke-linecap="butt"/>
<line x1="389" y1="2528.6" x2="410" y2="2528.6" stroke="#000" stroke-width="5.8" stroke-linecap="butt"/>
<line x1="2146.5" y1="2528.6" x2="2125.5" y2="2528.6" stroke="#000" stroke-width="5.8" stroke-linecap="butt"/>
<line x1="389" y1="2497.1" x2="410" y2="2497.1" stroke="#000" stroke-width="5.8" stroke-linecap="butt"/>
<line x1="2146.5" y1="2497.1" x2="2125.5" y2="2497.1" stroke="#000" stroke-width="5.8" stroke-linecap="butt"/>
<line x1="389" y1="2465.6" x2="410" y2="2465.6" stroke="#000" stroke-width="5.8" stroke-linecap="butt"/>
<line x1="2146.5" y1="2465.6" x2="2125.5" y2="2465.6" stroke="#000" stroke-width="5.8" stroke-linecap="butt"/>
<line x1="389" y1="2402.6" x2="410" y2="2402.6" stroke="#000" stroke-width="5.8" stroke-linecap="butt"/>
<line x1="2146.5" y1="2402.6" x2="2125.5" y2="2402.6" stroke="#000" stroke-width="5.8" stroke-linecap="butt"/>
<line x1="389" y1="2371.1" x2="410" y2="2371.1" stroke="#000" stroke-width="5.8" stroke-linecap="butt"/>
<line x1="2146.5" y1="2371.1" x2="2125.5" y2="2371.1" stroke="#000" stroke-width="5.8" stroke-linecap="butt"/>
<line x1="389" y1="2339.6" x2="410" y2="2339.6" stroke="#000" stroke-width="5.8" stroke-linecap="butt"/>
<line x1="2146.5" y1="2339.6" x2="2125.5" y2="2339.6" stroke="#000" stroke-width="5.8" stroke-linecap="butt"/>
<line x1="389" y1="2308.1" x2="410" y2="2308.1" stroke="#000" stroke-width="5.8" stroke-linecap="butt"/>
<line x1="2146.5" y1="2308.1" x2="2125.5" y2="2308.1" stroke="#000" stroke-width="5.8" stroke-linecap="butt"/>
<line x1="389" y1="2245.1" x2="410" y2="2245.1" stroke="#000" stroke-width="5.8" stroke-linecap="butt"/>
<line x1="2146.5" y1="2245.1" x2="2125.5" y2="2245.1" stroke="#000" stroke-width="5.8" stroke-linecap="butt"/>
<line x1="389" y1="2213.6" x2="410" y2="2213.6" stroke="#000" stroke-width="5.8" stroke-linecap="butt"/>
<line x1="2146.5" y1="2213.6" x2="2125.5" y2="2213.6" stroke="#000" stroke-width="5.8" stroke-linecap="butt"/>
<line x1="389" y1="2182.1" x2="410" y2="2182.1" stroke="#000" stroke-width="5.8" stroke-linecap="butt"/>
<line x1="2146.5" y1="2182.1" x2="2125.5" y2="2182.1" stroke="#000" stroke-width="5.8" stroke-linecap="butt"/>
<line x1="389" y1="2150.6" x2="410" y2="2150.6" stroke="#000" stroke-width="5.8" stroke-linecap="butt"/>
<line x1="2146.5" y1="2150.6" x2="2125.5" y2="2150.6" stroke="#000" stroke-width="5.8" stroke-linecap="butt"/>
<line x1="389" y1="2087.5" x2="410" y2="2087.5" stroke="#000" stroke-width="5.8" stroke-linecap="butt"/>
<line x1="2146.5" y1="2087.5" x2="2125.5" y2="2087.5" stroke="#000" stroke-width="5.8" stroke-linecap="butt"/>
<line x1="389" y1="2056" x2="410" y2="2056" stroke="#000" stroke-width="5.8" stroke-linecap="butt"/>
<line x1="2146.5" y1="2056" x2="2125.5" y2="2056" stroke="#000" stroke-width="5.8" stroke-linecap="butt"/>
<line x1="389" y1="2024.5" x2="410" y2="2024.5" stroke="#000" stroke-width="5.8" stroke-linecap="butt"/>
<line x1="2146.5" y1="2024.5" x2="2125.5" y2="2024.5" stroke="#000" stroke-width="5.8" stroke-linecap="butt"/>
<line x1="389" y1="1993" x2="410" y2="1993" stroke="#000" stroke-width="5.8" stroke-linecap="butt"/>
<line x1="2146.5" y1="1993" x2="2125.5" y2="1993" stroke="#000" stroke-width="5.8" stroke-linecap="butt"/>
<line x1="389" y1="1930" x2="410" y2="1930" stroke="#000" stroke-width="5.8" stroke-linecap="butt"/>
<line x1="2146.5" y1="1930" x2="2125.5" y2="1930" stroke="#000" stroke-width="5.8" stroke-linecap="butt"/>
<line x1="389" y1="1898.5" x2="410" y2="1898.5" stroke="#000" stroke-width="5.8" stroke-linecap="butt"/>
<line x1="2146.5" y1="1898.5" x2="2125.5" y2="1898.5" stroke="#000" stroke-width="5.8" stroke-linecap="butt"/>
<line x1="389" y1="1867" x2="410" y2="1867" stroke="#000" stroke-width="5.8" stroke-linecap="butt"/>
<line x1="2146.5" y1="1867" x2="2125.5" y2="1867" stroke="#000" stroke-width="5.8" stroke-linecap="butt"/>
<line x1="389" y1="1835.5" x2="410" y2="1835.5" stroke="#000" stroke-width="5.8" stroke-linecap="butt"/>
<line x1="2146.5" y1="1835.5" x2="2125.5" y2="1835.5" stroke="#000" stroke-width="5.8" stroke-linecap="butt"/>
<line x1="389" y1="2906.7" x2="423.5" y2="2906.7" stroke="#000" stroke-width="11.5" stroke-linecap="round"/>
<line x1="2146.5" y1="2906.7" x2="2112" y2="2906.7" stroke="#000" stroke-width="11.5" stroke-linecap="round"/>
<line x1="389" y1="2749.2" x2="423.5" y2="2749.2" stroke="#000" stroke-width="11.5" stroke-linecap="round"/>
<line x1="2146.5" y1="2749.2" x2="2112" y2="2749.2" stroke="#000" stroke-width="11.5" stroke-linecap="round"/>
<line x1="389" y1="2591.6" x2="423.5" y2="2591.6" stroke="#000" stroke-width="11.5" stroke-linecap="round"/>
<line x1="2146.5" y1="2591.6" x2="2112" y2="2591.6" stroke="#000" stroke-width="11.5" stroke-linecap="round"/>
<line x1="389" y1="2434.1" x2="423.5" y2="2434.1" stroke="#000" stroke-width="11.5" stroke-linecap="round"/>
<line x1="2146.5" y1="2434.1" x2="2112" y2="2434.1" stroke="#000" stroke-width="11.5" stroke-linecap="round"/>
<line x1="389" y1="2276.6" x2="423.5" y2="2276.6" stroke="#000" stroke-width="11.5" stroke-linecap="round"/>
<line x1="2146.5" y1="2276.6" x2="2112" y2="2276.6" stroke="#000" stroke-width="11.5" stroke-linecap="round"/>
<line x1="389" y1="2119" x2="423.5" y2="2119" stroke="#000" stroke-width="11.5" stroke-linecap="round"/>
<line x1="2146.5" y1="2119" x2="2112" y2="2119" stroke="#000" stroke-width="11.5" stroke-linecap="round"/>
<line x1="389" y1="1961.5" x2="423.5" y2="1961.5" stroke="#000" stroke-width="11.5" stroke-linecap="round"/>
<line x1="2146.5" y1="1961.5" x2="2112" y2="1961.5" stroke="#000" stroke-width="11.5" stroke-linecap="round"/>
<rect x="384" y="1804.5" width="1767.5" height="1242" fill="none" stroke="#000" stroke-width="12" stroke-linejoin="round"/>
<text x="347" y="2930.7" font-family='"Liberation Serif", serif' font-size="69" font-weight="bold" text-anchor="end" >0.00</text>
<text x="347" y="2773.2" font-family='"Liberation Serif", serif' font-size="69" font-weight="bold" text-anchor="end" >0.05</text>
<text x="347" y="2615.6" font-family='"Liberation Serif", serif' font-size="69" font-weight="bold" text-anchor="end" >0.10</text>
<text x="347" y="2458.1" font-family='"Liberation Serif", serif' font-size="69" font-weight="bold" text-anchor="end" >0.15</text>
<text x="347" y="2300.6" font-family='"Liberation Serif", serif' font-size="69" font-weight="bold" text-anchor="end" >0.20</text>
<text x="347" y="2143" font-family='"Liberation Serif", serif' font-size="69" font-weight="bold" text-anchor="end" >0.25</text>
<text x="347" y="1985.5" font-family='"Liberation Serif", serif' font-size="69" font-weight="bold" text-anchor="end" >0.30</text>
<text x="347" y="1828" font-family='"Liberation Serif", serif' font-size="69" font-weight="bold" text-anchor="end" >0.35</text>
<text x="441" y="3143.5" font-family='"Liberation Serif", serif' font-size="69" font-weight="bold" text-anchor="middle" >0</text>
<text x="726" y="3143.5" font-family='"Liberation Serif", serif' font-size="69" font-weight="bold" text-anchor="middle" >1</text>
<text x="1011" y="3143.5" font-family='"Liberation Serif", serif' font-size="69" font-weight="bold" text-anchor="middle" >2</text>
<text x="1296" y="3143.5" font-family='"Liberation Serif", serif' font-size="69" font-weight="bold" text-anchor="middle" >3</text>
<text x="1581" y="3143.5" font-family='"Liberation Serif", serif' font-size="69" font-weight="bold" text-anchor="middle" >4</text>
<text x="1866" y="3143.5" font-family='"Liberation Serif", serif' font-size="69" font-weight="bold" text-anchor="middle" >5</text>
<text x="2151" y="3143.5" font-family='"Liberation Serif", serif' font-size="69" font-weight="bold" text-anchor="middle" >6</text>
<g transform="matrix(1.0444 0 0 1.0000 -48.57 1.25)"><text x="977" y="3235" font-family='"Liberation Serif", serif' font-size="66" font-weight="bold">[Glucose] / mmol L<tspan font-size="64" dy="-29">-1</tspan></text></g>
<g transform="matrix(1.0146 0 0 0.9253 -3.16 182.50)"><text transform="translate(168.3,2426) rotate(-90)" font-family='"Liberation Serif", serif' font-size="72" font-weight="bold" text-anchor="middle">I / mA</text></g>
<g transform="matrix(1.0403 0 0 0.9608 -24.07 78.22)"><text x="592.3" y="1996" font-family='"Liberation Serif", serif' font-size="112" font-weight="bold" text-anchor="middle">(B)</text></g>
<line x1="497.8" y1="2806.5" x2="1912" y2="1979" stroke="#000" stroke-width="10" stroke-linecap="butt"/>
<line x1="443" y1="2858.8" x2="443" y2="2866.8" stroke="#3c1e78" stroke-width="9" stroke-linecap="butt"/>
<line x1="416" y1="2858.8" x2="470" y2="2858.8" stroke="#3c1e78" stroke-width="8.2" stroke-linecap="butt"/>
<line x1="416" y1="2866.8" x2="470" y2="2866.8" stroke="#3c1e78" stroke-width="8.2" stroke-linecap="butt"/>
<line x1="449.9" y1="2828" x2="449.9" y2="2836" stroke="#3c1e78" stroke-width="9" stroke-linecap="butt"/>
<line x1="422.9" y1="2828" x2="476.9" y2="2828" stroke="#3c1e78" stroke-width="8.2" stroke-linecap="butt"/>
<line x1="422.9" y1="2836" x2="476.9" y2="2836" stroke="#3c1e78" stroke-width="8.2" stroke-linecap="butt"/>
<line x1="456" y1="2819.5" x2="456" y2="2827.5" stroke="#3c1e78" stroke-width="9" stroke-linecap="butt"/>
<line x1="429" y1="2819.5" x2="483" y2="2819.5" stroke="#3c1e78" stroke-width="8.2" stroke-linecap="butt"/>
<line x1="429" y1="2827.5" x2="483" y2="2827.5" stroke="#3c1e78" stroke-width="8.2" stroke-linecap="butt"/>
<line x1="462.3" y1="2814" x2="462.3" y2="2822" stroke="#3c1e78" stroke-width="9" stroke-linecap="butt"/>
<line x1="435.3" y1="2814" x2="489.3" y2="2814" stroke="#3c1e78" stroke-width="8.2" stroke-linecap="butt"/>
<line x1="435.3" y1="2822" x2="489.3" y2="2822" stroke="#3c1e78" stroke-width="8.2" stroke-linecap="butt"/>
<line x1="468.6" y1="2808.3" x2="468.6" y2="2816.3" stroke="#3c1e78" stroke-width="9" stroke-linecap="butt"/>
<line x1="441.6" y1="2808.3" x2="495.6" y2="2808.3" stroke="#3c1e78" stroke-width="8.2" stroke-linecap="butt"/>
<line x1="441.6" y1="2816.3" x2="495.6" y2="2816.3" stroke="#3c1e78" stroke-width="8.2" stroke-linecap="butt"/>
<line x1="497.9" y1="2802.3" x2="497.9" y2="2812.3" stroke="#3c1e78" stroke-width="9" stroke-linecap="butt"/>
<line x1="470.9" y1="2802.3" x2="524.9" y2="2802.3" stroke="#3c1e78" stroke-width="8.2" stroke-linecap="butt"/>
<line x1="470.9" y1="2812.3" x2="524.9" y2="2812.3" stroke="#3c1e78" stroke-width="8.2" stroke-linecap="butt"/>
<line x1="554.6" y1="2791.9" x2="554.6" y2="2808.9" stroke="#3c1e78" stroke-width="9" stroke-linecap="butt"/>
<line x1="527.6" y1="2791.9" x2="581.6" y2="2791.9" stroke="#3c1e78" stroke-width="8.2" stroke-linecap="butt"/>
<line x1="527.6" y1="2808.9" x2="581.6" y2="2808.9" stroke="#3c1e78" stroke-width="8.2" stroke-linecap="butt"/>
<line x1="611.2" y1="2758.6" x2="611.2" y2="2775.4" stroke="#3c1e78" stroke-width="9" stroke-linecap="butt"/>
<line x1="584.2" y1="2758.6" x2="638.2" y2="2758.6" stroke="#3c1e78" stroke-width="8.2" stroke-linecap="butt"/>
<line x1="584.2" y1="2775.4" x2="638.2" y2="2775.4" stroke="#3c1e78" stroke-width="8.2" stroke-linecap="butt"/>
<line x1="669.2" y1="2705.3" x2="669.2" y2="2725.3" stroke="#3c1e78" stroke-width="9" stroke-linecap="butt"/>
<line x1="642.2" y1="2705.3" x2="696.2" y2="2705.3" stroke="#3c1e78" stroke-width="8.2" stroke-linecap="butt"/>
<line x1="642.2" y1="2725.3" x2="696.2" y2="2725.3" stroke="#3c1e78" stroke-width="8.2" stroke-linecap="butt"/>
<line x1="726" y1="2665" x2="726" y2="2681.8" stroke="#3c1e78" stroke-width="9" stroke-linecap="butt"/>
<line x1="699" y1="2665" x2="753" y2="2665" stroke="#3c1e78" stroke-width="8.2" stroke-linecap="butt"/>
<line x1="699" y1="2681.8" x2="753" y2="2681.8" stroke="#3c1e78" stroke-width="8.2" stroke-linecap="butt"/>
<line x1="783.2" y1="2601.4" x2="783.2" y2="2618.4" stroke="#3c1e78" stroke-width="9" stroke-linecap="butt"/>
<line x1="756.2" y1="2601.4" x2="810.2" y2="2601.4" stroke="#3c1e78" stroke-width="8.2" stroke-linecap="butt"/>
<line x1="756.2" y1="2618.4" x2="810.2" y2="2618.4" stroke="#3c1e78" stroke-width="8.2" stroke-linecap="butt"/>
<line x1="840" y1="2552.7" x2="840" y2="2584.7" stroke="#3c1e78" stroke-width="9" stroke-linecap="butt"/>
<line x1="813" y1="2552.7" x2="867" y2="2552.7" stroke="#3c1e78" stroke-width="8.2" stroke-linecap="butt"/>
<line x1="813" y1="2584.7" x2="867" y2="2584.7" stroke="#3c1e78" stroke-width="8.2" stroke-linecap="butt"/>
<line x1="954.2" y1="2510.8" x2="954.2" y2="2574.8" stroke="#3c1e78" stroke-width="9" stroke-linecap="butt"/>
<line x1="927.2" y1="2510.8" x2="981.2" y2="2510.8" stroke="#3c1e78" stroke-width="8.2" stroke-linecap="butt"/>
<line x1="927.2" y1="2574.8" x2="981.2" y2="2574.8" stroke="#3c1e78" stroke-width="8.2" stroke-linecap="butt"/>
<line x1="1010.3" y1="2464" x2="1010.3" y2="2558" stroke="#3c1e78" stroke-width="9" stroke-linecap="butt"/>
<line x1="983.3" y1="2464" x2="1037.3" y2="2464" stroke="#3c1e78" stroke-width="8.2" stroke-linecap="butt"/>
<line x1="983.3" y1="2558" x2="1037.3" y2="2558" stroke="#3c1e78" stroke-width="8.2" stroke-linecap="butt"/>
<line x1="1124.4" y1="2434.2" x2="1124.4" y2="2494.2" stroke="#3c1e78" stroke-width="9" stroke-linecap="butt"/>
<line x1="1097.4" y1="2434.2" x2="1151.4" y2="2434.2" stroke="#3c1e78" stroke-width="8.2" stroke-linecap="butt"/>
<line x1="1097.4" y1="2494.2" x2="1151.4" y2="2494.2" stroke="#3c1e78" stroke-width="8.2" stroke-linecap="butt"/>
<line x1="1238.5" y1="2375.3" x2="1238.5" y2="2407.3" stroke="#3c1e78" stroke-width="9" stroke-linecap="butt"/>
<line x1="1211.5" y1="2375.3" x2="1265.5" y2="2375.3" stroke="#3c1e78" stroke-width="8.2" stroke-linecap="butt"/>
<line x1="1211.5" y1="2407.3" x2="1265.5" y2="2407.3" stroke="#3c1e78" stroke-width="8.2" stroke-linecap="butt"/>
<line x1="1352.6" y1="2284.4" x2="1352.6" y2="2316.4" stroke="#3c1e78" stroke-width="9" stroke-linecap="butt"/>
<line x1="1325.6" y1="2284.4" x2="1379.6" y2="2284.4" stroke="#3c1e78" stroke-width="8.2" stroke-linecap="butt"/>
<line x1="1325.6" y1="2316.4" x2="1379.6" y2="2316.4" stroke="#3c1e78" stroke-width="8.2" stroke-linecap="butt"/>
<line x1="1466.7" y1="2233.5" x2="1466.7" y2="2283.5" stroke="#3c1e78" stroke-width="9" stroke-linecap="butt"/>
<line x1="1439.7" y1="2233.5" x2="1493.7" y2="2233.5" stroke="#3c1e78" stroke-width="8.2" stroke-linecap="butt"/>
<line x1="1439.7" y1="2283.5" x2="1493.7" y2="2283.5" stroke="#3c1e78" stroke-width="8.2" stroke-linecap="butt"/>
<line x1="1580.7" y1="2159.4" x2="1580.7" y2="2221.4" stroke="#3c1e78" stroke-width="9" stroke-linecap="butt"/>
<line x1="1553.7" y1="2159.4" x2="1607.7" y2="2159.4" stroke="#3c1e78" stroke-width="8.2" stroke-linecap="butt"/>
<line x1="1553.7" y1="2221.4" x2="1607.7" y2="2221.4" stroke="#3c1e78" stroke-width="8.2" stroke-linecap="butt"/>
<line x1="1695.5" y1="2109.7" x2="1695.5" y2="2141.7" stroke="#3c1e78" stroke-width="9" stroke-linecap="butt"/>
<line x1="1668.5" y1="2109.7" x2="1722.5" y2="2109.7" stroke="#3c1e78" stroke-width="8.2" stroke-linecap="butt"/>
<line x1="1668.5" y1="2141.7" x2="1722.5" y2="2141.7" stroke="#3c1e78" stroke-width="8.2" stroke-linecap="butt"/>
<line x1="1808.5" y1="2003.7" x2="1808.5" y2="2036.7" stroke="#3c1e78" stroke-width="9" stroke-linecap="butt"/>
<line x1="1781.5" y1="2003.7" x2="1835.5" y2="2003.7" stroke="#3c1e78" stroke-width="8.2" stroke-linecap="butt"/>
<line x1="1781.5" y1="2036.7" x2="1835.5" y2="2036.7" stroke="#3c1e78" stroke-width="8.2" stroke-linecap="butt"/>
<line x1="1923" y1="1925.5" x2="1923" y2="1987.5" stroke="#3c1e78" stroke-width="9" stroke-linecap="butt"/>
<line x1="1896" y1="1925.5" x2="1950" y2="1925.5" stroke="#3c1e78" stroke-width="8.2" stroke-linecap="butt"/>
<line x1="1896" y1="1987.5" x2="1950" y2="1987.5" stroke="#3c1e78" stroke-width="8.2" stroke-linecap="butt"/>
<circle cx="443" cy="2862.8" r="12.5" fill="#ff2b2b" stroke="#6a0808" stroke-width="2.5"/>
<circle cx="449.9" cy="2832" r="12.5" fill="#ff2b2b" stroke="#6a0808" stroke-width="2.5"/>
<circle cx="456" cy="2823.5" r="12.5" fill="#ff2b2b" stroke="#6a0808" stroke-width="2.5"/>
<circle cx="462.3" cy="2818" r="12.5" fill="#ff2b2b" stroke="#6a0808" stroke-width="2.5"/>
<circle cx="468.6" cy="2812.3" r="12.5" fill="#ff2b2b" stroke="#6a0808" stroke-width="2.5"/>
<circle cx="497.9" cy="2807.3" r="12.5" fill="#ff2b2b" stroke="#6a0808" stroke-width="2.5"/>
<circle cx="554.6" cy="2800.4" r="12.5" fill="#ff2b2b" stroke="#6a0808" stroke-width="2.5"/>
<circle cx="611.2" cy="2767" r="12.5" fill="#ff2b2b" stroke="#6a0808" stroke-width="2.5"/>
<circle cx="669.2" cy="2715.3" r="12.5" fill="#ff2b2b" stroke="#6a0808" stroke-width="2.5"/>
<circle cx="726" cy="2673.4" r="12.5" fill="#ff2b2b" stroke="#6a0808" stroke-width="2.5"/>
<circle cx="783.2" cy="2609.9" r="12.5" fill="#ff2b2b" stroke="#6a0808" stroke-width="2.5"/>
<circle cx="840" cy="2568.7" r="12.5" fill="#ff2b2b" stroke="#6a0808" stroke-width="2.5"/>
<circle cx="954.2" cy="2542.8" r="12.5" fill="#ff2b2b" stroke="#6a0808" stroke-width="2.5"/>
<circle cx="1010.3" cy="2511" r="12.5" fill="#ff2b2b" stroke="#6a0808" stroke-width="2.5"/>
<circle cx="1124.4" cy="2464.2" r="12.5" fill="#ff2b2b" stroke="#6a0808" stroke-width="2.5"/>
<circle cx="1238.5" cy="2391.3" r="12.5" fill="#ff2b2b" stroke="#6a0808" stroke-width="2.5"/>
<circle cx="1352.6" cy="2300.4" r="12.5" fill="#ff2b2b" stroke="#6a0808" stroke-width="2.5"/>
<circle cx="1466.7" cy="2258.5" r="12.5" fill="#ff2b2b" stroke="#6a0808" stroke-width="2.5"/>
<circle cx="1580.7" cy="2190.4" r="12.5" fill="#ff2b2b" stroke="#6a0808" stroke-width="2.5"/>
<circle cx="1695.5" cy="2125.7" r="12.5" fill="#ff2b2b" stroke="#6a0808" stroke-width="2.5"/>
<circle cx="1808.5" cy="2020.2" r="12.5" fill="#ff2b2b" stroke="#6a0808" stroke-width="2.5"/>
<circle cx="1923" cy="1956.5" r="12.5" fill="#ff2b2b" stroke="#6a0808" stroke-width="2.5"/>
<rect x="1341" y="2404.5" width="700" height="490.5" fill="#fff"/>
<line x1="1358.5" y1="2409.5" x2="1358.5" y2="2420.5" stroke="#000" stroke-width="4" stroke-linecap="butt"/>
<line x1="1358.5" y1="2890" x2="1358.5" y2="2879" stroke="#000" stroke-width="4" stroke-linecap="butt"/>
<line x1="1376" y1="2409.5" x2="1376" y2="2420.5" stroke="#000" stroke-width="4" stroke-linecap="butt"/>
<line x1="1376" y1="2890" x2="1376" y2="2879" stroke="#000" stroke-width="4" stroke-linecap="butt"/>
<line x1="1393.6" y1="2409.5" x2="1393.6" y2="2420.5" stroke="#000" stroke-width="4" stroke-linecap="butt"/>
<line x1="1393.6" y1="2890" x2="1393.6" y2="2879" stroke="#000" stroke-width="4" stroke-linecap="butt"/>
<line x1="1411.1" y1="2409.5" x2="1411.1" y2="2420.5" stroke="#000" stroke-width="4" stroke-linecap="butt"/>
<line x1="1411.1" y1="2890" x2="1411.1" y2="2879" stroke="#000" stroke-width="4" stroke-linecap="butt"/>
<line x1="1446.1" y1="2409.5" x2="1446.1" y2="2420.5" stroke="#000" stroke-width="4" stroke-linecap="butt"/>
<line x1="1446.1" y1="2890" x2="1446.1" y2="2879" stroke="#000" stroke-width="4" stroke-linecap="butt"/>
<line x1="1463.6" y1="2409.5" x2="1463.6" y2="2420.5" stroke="#000" stroke-width="4" stroke-linecap="butt"/>
<line x1="1463.6" y1="2890" x2="1463.6" y2="2879" stroke="#000" stroke-width="4" stroke-linecap="butt"/>
<line x1="1481.2" y1="2409.5" x2="1481.2" y2="2420.5" stroke="#000" stroke-width="4" stroke-linecap="butt"/>
<line x1="1481.2" y1="2890" x2="1481.2" y2="2879" stroke="#000" stroke-width="4" stroke-linecap="butt"/>
<line x1="1498.7" y1="2409.5" x2="1498.7" y2="2420.5" stroke="#000" stroke-width="4" stroke-linecap="butt"/>
<line x1="1498.7" y1="2890" x2="1498.7" y2="2879" stroke="#000" stroke-width="4" stroke-linecap="butt"/>
<line x1="1533.7" y1="2409.5" x2="1533.7" y2="2420.5" stroke="#000" stroke-width="4" stroke-linecap="butt"/>
<line x1="1533.7" y1="2890" x2="1533.7" y2="2879" stroke="#000" stroke-width="4" stroke-linecap="butt"/>
<line x1="1551.2" y1="2409.5" x2="1551.2" y2="2420.5" stroke="#000" stroke-width="4" stroke-linecap="butt"/>
<line x1="1551.2" y1="2890" x2="1551.2" y2="2879" stroke="#000" stroke-width="4" stroke-linecap="butt"/>
<line x1="1568.8" y1="2409.5" x2="1568.8" y2="2420.5" stroke="#000" stroke-width="4" stroke-linecap="butt"/>
<line x1="1568.8" y1="2890" x2="1568.8" y2="2879" stroke="#000" stroke-width="4" stroke-linecap="butt"/>
<line x1="1586.3" y1="2409.5" x2="1586.3" y2="2420.5" stroke="#000" stroke-width="4" stroke-linecap="butt"/>
<line x1="1586.3" y1="2890" x2="1586.3" y2="2879" stroke="#000" stroke-width="4" stroke-linecap="butt"/>
<line x1="1621.3" y1="2409.5" x2="1621.3" y2="2420.5" stroke="#000" stroke-width="4" stroke-linecap="butt"/>
<line x1="1621.3" y1="2890" x2="1621.3" y2="2879" stroke="#000" stroke-width="4" stroke-linecap="butt"/>
<line x1="1638.8" y1="2409.5" x2="1638.8" y2="2420.5" stroke="#000" stroke-width="4" stroke-linecap="butt"/>
<line x1="1638.8" y1="2890" x2="1638.8" y2="2879" stroke="#000" stroke-width="4" stroke-linecap="butt"/>
<line x1="1656.4" y1="2409.5" x2="1656.4" y2="2420.5" stroke="#000" stroke-width="4" stroke-linecap="butt"/>
<line x1="1656.4" y1="2890" x2="1656.4" y2="2879" stroke="#000" stroke-width="4" stroke-linecap="butt"/>
<line x1="1673.9" y1="2409.5" x2="1673.9" y2="2420.5" stroke="#000" stroke-width="4" stroke-linecap="butt"/>
<line x1="1673.9" y1="2890" x2="1673.9" y2="2879" stroke="#000" stroke-width="4" stroke-linecap="butt"/>
<line x1="1708.9" y1="2409.5" x2="1708.9" y2="2420.5" stroke="#000" stroke-width="4" stroke-linecap="butt"/>
<line x1="1708.9" y1="2890" x2="1708.9" y2="2879" stroke="#000" stroke-width="4" stroke-linecap="butt"/>
<line x1="1726.4" y1="2409.5" x2="1726.4" y2="2420.5" stroke="#000" stroke-width="4" stroke-linecap="butt"/>
<line x1="1726.4" y1="2890" x2="1726.4" y2="2879" stroke="#000" stroke-width="4" stroke-linecap="butt"/>
<line x1="1744" y1="2409.5" x2="1744" y2="2420.5" stroke="#000" stroke-width="4" stroke-linecap="butt"/>
<line x1="1744" y1="2890" x2="1744" y2="2879" stroke="#000" stroke-width="4" stroke-linecap="butt"/>
<line x1="1761.5" y1="2409.5" x2="1761.5" y2="2420.5" stroke="#000" stroke-width="4" stroke-linecap="butt"/>
<line x1="1761.5" y1="2890" x2="1761.5" y2="2879" stroke="#000" stroke-width="4" stroke-linecap="butt"/>
<line x1="1796.5" y1="2409.5" x2="1796.5" y2="2420.5" stroke="#000" stroke-width="4" stroke-linecap="butt"/>
<line x1="1796.5" y1="2890" x2="1796.5" y2="2879" stroke="#000" stroke-width="4" stroke-linecap="butt"/>
<line x1="1814" y1="2409.5" x2="1814" y2="2420.5" stroke="#000" stroke-width="4" stroke-linecap="butt"/>
<line x1="1814" y1="2890" x2="1814" y2="2879" stroke="#000" stroke-width="4" stroke-linecap="butt"/>
<line x1="1831.6" y1="2409.5" x2="1831.6" y2="2420.5" stroke="#000" stroke-width="4" stroke-linecap="butt"/>
<line x1="1831.6" y1="2890" x2="1831.6" y2="2879" stroke="#000" stroke-width="4" stroke-linecap="butt"/>
<line x1="1849.1" y1="2409.5" x2="1849.1" y2="2420.5" stroke="#000" stroke-width="4" stroke-linecap="butt"/>
<line x1="1849.1" y1="2890" x2="1849.1" y2="2879" stroke="#000" stroke-width="4" stroke-linecap="butt"/>
<line x1="1884.1" y1="2409.5" x2="1884.1" y2="2420.5" stroke="#000" stroke-width="4" stroke-linecap="butt"/>
<line x1="1884.1" y1="2890" x2="1884.1" y2="2879" stroke="#000" stroke-width="4" stroke-linecap="butt"/>
<line x1="1901.6" y1="2409.5" x2="1901.6" y2="2420.5" stroke="#000" stroke-width="4" stroke-linecap="butt"/>
<line x1="1901.6" y1="2890" x2="1901.6" y2="2879" stroke="#000" stroke-width="4" stroke-linecap="butt"/>
<line x1="1919.2" y1="2409.5" x2="1919.2" y2="2420.5" stroke="#000" stroke-width="4" stroke-linecap="butt"/>
<line x1="1919.2" y1="2890" x2="1919.2" y2="2879" stroke="#000" stroke-width="4" stroke-linecap="butt"/>
<line x1="1936.7" y1="2409.5" x2="1936.7" y2="2420.5" stroke="#000" stroke-width="4" stroke-linecap="butt"/>
<line x1="1936.7" y1="2890" x2="1936.7" y2="2879" stroke="#000" stroke-width="4" stroke-linecap="butt"/>
<line x1="1971.7" y1="2409.5" x2="1971.7" y2="2420.5" stroke="#000" stroke-width="4" stroke-linecap="butt"/>
<line x1="1971.7" y1="2890" x2="1971.7" y2="2879" stroke="#000" stroke-width="4" stroke-linecap="butt"/>
<line x1="1989.2" y1="2409.5" x2="1989.2" y2="2420.5" stroke="#000" stroke-width="4" stroke-linecap="butt"/>
<line x1="1989.2" y1="2890" x2="1989.2" y2="2879" stroke="#000" stroke-width="4" stroke-linecap="butt"/>
<line x1="2006.8" y1="2409.5" x2="2006.8" y2="2420.5" stroke="#000" stroke-width="4" stroke-linecap="butt"/>
<line x1="2006.8" y1="2890" x2="2006.8" y2="2879" stroke="#000" stroke-width="4" stroke-linecap="butt"/>
<line x1="2024.3" y1="2409.5" x2="2024.3" y2="2420.5" stroke="#000" stroke-width="4" stroke-linecap="butt"/>
<line x1="2024.3" y1="2890" x2="2024.3" y2="2879" stroke="#000" stroke-width="4" stroke-linecap="butt"/>
<line x1="1428.6" y1="2409.5" x2="1428.6" y2="2426.5" stroke="#000" stroke-width="5" stroke-linecap="butt"/>
<line x1="1428.6" y1="2890" x2="1428.6" y2="2873" stroke="#000" stroke-width="5" stroke-linecap="butt"/>
<line x1="1516.2" y1="2409.5" x2="1516.2" y2="2426.5" stroke="#000" stroke-width="5" stroke-linecap="butt"/>
<line x1="1516.2" y1="2890" x2="1516.2" y2="2873" stroke="#000" stroke-width="5" stroke-linecap="butt"/>
<line x1="1603.8" y1="2409.5" x2="1603.8" y2="2426.5" stroke="#000" stroke-width="5" stroke-linecap="butt"/>
<line x1="1603.8" y1="2890" x2="1603.8" y2="2873" stroke="#000" stroke-width="5" stroke-linecap="butt"/>
<line x1="1691.4" y1="2409.5" x2="1691.4" y2="2426.5" stroke="#000" stroke-width="5" stroke-linecap="butt"/>
<line x1="1691.4" y1="2890" x2="1691.4" y2="2873" stroke="#000" stroke-width="5" stroke-linecap="butt"/>
<line x1="1779" y1="2409.5" x2="1779" y2="2426.5" stroke="#000" stroke-width="5" stroke-linecap="butt"/>
<line x1="1779" y1="2890" x2="1779" y2="2873" stroke="#000" stroke-width="5" stroke-linecap="butt"/>
<line x1="1866.6" y1="2409.5" x2="1866.6" y2="2426.5" stroke="#000" stroke-width="5" stroke-linecap="butt"/>
<line x1="1866.6" y1="2890" x2="1866.6" y2="2873" stroke="#000" stroke-width="5" stroke-linecap="butt"/>
<line x1="1954.2" y1="2409.5" x2="1954.2" y2="2426.5" stroke="#000" stroke-width="5" stroke-linecap="butt"/>
<line x1="1954.2" y1="2890" x2="1954.2" y2="2873" stroke="#000" stroke-width="5" stroke-linecap="butt"/>
<line x1="1346" y1="2887.2" x2="1356.5" y2="2887.2" stroke="#000" stroke-width="4" stroke-linecap="butt"/>
<line x1="2036" y1="2887.2" x2="2025.5" y2="2887.2" stroke="#000" stroke-width="4" stroke-linecap="butt"/>
<line x1="1346" y1="2850" x2="1356.5" y2="2850" stroke="#000" stroke-width="4" stroke-linecap="butt"/>
<line x1="2036" y1="2850" x2="2025.5" y2="2850" stroke="#000" stroke-width="4" stroke-linecap="butt"/>
<line x1="1346" y1="2831.4" x2="1356.5" y2="2831.4" stroke="#000" stroke-width="4" stroke-linecap="butt"/>
<line x1="2036" y1="2831.4" x2="2025.5" y2="2831.4" stroke="#000" stroke-width="4" stroke-linecap="butt"/>
<line x1="1346" y1="2812.8" x2="1356.5" y2="2812.8" stroke="#000" stroke-width="4" stroke-linecap="butt"/>
<line x1="2036" y1="2812.8" x2="2025.5" y2="2812.8" stroke="#000" stroke-width="4" stroke-linecap="butt"/>
<line x1="1346" y1="2794.2" x2="1356.5" y2="2794.2" stroke="#000" stroke-width="4" stroke-linecap="butt"/>
<line x1="2036" y1="2794.2" x2="2025.5" y2="2794.2" stroke="#000" stroke-width="4" stroke-linecap="butt"/>
<line x1="1346" y1="2757" x2="1356.5" y2="2757" stroke="#000" stroke-width="4" stroke-linecap="butt"/>
<line x1="2036" y1="2757" x2="2025.5" y2="2757" stroke="#000" stroke-width="4" stroke-linecap="butt"/>
<line x1="1346" y1="2738.4" x2="1356.5" y2="2738.4" stroke="#000" stroke-width="4" stroke-linecap="butt"/>
<line x1="2036" y1="2738.4" x2="2025.5" y2="2738.4" stroke="#000" stroke-width="4" stroke-linecap="butt"/>
<line x1="1346" y1="2719.8" x2="1356.5" y2="2719.8" stroke="#000" stroke-width="4" stroke-linecap="butt"/>
<line x1="2036" y1="2719.8" x2="2025.5" y2="2719.8" stroke="#000" stroke-width="4" stroke-linecap="butt"/>
<line x1="1346" y1="2701.2" x2="1356.5" y2="2701.2" stroke="#000" stroke-width="4" stroke-linecap="butt"/>
<line x1="2036" y1="2701.2" x2="2025.5" y2="2701.2" stroke="#000" stroke-width="4" stroke-linecap="butt"/>
<line x1="1346" y1="2664" x2="1356.5" y2="2664" stroke="#000" stroke-width="4" stroke-linecap="butt"/>
<line x1="2036" y1="2664" x2="2025.5" y2="2664" stroke="#000" stroke-width="4" stroke-linecap="butt"/>
<line x1="1346" y1="2645.4" x2="1356.5" y2="2645.4" stroke="#000" stroke-width="4" stroke-linecap="butt"/>
<line x1="2036" y1="2645.4" x2="2025.5" y2="2645.4" stroke="#000" stroke-width="4" stroke-linecap="butt"/>
<line x1="1346" y1="2626.8" x2="1356.5" y2="2626.8" stroke="#000" stroke-width="4" stroke-linecap="butt"/>
<line x1="2036" y1="2626.8" x2="2025.5" y2="2626.8" stroke="#000" stroke-width="4" stroke-linecap="butt"/>
<line x1="1346" y1="2608.2" x2="1356.5" y2="2608.2" stroke="#000" stroke-width="4" stroke-linecap="butt"/>
<line x1="2036" y1="2608.2" x2="2025.5" y2="2608.2" stroke="#000" stroke-width="4" stroke-linecap="butt"/>
<line x1="1346" y1="2571" x2="1356.5" y2="2571" stroke="#000" stroke-width="4" stroke-linecap="butt"/>
<line x1="2036" y1="2571" x2="2025.5" y2="2571" stroke="#000" stroke-width="4" stroke-linecap="butt"/>
<line x1="1346" y1="2552.4" x2="1356.5" y2="2552.4" stroke="#000" stroke-width="4" stroke-linecap="butt"/>
<line x1="2036" y1="2552.4" x2="2025.5" y2="2552.4" stroke="#000" stroke-width="4" stroke-linecap="butt"/>
<line x1="1346" y1="2533.8" x2="1356.5" y2="2533.8" stroke="#000" stroke-width="4" stroke-linecap="butt"/>
<line x1="2036" y1="2533.8" x2="2025.5" y2="2533.8" stroke="#000" stroke-width="4" stroke-linecap="butt"/>
<line x1="1346" y1="2515.2" x2="1356.5" y2="2515.2" stroke="#000" stroke-width="4" stroke-linecap="butt"/>
<line x1="2036" y1="2515.2" x2="2025.5" y2="2515.2" stroke="#000" stroke-width="4" stroke-linecap="butt"/>
<line x1="1346" y1="2478" x2="1356.5" y2="2478" stroke="#000" stroke-width="4" stroke-linecap="butt"/>
<line x1="2036" y1="2478" x2="2025.5" y2="2478" stroke="#000" stroke-width="4" stroke-linecap="butt"/>
<line x1="1346" y1="2459.4" x2="1356.5" y2="2459.4" stroke="#000" stroke-width="4" stroke-linecap="butt"/>
<line x1="2036" y1="2459.4" x2="2025.5" y2="2459.4" stroke="#000" stroke-width="4" stroke-linecap="butt"/>
<line x1="1346" y1="2440.8" x2="1356.5" y2="2440.8" stroke="#000" stroke-width="4" stroke-linecap="butt"/>
<line x1="2036" y1="2440.8" x2="2025.5" y2="2440.8" stroke="#000" stroke-width="4" stroke-linecap="butt"/>
<line x1="1346" y1="2422.2" x2="1356.5" y2="2422.2" stroke="#000" stroke-width="4" stroke-linecap="butt"/>
<line x1="2036" y1="2422.2" x2="2025.5" y2="2422.2" stroke="#000" stroke-width="4" stroke-linecap="butt"/>
<line x1="1346" y1="2868.6" x2="1364" y2="2868.6" stroke="#000" stroke-width="5" stroke-linecap="butt"/>
<line x1="2036" y1="2868.6" x2="2018" y2="2868.6" stroke="#000" stroke-width="5" stroke-linecap="butt"/>
<line x1="1346" y1="2775.6" x2="1364" y2="2775.6" stroke="#000" stroke-width="5" stroke-linecap="butt"/>
<line x1="2036" y1="2775.6" x2="2018" y2="2775.6" stroke="#000" stroke-width="5" stroke-linecap="butt"/>
<line x1="1346" y1="2682.6" x2="1364" y2="2682.6" stroke="#000" stroke-width="5" stroke-linecap="butt"/>
<line x1="2036" y1="2682.6" x2="2018" y2="2682.6" stroke="#000" stroke-width="5" stroke-linecap="butt"/>
<line x1="1346" y1="2589.6" x2="1364" y2="2589.6" stroke="#000" stroke-width="5" stroke-linecap="butt"/>
<line x1="2036" y1="2589.6" x2="2018" y2="2589.6" stroke="#000" stroke-width="5" stroke-linecap="butt"/>
<line x1="1346" y1="2496.6" x2="1364" y2="2496.6" stroke="#000" stroke-width="5" stroke-linecap="butt"/>
<line x1="2036" y1="2496.6" x2="2018" y2="2496.6" stroke="#000" stroke-width="5" stroke-linecap="butt"/>
<path d="M1384.8,2850.6 L1389.2,2850.5 L1393.6,2850.4 L1397.9,2850.3 L1402.3,2850.2 L1406.7,2850.1 L1411.1,2850.0 L1415.5,2849.9 L1419.8,2849.8 L1424.2,2849.7 L1428.6,2849.5 L1433.0,2849.4 L1437.4,2849.2 L1441.7,2849.1 L1446.1,2848.9 L1450.5,2848.7 L1454.9,2848.5 L1459.3,2848.3 L1463.6,2848.1 L1468.0,2847.9 L1472.4,2847.7 L1476.8,2847.4 L1481.2,2847.1 L1485.5,2846.9 L1489.9,2846.6 L1494.3,2846.3 L1498.7,2846.0 L1503.1,2845.6 L1507.4,2845.3 L1511.8,2844.9 L1516.2,2844.5 L1520.6,2844.1 L1525.0,2843.7 L1529.3,2843.2 L1533.7,2842.8 L1538.1,2842.3 L1542.5,2841.8 L1546.9,2841.3 L1551.2,2840.8 L1555.6,2840.2 L1560.0,2839.6 L1564.4,2839.0 L1568.8,2838.4 L1573.1,2837.8 L1577.5,2837.1 L1581.9,2836.5 L1586.3,2835.8 L1590.7,2835.1 L1595.0,2834.3 L1599.4,2833.6 L1603.8,2832.9 L1608.2,2832.1 L1612.6,2831.3 L1616.9,2830.5 L1621.3,2829.7 L1625.7,2828.9 L1630.1,2828.1 L1634.5,2827.3 L1638.8,2826.5 L1643.2,2825.7 L1647.6,2824.9 L1652.0,2824.0 L1656.4,2823.2 L1660.7,2822.4 L1665.1,2821.6 L1669.5,2820.8 L1673.9,2820.0 L1678.3,2819.3 L1682.6,2818.5 L1687.0,2817.8 L1691.4,2817.0 L1695.8,2816.3 L1700.2,2815.6 L1704.5,2814.9 L1708.9,2814.2 L1713.3,2813.6 L1717.7,2812.9 L1722.1,2812.3 L1726.4,2811.7 L1730.8,2811.2 L1735.2,2810.6 L1739.6,2810.1 L1744.0,2809.6 L1748.3,2809.1 L1752.7,2808.6 L1757.1,2808.1 L1761.5,2807.7 L1765.9,2807.3 L1770.2,2806.8 L1774.6,2806.5 L1779.0,2806.1 L1783.4,2805.7 L1787.8,2805.4 L1792.1,2805.1 L1796.5,2804.8 L1800.9,2804.5 L1805.3,2804.2 L1809.7,2804.0 L1814.0,2803.7 L1818.4,2803.5 L1822.8,2803.2 L1827.2,2803.0 L1831.6,2802.8 L1835.9,2802.6 L1840.3,2802.5 L1844.7,2802.3 L1849.1,2802.1 L1853.5,2802.0 L1857.8,2801.8 L1862.2,2801.7 L1866.6,2801.6 L1871.0,2801.5 L1875.4,2801.3 L1879.7,2801.2 L1884.1,2801.1 L1888.5,2801.0 L1892.9,2800.9 L1897.3,2800.9 L1901.6,2800.8 L1906.0,2800.7 L1910.4,2800.5 L1914.8,2800.4 L1919.2,2800.2 L1923.5,2799.9 L1927.9,2799.6 L1932.3,2799.3 L1936.7,2798.9 L1941.1,2798.5 L1945.4,2798.1 L1949.8,2797.6 L1954.2,2797.1 L1958.6,2796.5 L1963.0,2795.9 L1967.3,2795.2 L1971.7,2794.5 L1976.1,2793.8 L1980.5,2793.0 L1984.9,2792.2 L1989.2,2791.4 L1993.6,2790.5 L1998.0,2789.5" fill="none" stroke="#e8282a" stroke-width="5" stroke-linejoin="round"/>
<path d="M1384.8,2846.4 L1389.2,2846.3 L1393.6,2846.2 L1397.9,2846.2 L1402.3,2846.1 L1406.7,2846.0 L1411.1,2845.9 L1415.5,2845.8 L1419.8,2845.7 L1424.2,2845.6 L1428.6,2845.5 L1433.0,2845.4 L1437.4,2845.2 L1441.7,2845.1 L1446.1,2844.9 L1450.5,2844.7 L1454.9,2844.5 L1459.3,2844.3 L1463.6,2844.1 L1468.0,2843.9 L1472.4,2843.6 L1476.8,2843.3 L1481.2,2843.0 L1485.5,2842.7 L1489.9,2842.4 L1494.3,2842.0 L1498.7,2841.6 L1503.1,2841.2 L1507.4,2840.7 L1511.8,2840.2 L1516.2,2839.7 L1520.6,2839.2 L1525.0,2838.6 L1529.3,2838.0 L1533.7,2837.3 L1538.1,2836.6 L1542.5,2835.9 L1546.9,2835.1 L1551.2,2834.3 L1555.6,2833.4 L1560.0,2832.5 L1564.4,2831.5 L1568.8,2830.6 L1573.1,2829.5 L1577.5,2828.5 L1581.9,2827.4 L1586.3,2826.3 L1590.7,2825.1 L1595.0,2823.9 L1599.4,2822.7 L1603.8,2821.5 L1608.2,2820.2 L1612.6,2819.0 L1616.9,2817.7 L1621.3,2816.4 L1625.7,2815.2 L1630.1,2813.9 L1634.5,2812.6 L1638.8,2811.4 L1643.2,2810.1 L1647.6,2808.9 L1652.0,2807.7 L1656.4,2806.6 L1660.7,2805.5 L1665.1,2804.4 L1669.5,2803.3 L1673.9,2802.3 L1678.3,2801.3 L1682.6,2800.4 L1687.0,2799.5 L1691.4,2798.6 L1695.8,2797.8 L1700.2,2797.0 L1704.5,2796.3 L1708.9,2795.6 L1713.3,2794.9 L1717.7,2794.3 L1722.1,2793.7 L1726.4,2793.1 L1730.8,2792.6 L1735.2,2792.1 L1739.6,2791.7 L1744.0,2791.2 L1748.3,2790.8 L1752.7,2790.5 L1757.1,2790.1 L1761.5,2789.8 L1765.9,2789.5 L1770.2,2789.2 L1774.6,2789.0 L1779.0,2788.7 L1783.4,2788.5 L1787.8,2788.3 L1792.1,2788.1 L1796.5,2787.9 L1800.9,2787.8 L1805.3,2787.6 L1809.7,2787.5 L1814.0,2787.4 L1818.4,2787.2 L1822.8,2787.1 L1827.2,2787.0 L1831.6,2786.9 L1835.9,2786.8 L1840.3,2786.8 L1844.7,2786.7 L1849.1,2786.6 L1853.5,2786.6 L1857.8,2786.5 L1862.2,2786.4 L1866.6,2786.4 L1871.0,2786.4 L1875.4,2786.3 L1879.7,2786.3 L1884.1,2786.2 L1888.5,2786.2 L1892.9,2786.2 L1897.3,2786.1 L1901.6,2786.1 L1906.0,2786.1 L1910.4,2785.9 L1914.8,2785.8 L1919.2,2785.5 L1923.5,2785.2 L1927.9,2784.8 L1932.3,2784.3 L1936.7,2783.8 L1941.1,2783.2 L1945.4,2782.6 L1949.8,2781.9 L1954.2,2781.1 L1958.6,2780.2 L1963.0,2779.3 L1967.3,2778.3 L1971.7,2777.3 L1976.1,2776.2 L1980.5,2775.0 L1984.9,2773.7 L1989.2,2772.4 L1993.6,2771.0 L1998.0,2769.6" fill="none" stroke="#00a050" stroke-width="5" stroke-linejoin="round"/>
<path d="M1384.8,2841.5 L1389.2,2841.4 L1393.6,2841.4 L1397.9,2841.3 L1402.3,2841.2 L1406.7,2841.2 L1411.1,2841.1 L1415.5,2841.0 L1419.8,2840.9 L1424.2,2840.8 L1428.6,2840.7 L1433.0,2840.6 L1437.4,2840.4 L1441.7,2840.3 L1446.1,2840.1 L1450.5,2839.9 L1454.9,2839.7 L1459.3,2839.5 L1463.6,2839.3 L1468.0,2839.1 L1472.4,2838.8 L1476.8,2838.5 L1481.2,2838.2 L1485.5,2837.9 L1489.9,2837.5 L1494.3,2837.1 L1498.7,2836.7 L1503.1,2836.2 L1507.4,2835.7 L1511.8,2835.2 L1516.2,2834.6 L1520.6,2834.0 L1525.0,2833.3 L1529.3,2832.6 L1533.7,2831.8 L1538.1,2831.0 L1542.5,2830.2 L1546.9,2829.3 L1551.2,2828.3 L1555.6,2827.3 L1560.0,2826.2 L1564.4,2825.1 L1568.8,2823.9 L1573.1,2822.7 L1577.5,2821.4 L1581.9,2820.1 L1586.3,2818.7 L1590.7,2817.3 L1595.0,2815.9 L1599.4,2814.4 L1603.8,2812.9 L1608.2,2811.4 L1612.6,2809.9 L1616.9,2808.3 L1621.3,2806.8 L1625.7,2805.3 L1630.1,2803.8 L1634.5,2802.3 L1638.8,2800.8 L1643.2,2799.4 L1647.6,2798.0 L1652.0,2796.6 L1656.4,2795.3 L1660.7,2794.0 L1665.1,2792.8 L1669.5,2791.6 L1673.9,2790.5 L1678.3,2789.4 L1682.6,2788.4 L1687.0,2787.4 L1691.4,2786.5 L1695.8,2785.6 L1700.2,2784.8 L1704.5,2784.1 L1708.9,2783.4 L1713.3,2782.7 L1717.7,2782.1 L1722.1,2781.5 L1726.4,2781.0 L1730.8,2780.5 L1735.2,2780.0 L1739.6,2779.6 L1744.0,2779.2 L1748.3,2778.8 L1752.7,2778.5 L1757.1,2778.2 L1761.5,2777.9 L1765.9,2777.6 L1770.2,2777.4 L1774.6,2777.1 L1779.0,2776.9 L1783.4,2776.7 L1787.8,2776.6 L1792.1,2776.4 L1796.5,2776.3 L1800.9,2776.1 L1805.3,2776.0 L1809.7,2775.9 L1814.0,2775.8 L1818.4,2775.7 L1822.8,2775.6 L1827.2,2775.5 L1831.6,2775.4 L1835.9,2775.4 L1840.3,2775.3 L1844.7,2775.3 L1849.1,2775.2 L1853.5,2775.2 L1857.8,2775.1 L1862.2,2775.1 L1866.6,2775.0 L1871.0,2775.0 L1875.4,2775.0 L1879.7,2775.0 L1884.1,2774.9 L1888.5,2774.9 L1892.9,2774.9 L1897.3,2774.9 L1901.6,2774.9 L1906.0,2774.8 L1910.4,2774.7 L1914.8,2774.5 L1919.2,2774.2 L1923.5,2773.9 L1927.9,2773.5 L1932.3,2773.0 L1936.7,2772.4 L1941.1,2771.8 L1945.4,2771.1 L1949.8,2770.3 L1954.2,2769.5 L1958.6,2768.5 L1963.0,2767.6 L1967.3,2766.5 L1971.7,2765.4 L1976.1,2764.1 L1980.5,2762.9 L1984.9,2761.5 L1989.2,2760.1 L1993.6,2758.6 L1998.0,2757.0" fill="none" stroke="#f0e400" stroke-width="5" stroke-linejoin="round"/>
<path d="M1384.8,2838.6 L1389.2,2838.5 L1393.6,2838.5 L1397.9,2838.5 L1402.3,2838.4 L1406.7,2838.4 L1411.1,2838.4 L1415.5,2838.3 L1419.8,2838.3 L1424.2,2838.2 L1428.6,2838.1 L1433.0,2838.1 L1437.4,2838.0 L1441.7,2837.9 L1446.1,2837.8 L1450.5,2837.7 L1454.9,2837.6 L1459.3,2837.4 L1463.6,2837.3 L1468.0,2837.1 L1472.4,2836.9 L1476.8,2836.7 L1481.2,2836.5 L1485.5,2836.3 L1489.9,2836.0 L1494.3,2835.8 L1498.7,2835.4 L1503.1,2835.1 L1507.4,2834.7 L1511.8,2834.3 L1516.2,2833.9 L1520.6,2833.4 L1525.0,2832.9 L1529.3,2832.3 L1533.7,2831.7 L1538.1,2831.0 L1542.5,2830.3 L1546.9,2829.5 L1551.2,2828.7 L1555.6,2827.8 L1560.0,2826.8 L1564.4,2825.7 L1568.8,2824.6 L1573.1,2823.4 L1577.5,2822.2 L1581.9,2820.9 L1586.3,2819.5 L1590.7,2818.0 L1595.0,2816.5 L1599.4,2814.9 L1603.8,2813.3 L1608.2,2811.6 L1612.6,2809.9 L1616.9,2808.1 L1621.3,2806.3 L1625.7,2804.5 L1630.1,2802.7 L1634.5,2800.9 L1638.8,2799.1 L1643.2,2797.3 L1647.6,2795.5 L1652.0,2793.7 L1656.4,2792.0 L1660.7,2790.4 L1665.1,2788.8 L1669.5,2787.2 L1673.9,2785.8 L1678.3,2784.3 L1682.6,2783.0 L1687.0,2781.7 L1691.4,2780.5 L1695.8,2779.4 L1700.2,2778.3 L1704.5,2777.3 L1708.9,2776.4 L1713.3,2775.5 L1717.7,2774.7 L1722.1,2773.9 L1726.4,2773.2 L1730.8,2772.6 L1735.2,2772.0 L1739.6,2771.5 L1744.0,2771.0 L1748.3,2770.5 L1752.7,2770.1 L1757.1,2769.7 L1761.5,2769.4 L1765.9,2769.0 L1770.2,2768.7 L1774.6,2768.5 L1779.0,2768.2 L1783.4,2768.0 L1787.8,2767.8 L1792.1,2767.6 L1796.5,2767.5 L1800.9,2767.3 L1805.3,2767.2 L1809.7,2767.0 L1814.0,2766.9 L1818.4,2766.8 L1822.8,2766.7 L1827.2,2766.7 L1831.6,2766.6 L1835.9,2766.5 L1840.3,2766.4 L1844.7,2766.4 L1849.1,2766.3 L1853.5,2766.3 L1857.8,2766.2 L1862.2,2766.2 L1866.6,2766.2 L1871.0,2766.1 L1875.4,2766.1 L1879.7,2766.1 L1884.1,2766.1 L1888.5,2766.0 L1892.9,2766.0 L1897.3,2766.0 L1901.6,2766.0 L1906.0,2765.9 L1910.4,2765.8 L1914.8,2765.6 L1919.2,2765.3 L1923.5,2764.9 L1927.9,2764.5 L1932.3,2764.0 L1936.7,2763.4 L1941.1,2762.7 L1945.4,2761.9 L1949.8,2761.1 L1954.2,2760.2 L1958.6,2759.2 L1963.0,2758.1 L1967.3,2757.0 L1971.7,2755.8 L1976.1,2754.5 L1980.5,2753.1 L1984.9,2751.6 L1989.2,2750.1 L1993.6,2748.5 L1998.0,2746.8" fill="none" stroke="#3a1a70" stroke-width="5" stroke-linejoin="round"/>
<path d="M1384.8,2836.7 L1389.2,2836.7 L1393.6,2836.6 L1397.9,2836.6 L1402.3,2836.6 L1406.7,2836.5 L1411.1,2836.5 L1415.5,2836.4 L1419.8,2836.3 L1424.2,2836.3 L1428.6,2836.2 L1433.0,2836.1 L1437.4,2836.0 L1441.7,2835.9 L1446.1,2835.8 L1450.5,2835.7 L1454.9,2835.6 L1459.3,2835.4 L1463.6,2835.3 L1468.0,2835.1 L1472.4,2834.9 L1476.8,2834.7 L1481.2,2834.5 L1485.5,2834.2 L1489.9,2834.0 L1494.3,2833.7 L1498.7,2833.3 L1503.1,2833.0 L1507.4,2832.6 L1511.8,2832.1 L1516.2,2831.6 L1520.6,2831.1 L1525.0,2830.6 L1529.3,2829.9 L1533.7,2829.3 L1538.1,2828.6 L1542.5,2827.8 L1546.9,2826.9 L1551.2,2826.0 L1555.6,2825.1 L1560.0,2824.0 L1564.4,2822.9 L1568.8,2821.7 L1573.1,2820.4 L1577.5,2819.1 L1581.9,2817.7 L1586.3,2816.2 L1590.7,2814.7 L1595.0,2813.0 L1599.4,2811.4 L1603.8,2809.6 L1608.2,2807.8 L1612.6,2806.0 L1616.9,2804.1 L1621.3,2802.2 L1625.7,2800.3 L1630.1,2798.4 L1634.5,2796.5 L1638.8,2794.5 L1643.2,2792.6 L1647.6,2790.8 L1652.0,2788.9 L1656.4,2787.1 L1660.7,2785.4 L1665.1,2783.7 L1669.5,2782.1 L1673.9,2780.5 L1678.3,2779.1 L1682.6,2777.7 L1687.0,2776.3 L1691.4,2775.1 L1695.8,2773.9 L1700.2,2772.8 L1704.5,2771.7 L1708.9,2770.7 L1713.3,2769.8 L1717.7,2769.0 L1722.1,2768.2 L1726.4,2767.5 L1730.8,2766.8 L1735.2,2766.2 L1739.6,2765.6 L1744.0,2765.1 L1748.3,2764.7 L1752.7,2764.2 L1757.1,2763.8 L1761.5,2763.5 L1765.9,2763.1 L1770.2,2762.8 L1774.6,2762.5 L1779.0,2762.3 L1783.4,2762.1 L1787.8,2761.8 L1792.1,2761.7 L1796.5,2761.5 L1800.9,2761.3 L1805.3,2761.2 L1809.7,2761.0 L1814.0,2760.9 L1818.4,2760.8 L1822.8,2760.7 L1827.2,2760.6 L1831.6,2760.6 L1835.9,2760.5 L1840.3,2760.4 L1844.7,2760.4 L1849.1,2760.3 L1853.5,2760.3 L1857.8,2760.2 L1862.2,2760.2 L1866.6,2760.1 L1871.0,2760.1 L1875.4,2760.1 L1879.7,2760.0 L1884.1,2760.0 L1888.5,2760.0 L1892.9,2760.0 L1897.3,2760.0 L1901.6,2759.9 L1906.0,2759.9 L1910.4,2759.7 L1914.8,2759.5 L1919.2,2759.2 L1923.5,2758.8 L1927.9,2758.3 L1932.3,2757.7 L1936.7,2757.0 L1941.1,2756.3 L1945.4,2755.4 L1949.8,2754.5 L1954.2,2753.5 L1958.6,2752.4 L1963.0,2751.2 L1967.3,2749.9 L1971.7,2748.5 L1976.1,2747.0 L1980.5,2745.5 L1984.9,2743.8 L1989.2,2742.1 L1993.6,2740.3 L1998.0,2738.4" fill="none" stroke="#d4208a" stroke-width="5" stroke-linejoin="round"/>
<path d="M1384.8,2833.9 L1389.2,2833.9 L1393.6,2833.9 L1397.9,2833.8 L1402.3,2833.8 L1406.7,2833.7 L1411.1,2833.7 L1415.5,2833.6 L1419.8,2833.6 L1424.2,2833.5 L1428.6,2833.4 L1433.0,2833.4 L1437.4,2833.3 L1441.7,2833.2 L1446.1,2833.1 L1450.5,2833.0 L1454.9,2832.8 L1459.3,2832.7 L1463.6,2832.6 L1468.0,2832.4 L1472.4,2832.2 L1476.8,2832.0 L1481.2,2831.8 L1485.5,2831.5 L1489.9,2831.3 L1494.3,2831.0 L1498.7,2830.6 L1503.1,2830.3 L1507.4,2829.9 L1511.8,2829.5 L1516.2,2829.0 L1520.6,2828.5 L1525.0,2828.0 L1529.3,2827.4 L1533.7,2826.7 L1538.1,2826.0 L1542.5,2825.2 L1546.9,2824.4 L1551.2,2823.5 L1555.6,2822.5 L1560.0,2821.5 L1564.4,2820.4 L1568.8,2819.2 L1573.1,2817.9 L1577.5,2816.6 L1581.9,2815.2 L1586.3,2813.7 L1590.7,2812.1 L1595.0,2810.4 L1599.4,2808.7 L1603.8,2806.9 L1608.2,2805.1 L1612.6,2803.2 L1616.9,2801.2 L1621.3,2799.2 L1625.7,2797.2 L1630.1,2795.1 L1634.5,2793.1 L1638.8,2791.0 L1643.2,2789.0 L1647.6,2787.0 L1652.0,2785.0 L1656.4,2783.0 L1660.7,2781.1 L1665.1,2779.3 L1669.5,2777.5 L1673.9,2775.7 L1678.3,2774.1 L1682.6,2772.5 L1687.0,2771.0 L1691.4,2769.6 L1695.8,2768.2 L1700.2,2767.0 L1704.5,2765.8 L1708.9,2764.7 L1713.3,2763.6 L1717.7,2762.7 L1722.1,2761.8 L1726.4,2760.9 L1730.8,2760.2 L1735.2,2759.5 L1739.6,2758.8 L1744.0,2758.2 L1748.3,2757.7 L1752.7,2757.2 L1757.1,2756.7 L1761.5,2756.3 L1765.9,2755.9 L1770.2,2755.5 L1774.6,2755.2 L1779.0,2754.9 L1783.4,2754.6 L1787.8,2754.4 L1792.1,2754.2 L1796.5,2754.0 L1800.9,2753.8 L1805.3,2753.6 L1809.7,2753.5 L1814.0,2753.3 L1818.4,2753.2 L1822.8,2753.1 L1827.2,2753.0 L1831.6,2752.9 L1835.9,2752.8 L1840.3,2752.7 L1844.7,2752.6 L1849.1,2752.6 L1853.5,2752.5 L1857.8,2752.5 L1862.2,2752.4 L1866.6,2752.4 L1871.0,2752.3 L1875.4,2752.3 L1879.7,2752.3 L1884.1,2752.3 L1888.5,2752.2 L1892.9,2752.2 L1897.3,2752.2 L1901.6,2752.2 L1906.0,2752.1 L1910.4,2751.9 L1914.8,2751.7 L1919.2,2751.3 L1923.5,2750.9 L1927.9,2750.3 L1932.3,2749.7 L1936.7,2748.9 L1941.1,2748.1 L1945.4,2747.1 L1949.8,2746.1 L1954.2,2744.9 L1958.6,2743.7 L1963.0,2742.4 L1967.3,2740.9 L1971.7,2739.4 L1976.1,2737.8 L1980.5,2736.1 L1984.9,2734.2 L1989.2,2732.3 L1993.6,2730.3 L1998.0,2728.2" fill="none" stroke="#1d9fd8" stroke-width="5" stroke-linejoin="round"/>
<path d="M1384.8,2826.5 L1389.2,2826.5 L1393.6,2826.5 L1397.9,2826.4 L1402.3,2826.4 L1406.7,2826.4 L1411.1,2826.3 L1415.5,2826.3 L1419.8,2826.2 L1424.2,2826.2 L1428.6,2826.1 L1433.0,2826.0 L1437.4,2826.0 L1441.7,2825.9 L1446.1,2825.8 L1450.5,2825.7 L1454.9,2825.6 L1459.3,2825.5 L1463.6,2825.3 L1468.0,2825.2 L1472.4,2825.0 L1476.8,2824.8 L1481.2,2824.6 L1485.5,2824.4 L1489.9,2824.2 L1494.3,2823.9 L1498.7,2823.6 L1503.1,2823.3 L1507.4,2823.0 L1511.8,2822.6 L1516.2,2822.2 L1520.6,2821.7 L1525.0,2821.2 L1529.3,2820.7 L1533.7,2820.1 L1538.1,2819.5 L1542.5,2818.8 L1546.9,2818.1 L1551.2,2817.3 L1555.6,2816.4 L1560.0,2815.5 L1564.4,2814.5 L1568.8,2813.4 L1573.1,2812.3 L1577.5,2811.0 L1581.9,2809.8 L1586.3,2808.4 L1590.7,2806.9 L1595.0,2805.4 L1599.4,2803.8 L1603.8,2802.2 L1608.2,2800.5 L1612.6,2798.7 L1616.9,2796.9 L1621.3,2795.0 L1625.7,2793.1 L1630.1,2791.2 L1634.5,2789.3 L1638.8,2787.3 L1643.2,2785.3 L1647.6,2783.4 L1652.0,2781.5 L1656.4,2779.6 L1660.7,2777.8 L1665.1,2776.0 L1669.5,2774.2 L1673.9,2772.5 L1678.3,2770.9 L1682.6,2769.3 L1687.0,2767.8 L1691.4,2766.4 L1695.8,2765.1 L1700.2,2763.8 L1704.5,2762.6 L1708.9,2761.5 L1713.3,2760.5 L1717.7,2759.5 L1722.1,2758.6 L1726.4,2757.8 L1730.8,2757.0 L1735.2,2756.3 L1739.6,2755.6 L1744.0,2755.0 L1748.3,2754.4 L1752.7,2753.9 L1757.1,2753.5 L1761.5,2753.0 L1765.9,2752.6 L1770.2,2752.3 L1774.6,2751.9 L1779.0,2751.6 L1783.4,2751.4 L1787.8,2751.1 L1792.1,2750.9 L1796.5,2750.7 L1800.9,2750.5 L1805.3,2750.3 L1809.7,2750.1 L1814.0,2750.0 L1818.4,2749.9 L1822.8,2749.8 L1827.2,2749.7 L1831.6,2749.6 L1835.9,2749.5 L1840.3,2749.4 L1844.7,2749.3 L1849.1,2749.3 L1853.5,2749.2 L1857.8,2749.1 L1862.2,2749.1 L1866.6,2749.1 L1871.0,2749.0 L1875.4,2749.0 L1879.7,2748.9 L1884.1,2748.9 L1888.5,2748.9 L1892.9,2748.9 L1897.3,2748.8 L1901.6,2748.8 L1906.0,2748.7 L1910.4,2748.5 L1914.8,2748.2 L1919.2,2747.8 L1923.5,2747.3 L1927.9,2746.6 L1932.3,2745.8 L1936.7,2744.9 L1941.1,2743.9 L1945.4,2742.7 L1949.8,2741.5 L1954.2,2740.1 L1958.6,2738.6 L1963.0,2737.0 L1967.3,2735.3 L1971.7,2733.4 L1976.1,2731.4 L1980.5,2729.3 L1984.9,2727.1 L1989.2,2724.8 L1993.6,2722.4 L1998.0,2719.8" fill="none" stroke="#c8c8c8" stroke-width="5" stroke-linejoin="round"/>
<path d="M1384.8,2837.0 L1389.2,2836.5 L1393.6,2836.0 L1397.9,2835.6 L1402.3,2835.1 L1406.7,2834.6 L1411.1,2834.2 L1415.5,2833.7 L1419.8,2833.2 L1424.2,2832.7 L1428.6,2832.3 L1433.0,2831.8 L1437.4,2831.3 L1441.7,2830.8 L1446.1,2830.3 L1450.5,2829.8 L1454.9,2829.3 L1459.3,2828.8 L1463.6,2828.2 L1468.0,2827.7 L1472.4,2827.2 L1476.8,2826.6 L1481.2,2826.0 L1485.5,2825.4 L1489.9,2824.8 L1494.3,2824.1 L1498.7,2823.5 L1503.1,2822.8 L1507.4,2822.0 L1511.8,2821.3 L1516.2,2820.5 L1520.6,2819.6 L1525.0,2818.8 L1529.3,2817.8 L1533.7,2816.8 L1538.1,2815.8 L1542.5,2814.7 L1546.9,2813.6 L1551.2,2812.3 L1555.6,2811.0 L1560.0,2809.7 L1564.4,2808.3 L1568.8,2806.8 L1573.1,2805.2 L1577.5,2803.6 L1581.9,2801.9 L1586.3,2800.1 L1590.7,2798.2 L1595.0,2796.3 L1599.4,2794.3 L1603.8,2792.2 L1608.2,2790.1 L1612.6,2787.9 L1616.9,2785.6 L1621.3,2783.4 L1625.7,2781.0 L1630.1,2778.7 L1634.5,2776.3 L1638.8,2773.8 L1643.2,2771.4 L1647.6,2768.9 L1652.0,2766.5 L1656.4,2764.1 L1660.7,2761.7 L1665.1,2759.3 L1669.5,2756.9 L1673.9,2754.6 L1678.3,2752.3 L1682.6,2750.1 L1687.0,2748.0 L1691.4,2745.9 L1695.8,2743.9 L1700.2,2742.0 L1704.5,2740.2 L1708.9,2738.4 L1713.3,2736.8 L1717.7,2735.2 L1722.1,2733.8 L1726.4,2732.4 L1730.8,2731.1 L1735.2,2729.9 L1739.6,2728.9 L1744.0,2727.9 L1748.3,2727.0 L1752.7,2726.1 L1757.1,2725.4 L1761.5,2724.7 L1765.9,2724.1 L1770.2,2723.6 L1774.6,2723.1 L1779.0,2722.6 L1783.4,2722.7 L1787.8,2722.8 L1792.1,2722.9 L1796.5,2723.1 L1800.9,2723.3 L1805.3,2723.6 L1809.7,2723.8 L1814.0,2724.0 L1818.4,2724.3 L1822.8,2724.6 L1827.2,2724.8 L1831.6,2725.1 L1835.9,2725.4 L1840.3,2725.6 L1844.7,2725.9 L1849.1,2726.2 L1853.5,2726.4 L1857.8,2726.7 L1862.2,2726.9 L1866.6,2727.2 L1871.0,2727.4 L1875.4,2727.6 L1879.7,2727.8 L1884.1,2728.1 L1888.5,2728.3 L1892.9,2728.5 L1897.3,2728.7 L1901.6,2728.8 L1906.0,2729.0 L1910.4,2729.1 L1914.8,2729.0 L1919.2,2729.0 L1923.5,2728.8 L1927.9,2728.6 L1932.3,2728.2 L1936.7,2727.9 L1941.1,2727.4 L1945.4,2726.8 L1949.8,2726.2 L1954.2,2725.5 L1958.6,2724.8 L1963.0,2723.9 L1967.3,2723.0 L1971.7,2722.0 L1976.1,2720.9 L1980.5,2719.8 L1984.9,2718.6 L1989.2,2717.3 L1993.6,2715.9 L1998.0,2714.5" fill="none" stroke="#8c5444" stroke-width="5" stroke-linejoin="round"/>
<path d="M1384.8,2836.0 L1389.2,2835.6 L1393.6,2835.1 L1397.9,2834.6 L1402.3,2834.2 L1406.7,2833.7 L1411.1,2833.2 L1415.5,2832.7 L1419.8,2832.3 L1424.2,2831.8 L1428.6,2831.3 L1433.0,2830.8 L1437.4,2830.3 L1441.7,2829.8 L1446.1,2829.3 L1450.5,2828.8 L1454.9,2828.3 L1459.3,2827.8 L1463.6,2827.2 L1468.0,2826.7 L1472.4,2826.1 L1476.8,2825.5 L1481.2,2824.9 L1485.5,2824.3 L1489.9,2823.6 L1494.3,2822.9 L1498.7,2822.2 L1503.1,2821.5 L1507.4,2820.7 L1511.8,2819.8 L1516.2,2819.0 L1520.6,2818.0 L1525.0,2817.1 L1529.3,2816.0 L1533.7,2814.9 L1538.1,2813.8 L1542.5,2812.6 L1546.9,2811.3 L1551.2,2809.9 L1555.6,2808.4 L1560.0,2806.9 L1564.4,2805.3 L1568.8,2803.6 L1573.1,2801.8 L1577.5,2799.9 L1581.9,2798.0 L1586.3,2796.0 L1590.7,2793.8 L1595.0,2791.6 L1599.4,2789.3 L1603.8,2787.0 L1608.2,2784.6 L1612.6,2782.1 L1616.9,2779.5 L1621.3,2776.9 L1625.7,2774.2 L1630.1,2771.5 L1634.5,2768.8 L1638.8,2766.0 L1643.2,2763.3 L1647.6,2760.5 L1652.0,2757.7 L1656.4,2755.0 L1660.7,2752.3 L1665.1,2749.6 L1669.5,2746.9 L1673.9,2744.3 L1678.3,2741.8 L1682.6,2739.3 L1687.0,2737.0 L1691.4,2734.7 L1695.8,2732.4 L1700.2,2730.3 L1704.5,2728.3 L1708.9,2726.4 L1713.3,2724.6 L1717.7,2722.9 L1722.1,2721.3 L1726.4,2719.9 L1730.8,2718.5 L1735.2,2717.3 L1739.6,2716.1 L1744.0,2715.1 L1748.3,2714.1 L1752.7,2713.3 L1757.1,2712.5 L1761.5,2711.9 L1765.9,2711.3 L1770.2,2710.7 L1774.6,2710.2 L1779.0,2710.0 L1783.4,2710.2 L1787.8,2710.4 L1792.1,2710.7 L1796.5,2711.1 L1800.9,2711.5 L1805.3,2711.9 L1809.7,2712.4 L1814.0,2712.8 L1818.4,2713.3 L1822.8,2713.8 L1827.2,2714.3 L1831.6,2714.8 L1835.9,2715.3 L1840.3,2715.8 L1844.7,2716.3 L1849.1,2716.8 L1853.5,2717.2 L1857.8,2717.7 L1862.2,2718.2 L1866.6,2718.6 L1871.0,2719.0 L1875.4,2719.5 L1879.7,2719.9 L1884.1,2720.3 L1888.5,2720.7 L1892.9,2721.0 L1897.3,2721.4 L1901.6,2721.7 L1906.0,2722.0 L1910.4,2722.2 L1914.8,2722.3 L1919.2,2722.3 L1923.5,2722.2 L1927.9,2722.0 L1932.3,2721.7 L1936.7,2721.3 L1941.1,2720.8 L1945.4,2720.2 L1949.8,2719.5 L1954.2,2718.7 L1958.6,2717.9 L1963.0,2716.9 L1967.3,2715.9 L1971.7,2714.7 L1976.1,2713.5 L1980.5,2712.1 L1984.9,2710.7 L1989.2,2709.2 L1993.6,2707.6 L1998.0,2705.9" fill="none" stroke="#3c6e52" stroke-width="5" stroke-linejoin="round"/>
<path d="M1384.8,2835.1 L1389.2,2834.6 L1393.6,2834.2 L1397.9,2833.7 L1402.3,2833.2 L1406.7,2832.8 L1411.1,2832.3 L1415.5,2831.8 L1419.8,2831.4 L1424.2,2830.9 L1428.6,2830.4 L1433.0,2829.9 L1437.4,2829.4 L1441.7,2828.9 L1446.1,2828.4 L1450.5,2827.9 L1454.9,2827.4 L1459.3,2826.8 L1463.6,2826.3 L1468.0,2825.7 L1472.4,2825.1 L1476.8,2824.5 L1481.2,2823.9 L1485.5,2823.2 L1489.9,2822.5 L1494.3,2821.8 L1498.7,2821.0 L1503.1,2820.1 L1507.4,2819.3 L1511.8,2818.3 L1516.2,2817.3 L1520.6,2816.2 L1525.0,2815.0 L1529.3,2813.7 L1533.7,2812.4 L1538.1,2810.9 L1542.5,2809.3 L1546.9,2807.6 L1551.2,2805.8 L1555.6,2803.9 L1560.0,2801.8 L1564.4,2799.6 L1568.8,2797.3 L1573.1,2794.8 L1577.5,2792.2 L1581.9,2789.4 L1586.3,2786.5 L1590.7,2783.5 L1595.0,2780.4 L1599.4,2777.1 L1603.8,2773.7 L1608.2,2770.2 L1612.6,2766.6 L1616.9,2762.9 L1621.3,2759.2 L1625.7,2755.4 L1630.1,2751.5 L1634.5,2747.6 L1638.8,2743.7 L1643.2,2739.8 L1647.6,2736.0 L1652.0,2732.1 L1656.4,2728.4 L1660.7,2724.7 L1665.1,2721.1 L1669.5,2717.6 L1673.9,2714.2 L1678.3,2710.9 L1682.6,2707.8 L1687.0,2704.8 L1691.4,2702.0 L1695.8,2699.4 L1700.2,2697.0 L1704.5,2694.7 L1708.9,2692.6 L1713.3,2690.7 L1717.7,2688.9 L1722.1,2687.4 L1726.4,2686.0 L1730.8,2684.7 L1735.2,2683.7 L1739.6,2682.7 L1744.0,2681.9 L1748.3,2681.3 L1752.7,2680.7 L1757.1,2680.2 L1761.5,2680.1 L1765.9,2680.4 L1770.2,2680.7 L1774.6,2681.2 L1779.0,2681.7 L1783.4,2682.3 L1787.8,2682.9 L1792.1,2683.5 L1796.5,2684.2 L1800.9,2684.9 L1805.3,2685.6 L1809.7,2686.3 L1814.0,2687.0 L1818.4,2687.7 L1822.8,2688.4 L1827.2,2689.1 L1831.6,2689.8 L1835.9,2690.5 L1840.3,2691.2 L1844.7,2691.9 L1849.1,2692.5 L1853.5,2693.2 L1857.8,2693.8 L1862.2,2694.4 L1866.6,2695.0 L1871.0,2695.6 L1875.4,2696.2 L1879.7,2696.7 L1884.1,2697.2 L1888.5,2697.7 L1892.9,2698.2 L1897.3,2698.7 L1901.6,2699.2 L1906.0,2699.5 L1910.4,2699.8 L1914.8,2699.9 L1919.2,2700.0 L1923.5,2699.9 L1927.9,2699.7 L1932.3,2699.3 L1936.7,2698.9 L1941.1,2698.4 L1945.4,2697.7 L1949.8,2696.9 L1954.2,2696.0 L1958.6,2695.0 L1963.0,2693.9 L1967.3,2692.6 L1971.7,2691.3 L1976.1,2689.8 L1980.5,2688.2 L1984.9,2686.6 L1989.2,2684.8 L1993.6,2682.9 L1998.0,2680.8" fill="none" stroke="#a0a066" stroke-width="5" stroke-linejoin="round"/>
<path d="M1384.8,2833.0 L1389.2,2832.5 L1393.6,2832.0 L1397.9,2831.4 L1402.3,2830.9 L1406.7,2830.3 L1411.1,2829.7 L1415.5,2829.1 L1419.8,2828.5 L1424.2,2827.8 L1428.6,2827.2 L1433.0,2826.5 L1437.4,2825.7 L1441.7,2825.0 L1446.1,2824.1 L1450.5,2823.3 L1454.9,2822.4 L1459.3,2821.4 L1463.6,2820.4 L1468.0,2819.3 L1472.4,2818.2 L1476.8,2817.0 L1481.2,2815.7 L1485.5,2814.3 L1489.9,2812.8 L1494.3,2811.3 L1498.7,2809.6 L1503.1,2807.9 L1507.4,2806.0 L1511.8,2804.0 L1516.2,2802.0 L1520.6,2799.8 L1525.0,2797.5 L1529.3,2795.1 L1533.7,2792.5 L1538.1,2789.9 L1542.5,2787.1 L1546.9,2784.3 L1551.2,2781.3 L1555.6,2778.2 L1560.0,2775.0 L1564.4,2771.7 L1568.8,2768.3 L1573.1,2764.8 L1577.5,2761.3 L1581.9,2757.6 L1586.3,2754.0 L1590.7,2750.2 L1595.0,2746.4 L1599.4,2742.6 L1603.8,2738.8 L1608.2,2735.0 L1612.6,2731.2 L1616.9,2727.3 L1621.3,2723.6 L1625.7,2719.8 L1630.1,2716.1 L1634.5,2712.5 L1638.8,2709.0 L1643.2,2705.5 L1647.6,2702.1 L1652.0,2698.9 L1656.4,2695.7 L1660.7,2692.7 L1665.1,2689.8 L1669.5,2687.1 L1673.9,2684.4 L1678.3,2682.0 L1682.6,2679.6 L1687.0,2677.5 L1691.4,2675.4 L1695.8,2673.6 L1700.2,2671.8 L1704.5,2670.3 L1708.9,2668.8 L1713.3,2667.5 L1717.7,2666.4 L1722.1,2665.3 L1726.4,2664.4 L1730.8,2663.6 L1735.2,2662.9 L1739.6,2662.3 L1744.0,2661.8 L1748.3,2661.3 L1752.7,2661.4 L1757.1,2661.9 L1761.5,2662.5 L1765.9,2663.2 L1770.2,2664.0 L1774.6,2664.8 L1779.0,2665.8 L1783.4,2666.8 L1787.8,2667.8 L1792.1,2668.8 L1796.5,2669.9 L1800.9,2671.0 L1805.3,2672.1 L1809.7,2673.2 L1814.0,2674.3 L1818.4,2675.4 L1822.8,2676.5 L1827.2,2677.6 L1831.6,2678.7 L1835.9,2679.7 L1840.3,2680.8 L1844.7,2681.8 L1849.1,2682.8 L1853.5,2683.8 L1857.8,2684.8 L1862.2,2685.7 L1866.6,2686.7 L1871.0,2687.6 L1875.4,2688.4 L1879.7,2689.3 L1884.1,2690.1 L1888.5,2690.9 L1892.9,2691.6 L1897.3,2692.3 L1901.6,2693.1 L1906.0,2693.7 L1910.4,2694.1 L1914.8,2694.5 L1919.2,2694.7 L1923.5,2694.7 L1927.9,2694.6 L1932.3,2694.4 L1936.7,2694.0 L1941.1,2693.5 L1945.4,2692.9 L1949.8,2692.1 L1954.2,2691.2 L1958.6,2690.1 L1963.0,2688.9 L1967.3,2687.6 L1971.7,2686.2 L1976.1,2684.6 L1980.5,2682.9 L1984.9,2681.0 L1989.2,2679.0 L1993.6,2676.9 L1998.0,2674.7" fill="none" stroke="#5a4878" stroke-width="5" stroke-linejoin="round"/>
<path d="M1384.8,2830.5 L1389.2,2829.9 L1393.6,2829.2 L1397.9,2828.6 L1402.3,2827.9 L1406.7,2827.1 L1411.1,2826.3 L1415.5,2825.5 L1419.8,2824.6 L1424.2,2823.7 L1428.6,2822.7 L1433.0,2821.7 L1437.4,2820.6 L1441.7,2819.4 L1446.1,2818.2 L1450.5,2816.8 L1454.9,2815.4 L1459.3,2813.9 L1463.6,2812.3 L1468.0,2810.5 L1472.4,2808.7 L1476.8,2806.8 L1481.2,2804.7 L1485.5,2802.5 L1489.9,2800.2 L1494.3,2797.8 L1498.7,2795.2 L1503.1,2792.5 L1507.4,2789.7 L1511.8,2786.7 L1516.2,2783.6 L1520.6,2780.4 L1525.0,2777.0 L1529.3,2773.6 L1533.7,2770.0 L1538.1,2766.3 L1542.5,2762.5 L1546.9,2758.6 L1551.2,2754.6 L1555.6,2750.6 L1560.0,2746.4 L1564.4,2742.3 L1568.8,2738.0 L1573.1,2733.8 L1577.5,2729.5 L1581.9,2725.2 L1586.3,2720.9 L1590.7,2716.7 L1595.0,2712.5 L1599.4,2708.3 L1603.8,2704.2 L1608.2,2700.2 L1612.6,2696.2 L1616.9,2692.4 L1621.3,2688.7 L1625.7,2685.1 L1630.1,2681.6 L1634.5,2678.3 L1638.8,2675.1 L1643.2,2672.0 L1647.6,2669.2 L1652.0,2666.5 L1656.4,2663.9 L1660.7,2661.5 L1665.1,2659.3 L1669.5,2657.3 L1673.9,2655.5 L1678.3,2653.8 L1682.6,2652.2 L1687.0,2650.9 L1691.4,2649.6 L1695.8,2648.6 L1700.2,2647.6 L1704.5,2646.8 L1708.9,2646.1 L1713.3,2645.5 L1717.7,2644.9 L1722.1,2644.5 L1726.4,2644.8 L1730.8,2645.4 L1735.2,2646.2 L1739.6,2647.1 L1744.0,2648.1 L1748.3,2649.2 L1752.7,2650.3 L1757.1,2651.6 L1761.5,2652.8 L1765.9,2654.2 L1770.2,2655.5 L1774.6,2656.9 L1779.0,2658.3 L1783.4,2659.7 L1787.8,2661.1 L1792.1,2662.5 L1796.5,2663.9 L1800.9,2665.3 L1805.3,2666.7 L1809.7,2668.0 L1814.0,2669.4 L1818.4,2670.7 L1822.8,2672.1 L1827.2,2673.3 L1831.6,2674.6 L1835.9,2675.9 L1840.3,2677.1 L1844.7,2678.3 L1849.1,2679.4 L1853.5,2680.5 L1857.8,2681.6 L1862.2,2682.7 L1866.6,2683.7 L1871.0,2684.7 L1875.4,2685.7 L1879.7,2686.6 L1884.1,2687.5 L1888.5,2688.3 L1892.9,2689.2 L1897.3,2690.0 L1901.6,2690.7 L1906.0,2691.4 L1910.4,2692.0 L1914.8,2692.3 L1919.2,2692.6 L1923.5,2692.7 L1927.9,2692.7 L1932.3,2692.5 L1936.7,2692.1 L1941.1,2691.7 L1945.4,2691.1 L1949.8,2690.3 L1954.2,2689.4 L1958.6,2688.4 L1963.0,2687.3 L1967.3,2686.0 L1971.7,2684.6 L1976.1,2683.0 L1980.5,2681.3 L1984.9,2679.5 L1989.2,2677.5 L1993.6,2675.4 L1998.0,2673.2" fill="none" stroke="#9a6a88" stroke-width="5" stroke-linejoin="round"/>
<path d="M1384.8,2829.0 L1389.2,2828.4 L1393.6,2827.8 L1397.9,2827.2 L1402.3,2826.6 L1406.7,2825.9 L1411.1,2825.2 L1415.5,2824.4 L1419.8,2823.6 L1424.2,2822.8 L1428.6,2821.9 L1433.0,2820.9 L1437.4,2819.9 L1441.7,2818.8 L1446.1,2817.7 L1450.5,2816.4 L1454.9,2815.1 L1459.3,2813.6 L1463.6,2812.1 L1468.0,2810.4 L1472.4,2808.6 L1476.8,2806.7 L1481.2,2804.7 L1485.5,2802.5 L1489.9,2800.2 L1494.3,2797.8 L1498.7,2795.2 L1503.1,2792.4 L1507.4,2789.5 L1511.8,2786.4 L1516.2,2783.2 L1520.6,2779.8 L1525.0,2776.3 L1529.3,2772.6 L1533.7,2768.8 L1538.1,2764.8 L1542.5,2760.7 L1546.9,2756.5 L1551.2,2752.2 L1555.6,2747.8 L1560.0,2743.3 L1564.4,2738.8 L1568.8,2734.2 L1573.1,2729.5 L1577.5,2724.8 L1581.9,2720.2 L1586.3,2715.5 L1590.7,2710.9 L1595.0,2706.3 L1599.4,2701.8 L1603.8,2697.3 L1608.2,2693.0 L1612.6,2688.7 L1616.9,2684.6 L1621.3,2680.7 L1625.7,2676.9 L1630.1,2673.2 L1634.5,2669.7 L1638.8,2666.4 L1643.2,2663.3 L1647.6,2660.4 L1652.0,2657.7 L1656.4,2655.2 L1660.7,2652.9 L1665.1,2650.7 L1669.5,2648.8 L1673.9,2647.1 L1678.3,2645.6 L1682.6,2644.2 L1687.0,2643.1 L1691.4,2642.0 L1695.8,2641.2 L1700.2,2640.4 L1704.5,2639.8 L1708.9,2639.3 L1713.3,2638.9 L1717.7,2639.4 L1722.1,2640.1 L1726.4,2640.9 L1730.8,2642.0 L1735.2,2643.1 L1739.6,2644.3 L1744.0,2645.6 L1748.3,2646.9 L1752.7,2648.3 L1757.1,2649.8 L1761.5,2651.2 L1765.9,2652.7 L1770.2,2654.3 L1774.6,2655.8 L1779.0,2657.3 L1783.4,2658.9 L1787.8,2660.4 L1792.1,2661.9 L1796.5,2663.4 L1800.9,2664.9 L1805.3,2666.4 L1809.7,2667.9 L1814.0,2669.3 L1818.4,2670.7 L1822.8,2672.1 L1827.2,2673.4 L1831.6,2674.8 L1835.9,2676.0 L1840.3,2677.3 L1844.7,2678.5 L1849.1,2679.7 L1853.5,2680.9 L1857.8,2682.0 L1862.2,2683.0 L1866.6,2684.1 L1871.0,2685.1 L1875.4,2686.1 L1879.7,2687.0 L1884.1,2687.9 L1888.5,2688.8 L1892.9,2689.6 L1897.3,2690.4 L1901.6,2691.2 L1906.0,2691.8 L1910.4,2692.3 L1914.8,2692.7 L1919.2,2692.9 L1923.5,2692.9 L1927.9,2692.8 L1932.3,2692.5 L1936.7,2692.0 L1941.1,2691.4 L1945.4,2690.6 L1949.8,2689.7 L1954.2,2688.7 L1958.6,2687.4 L1963.0,2686.1 L1967.3,2684.5 L1971.7,2682.9 L1976.1,2681.0 L1980.5,2679.1 L1984.9,2676.9 L1989.2,2674.7 L1993.6,2672.3 L1998.0,2669.7" fill="none" stroke="#587888" stroke-width="5" stroke-linejoin="round"/>
<path d="M1384.8,2827.2 L1389.2,2826.7 L1393.6,2826.1 L1397.9,2825.5 L1402.3,2824.9 L1406.7,2824.2 L1411.1,2823.5 L1415.5,2822.8 L1419.8,2822.0 L1424.2,2821.2 L1428.6,2820.3 L1433.0,2819.3 L1437.4,2818.3 L1441.7,2817.2 L1446.1,2816.0 L1450.5,2814.8 L1454.9,2813.4 L1459.3,2811.9 L1463.6,2810.3 L1468.0,2808.6 L1472.4,2806.7 L1476.8,2804.7 L1481.2,2802.5 L1485.5,2800.2 L1489.9,2797.7 L1494.3,2795.0 L1498.7,2792.2 L1503.1,2789.2 L1507.4,2786.0 L1511.8,2782.6 L1516.2,2779.0 L1520.6,2775.3 L1525.0,2771.4 L1529.3,2767.3 L1533.7,2763.0 L1538.1,2758.6 L1542.5,2754.0 L1546.9,2749.3 L1551.2,2744.5 L1555.6,2739.6 L1560.0,2734.6 L1564.4,2729.5 L1568.8,2724.4 L1573.1,2719.2 L1577.5,2714.0 L1581.9,2708.9 L1586.3,2703.7 L1590.7,2698.6 L1595.0,2693.6 L1599.4,2688.7 L1603.8,2683.9 L1608.2,2679.2 L1612.6,2674.7 L1616.9,2670.3 L1621.3,2666.1 L1625.7,2662.2 L1630.1,2658.4 L1634.5,2654.8 L1638.8,2651.5 L1643.2,2648.4 L1647.6,2645.5 L1652.0,2642.9 L1656.4,2640.5 L1660.7,2638.4 L1665.1,2636.4 L1669.5,2634.7 L1673.9,2633.2 L1678.3,2632.0 L1682.6,2630.9 L1687.0,2629.9 L1691.4,2629.2 L1695.8,2628.5 L1700.2,2628.0 L1704.5,2627.8 L1708.9,2628.4 L1713.3,2629.3 L1717.7,2630.3 L1722.1,2631.5 L1726.4,2632.8 L1730.8,2634.2 L1735.2,2635.7 L1739.6,2637.2 L1744.0,2638.8 L1748.3,2640.5 L1752.7,2642.2 L1757.1,2643.9 L1761.5,2645.6 L1765.9,2647.4 L1770.2,2649.1 L1774.6,2650.9 L1779.0,2652.6 L1783.4,2654.4 L1787.8,2656.1 L1792.1,2657.8 L1796.5,2659.5 L1800.9,2661.1 L1805.3,2662.8 L1809.7,2664.4 L1814.0,2665.9 L1818.4,2667.5 L1822.8,2669.0 L1827.2,2670.4 L1831.6,2671.8 L1835.9,2673.2 L1840.3,2674.6 L1844.7,2675.9 L1849.1,2677.1 L1853.5,2678.3 L1857.8,2679.5 L1862.2,2680.7 L1866.6,2681.8 L1871.0,2682.8 L1875.4,2683.8 L1879.7,2684.8 L1884.1,2685.8 L1888.5,2686.7 L1892.9,2687.5 L1897.3,2688.4 L1901.6,2689.2 L1906.0,2689.8 L1910.4,2690.4 L1914.8,2690.7 L1919.2,2690.8 L1923.5,2690.8 L1927.9,2690.6 L1932.3,2690.2 L1936.7,2689.7 L1941.1,2688.9 L1945.4,2688.0 L1949.8,2687.0 L1954.2,2685.7 L1958.6,2684.3 L1963.0,2682.7 L1967.3,2681.0 L1971.7,2679.1 L1976.1,2677.0 L1980.5,2674.8 L1984.9,2672.4 L1989.2,2669.8 L1993.6,2667.1 L1998.0,2664.2" fill="none" stroke="#a9a9a9" stroke-width="5" stroke-linejoin="round"/>
<path d="M1384.8,2824.9 L1389.2,2824.4 L1393.6,2823.9 L1397.9,2823.5 L1402.3,2823.0 L1406.7,2822.5 L1411.1,2822.0 L1415.5,2821.5 L1419.8,2821.0 L1424.2,2820.4 L1428.6,2819.9 L1433.0,2819.3 L1437.4,2818.8 L1441.7,2818.1 L1446.1,2817.5 L1450.5,2816.8 L1454.9,2816.0 L1459.3,2815.2 L1463.6,2814.3 L1468.0,2813.3 L1472.4,2812.2 L1476.8,2811.0 L1481.2,2809.7 L1485.5,2808.3 L1489.9,2806.6 L1494.3,2804.8 L1498.7,2802.8 L1503.1,2800.6 L1507.4,2798.1 L1511.8,2795.4 L1516.2,2792.5 L1520.6,2789.3 L1525.0,2785.7 L1529.3,2781.9 L1533.7,2777.8 L1538.1,2773.4 L1542.5,2768.7 L1546.9,2763.7 L1551.2,2758.4 L1555.6,2752.9 L1560.0,2747.1 L1564.4,2741.0 L1568.8,2734.8 L1573.1,2728.4 L1577.5,2721.9 L1581.9,2715.3 L1586.3,2708.6 L1590.7,2701.9 L1595.0,2695.3 L1599.4,2688.7 L1603.8,2682.2 L1608.2,2675.9 L1612.6,2669.8 L1616.9,2664.0 L1621.3,2658.4 L1625.7,2653.1 L1630.1,2648.1 L1634.5,2643.5 L1638.8,2639.3 L1643.2,2635.4 L1647.6,2632.0 L1652.0,2628.9 L1656.4,2626.2 L1660.7,2623.9 L1665.1,2622.0 L1669.5,2620.3 L1673.9,2619.0 L1678.3,2618.0 L1682.6,2617.3 L1687.0,2616.7 L1691.4,2616.5 L1695.8,2617.2 L1700.2,2618.1 L1704.5,2619.3 L1708.9,2620.6 L1713.3,2622.1 L1717.7,2623.7 L1722.1,2625.4 L1726.4,2627.2 L1730.8,2629.0 L1735.2,2630.9 L1739.6,2632.8 L1744.0,2634.8 L1748.3,2636.7 L1752.7,2638.7 L1757.1,2640.7 L1761.5,2642.7 L1765.9,2644.7 L1770.2,2646.7 L1774.6,2648.6 L1779.0,2650.6 L1783.4,2652.5 L1787.8,2654.4 L1792.1,2656.2 L1796.5,2658.1 L1800.9,2659.9 L1805.3,2661.6 L1809.7,2663.3 L1814.0,2665.0 L1818.4,2666.6 L1822.8,2668.2 L1827.2,2669.7 L1831.6,2671.2 L1835.9,2672.6 L1840.3,2674.0 L1844.7,2675.3 L1849.1,2676.6 L1853.5,2677.9 L1857.8,2679.1 L1862.2,2680.3 L1866.6,2681.4 L1871.0,2682.4 L1875.4,2683.5 L1879.7,2684.5 L1884.1,2685.4 L1888.5,2686.3 L1892.9,2687.2 L1897.3,2688.0 L1901.6,2688.8 L1906.0,2689.4 L1910.4,2689.9 L1914.8,2690.2 L1919.2,2690.2 L1923.5,2690.0 L1927.9,2689.7 L1932.3,2689.1 L1936.7,2688.3 L1941.1,2687.4 L1945.4,2686.2 L1949.8,2684.8 L1954.2,2683.3 L1958.6,2681.5 L1963.0,2679.6 L1967.3,2677.4 L1971.7,2675.1 L1976.1,2672.5 L1980.5,2669.8 L1984.9,2666.9 L1989.2,2663.8 L1993.6,2660.5 L1998.0,2657.0" fill="none" stroke="#111111" stroke-width="5" stroke-linejoin="round"/>
<path d="M1384.8,2825.8 L1389.2,2825.4 L1393.6,2824.9 L1397.9,2824.4 L1402.3,2824.0 L1406.7,2823.5 L1411.1,2823.0 L1415.5,2822.6 L1419.8,2822.1 L1424.2,2821.6 L1428.6,2821.2 L1433.0,2820.7 L1437.4,2820.2 L1441.7,2819.7 L1446.1,2819.2 L1450.5,2818.8 L1454.9,2818.3 L1459.3,2817.7 L1463.6,2817.2 L1468.0,2816.6 L1472.4,2816.0 L1476.8,2815.4 L1481.2,2814.7 L1485.5,2813.9 L1489.9,2813.0 L1494.3,2812.0 L1498.7,2810.9 L1503.1,2809.7 L1507.4,2808.2 L1511.8,2806.5 L1516.2,2804.5 L1520.6,2802.3 L1525.0,2799.7 L1529.3,2796.8 L1533.7,2793.4 L1538.1,2789.7 L1542.5,2785.4 L1546.9,2780.7 L1551.2,2775.4 L1555.6,2769.7 L1560.0,2763.4 L1564.4,2756.6 L1568.8,2749.4 L1573.1,2741.7 L1577.5,2733.6 L1581.9,2725.2 L1586.3,2716.5 L1590.7,2707.6 L1595.0,2698.6 L1599.4,2689.5 L1603.8,2680.6 L1608.2,2671.8 L1612.6,2663.2 L1616.9,2655.0 L1621.3,2647.3 L1625.7,2640.0 L1630.1,2633.2 L1634.5,2627.1 L1638.8,2621.6 L1643.2,2616.7 L1647.6,2612.5 L1652.0,2609.0 L1656.4,2606.1 L1660.7,2603.9 L1665.1,2602.1 L1669.5,2600.9 L1673.9,2600.1 L1678.3,2599.6 L1682.6,2600.2 L1687.0,2601.3 L1691.4,2602.7 L1695.8,2604.4 L1700.2,2606.3 L1704.5,2608.3 L1708.9,2610.5 L1713.3,2612.7 L1717.7,2615.1 L1722.1,2617.5 L1726.4,2620.0 L1730.8,2622.5 L1735.2,2625.0 L1739.6,2627.6 L1744.0,2630.1 L1748.3,2632.6 L1752.7,2635.2 L1757.1,2637.7 L1761.5,2640.2 L1765.9,2642.6 L1770.2,2645.0 L1774.6,2647.4 L1779.0,2649.7 L1783.4,2652.0 L1787.8,2654.2 L1792.1,2656.4 L1796.5,2658.5 L1800.9,2660.5 L1805.3,2662.5 L1809.7,2664.4 L1814.0,2666.2 L1818.4,2668.0 L1822.8,2669.8 L1827.2,2671.4 L1831.6,2673.0 L1835.9,2674.6 L1840.3,2676.1 L1844.7,2677.5 L1849.1,2678.8 L1853.5,2680.1 L1857.8,2681.4 L1862.2,2682.6 L1866.6,2683.7 L1871.0,2684.8 L1875.4,2685.8 L1879.7,2686.8 L1884.1,2687.7 L1888.5,2688.6 L1892.9,2689.4 L1897.3,2690.2 L1901.6,2691.0 L1906.0,2691.6 L1910.4,2692.0 L1914.8,2692.2 L1919.2,2692.2 L1923.5,2692.1 L1927.9,2691.7 L1932.3,2691.1 L1936.7,2690.3 L1941.1,2689.4 L1945.4,2688.2 L1949.8,2686.9 L1954.2,2685.3 L1958.6,2683.6 L1963.0,2681.7 L1967.3,2679.6 L1971.7,2677.3 L1976.1,2674.9 L1980.5,2672.2 L1984.9,2669.4 L1989.2,2666.4 L1993.6,2663.2 L1998.0,2659.8" fill="none" stroke="#e8282a" stroke-width="5" stroke-linejoin="round"/>
<path d="M1384.8,2824.0 L1389.2,2823.5 L1393.6,2823.0 L1397.9,2822.6 L1402.3,2822.1 L1406.7,2821.6 L1411.1,2821.2 L1415.5,2820.7 L1419.8,2820.2 L1424.2,2819.8 L1428.6,2819.3 L1433.0,2818.8 L1437.4,2818.4 L1441.7,2817.9 L1446.1,2817.4 L1450.5,2817.0 L1454.9,2816.5 L1459.3,2816.0 L1463.6,2815.6 L1468.0,2815.1 L1472.4,2814.6 L1476.8,2814.1 L1481.2,2813.5 L1485.5,2813.0 L1489.9,2812.3 L1494.3,2811.6 L1498.7,2810.9 L1503.1,2809.9 L1507.4,2808.9 L1511.8,2807.6 L1516.2,2806.0 L1520.6,2804.2 L1525.0,2801.9 L1529.3,2799.1 L1533.7,2795.8 L1538.1,2791.9 L1542.5,2787.3 L1546.9,2781.8 L1551.2,2775.6 L1555.6,2768.5 L1560.0,2760.5 L1564.4,2751.6 L1568.8,2741.9 L1573.1,2731.4 L1577.5,2720.3 L1581.9,2708.7 L1586.3,2696.7 L1590.7,2684.5 L1595.0,2672.3 L1599.4,2660.3 L1603.8,2648.7 L1608.2,2637.6 L1612.6,2627.4 L1616.9,2618.0 L1621.3,2609.6 L1625.7,2602.3 L1630.1,2596.2 L1634.5,2591.2 L1638.8,2587.3 L1643.2,2584.4 L1647.6,2582.5 L1652.0,2581.4 L1656.4,2580.8 L1660.7,2581.6 L1665.1,2583.0 L1669.5,2584.9 L1673.9,2587.1 L1678.3,2589.5 L1682.6,2592.1 L1687.0,2594.9 L1691.4,2597.8 L1695.8,2600.8 L1700.2,2603.9 L1704.5,2607.1 L1708.9,2610.2 L1713.3,2613.4 L1717.7,2616.6 L1722.1,2619.8 L1726.4,2623.0 L1730.8,2626.2 L1735.2,2629.3 L1739.6,2632.3 L1744.0,2635.3 L1748.3,2638.3 L1752.7,2641.2 L1757.1,2644.0 L1761.5,2646.7 L1765.9,2649.4 L1770.2,2652.0 L1774.6,2654.5 L1779.0,2656.9 L1783.4,2659.2 L1787.8,2661.5 L1792.1,2663.6 L1796.5,2665.7 L1800.9,2667.7 L1805.3,2669.6 L1809.7,2671.4 L1814.0,2673.2 L1818.4,2674.8 L1822.8,2676.4 L1827.2,2677.9 L1831.6,2679.4 L1835.9,2680.7 L1840.3,2682.0 L1844.7,2683.2 L1849.1,2684.4 L1853.5,2685.5 L1857.8,2686.5 L1862.2,2687.5 L1866.6,2688.4 L1871.0,2689.3 L1875.4,2690.1 L1879.7,2690.9 L1884.1,2691.6 L1888.5,2692.3 L1892.9,2692.9 L1897.3,2693.5 L1901.6,2694.1 L1906.0,2694.5 L1910.4,2694.8 L1914.8,2694.8 L1919.2,2694.7 L1923.5,2694.3 L1927.9,2693.8 L1932.3,2693.1 L1936.7,2692.2 L1941.1,2691.2 L1945.4,2689.9 L1949.8,2688.5 L1954.2,2686.8 L1958.6,2685.0 L1963.0,2683.1 L1967.3,2680.9 L1971.7,2678.6 L1976.1,2676.1 L1980.5,2673.4 L1984.9,2670.6 L1989.2,2667.5 L1993.6,2664.4 L1998.0,2661.0" fill="none" stroke="#00a050" stroke-width="5" stroke-linejoin="round"/>
<path d="M1384.8,2821.2 L1389.2,2820.7 L1393.6,2820.2 L1397.9,2819.8 L1402.3,2819.3 L1406.7,2818.8 L1411.1,2818.4 L1415.5,2817.9 L1419.8,2817.4 L1424.2,2817.0 L1428.6,2816.5 L1433.0,2816.1 L1437.4,2815.6 L1441.7,2815.1 L1446.1,2814.7 L1450.5,2814.2 L1454.9,2813.7 L1459.3,2813.3 L1463.6,2812.8 L1468.0,2812.3 L1472.4,2811.8 L1476.8,2811.3 L1481.2,2810.8 L1485.5,2810.2 L1489.9,2809.6 L1494.3,2808.9 L1498.7,2808.1 L1503.1,2807.1 L1507.4,2806.0 L1511.8,2804.6 L1516.2,2803.0 L1520.6,2800.9 L1525.0,2798.4 L1529.3,2795.3 L1533.7,2791.5 L1538.1,2787.0 L1542.5,2781.7 L1546.9,2775.4 L1551.2,2768.2 L1555.6,2759.9 L1560.0,2750.6 L1564.4,2740.2 L1568.8,2729.0 L1573.1,2716.9 L1577.5,2704.2 L1581.9,2691.0 L1586.3,2677.4 L1590.7,2663.9 L1595.0,2650.4 L1599.4,2637.5 L1603.8,2625.1 L1608.2,2613.7 L1612.6,2603.2 L1616.9,2594.0 L1621.3,2586.0 L1625.7,2579.3 L1630.1,2574.0 L1634.5,2570.0 L1638.8,2567.1 L1643.2,2565.3 L1647.6,2564.4 L1652.0,2564.3 L1656.4,2565.6 L1660.7,2567.6 L1665.1,2570.0 L1669.5,2572.7 L1673.9,2575.7 L1678.3,2578.9 L1682.6,2582.2 L1687.0,2585.7 L1691.4,2589.3 L1695.8,2593.0 L1700.2,2596.7 L1704.5,2600.5 L1708.9,2604.2 L1713.3,2608.0 L1717.7,2611.7 L1722.1,2615.4 L1726.4,2619.1 L1730.8,2622.6 L1735.2,2626.2 L1739.6,2629.6 L1744.0,2633.0 L1748.3,2636.3 L1752.7,2639.5 L1757.1,2642.6 L1761.5,2645.6 L1765.9,2648.5 L1770.2,2651.3 L1774.6,2653.9 L1779.0,2656.5 L1783.4,2659.0 L1787.8,2661.4 L1792.1,2663.7 L1796.5,2665.9 L1800.9,2667.9 L1805.3,2669.9 L1809.7,2671.8 L1814.0,2673.6 L1818.4,2675.3 L1822.8,2676.9 L1827.2,2678.4 L1831.6,2679.9 L1835.9,2681.2 L1840.3,2682.5 L1844.7,2683.7 L1849.1,2684.9 L1853.5,2686.0 L1857.8,2687.0 L1862.2,2687.9 L1866.6,2688.8 L1871.0,2689.6 L1875.4,2690.4 L1879.7,2691.1 L1884.1,2691.8 L1888.5,2692.5 L1892.9,2693.1 L1897.3,2693.6 L1901.6,2694.1 L1906.0,2694.5 L1910.4,2694.7 L1914.8,2694.7 L1919.2,2694.5 L1923.5,2694.1 L1927.9,2693.6 L1932.3,2692.8 L1936.7,2691.8 L1941.1,2690.7 L1945.4,2689.4 L1949.8,2687.9 L1954.2,2686.2 L1958.6,2684.3 L1963.0,2682.2 L1967.3,2680.0 L1971.7,2677.6 L1976.1,2675.0 L1980.5,2672.2 L1984.9,2669.3 L1989.2,2666.2 L1993.6,2662.9 L1998.0,2659.4" fill="none" stroke="#f0e400" stroke-width="5" stroke-linejoin="round"/>
<path d="M1384.8,2816.5 L1389.2,2816.1 L1393.6,2815.6 L1397.9,2815.1 L1402.3,2814.7 L1406.7,2814.2 L1411.1,2813.7 L1415.5,2813.3 L1419.8,2812.8 L1424.2,2812.3 L1428.6,2811.9 L1433.0,2811.4 L1437.4,2810.9 L1441.7,2810.5 L1446.1,2810.0 L1450.5,2809.5 L1454.9,2809.1 L1459.3,2808.6 L1463.6,2808.1 L1468.0,2807.7 L1472.4,2807.2 L1476.8,2806.7 L1481.2,2806.2 L1485.5,2805.7 L1489.9,2805.1 L1494.3,2804.6 L1498.7,2803.9 L1503.1,2803.1 L1507.4,2802.2 L1511.8,2801.1 L1516.2,2799.8 L1520.6,2798.0 L1525.0,2795.9 L1529.3,2793.2 L1533.7,2789.9 L1538.1,2785.7 L1542.5,2780.7 L1546.9,2774.6 L1551.2,2767.4 L1555.6,2758.9 L1560.0,2749.2 L1564.4,2738.3 L1568.8,2726.2 L1573.1,2713.0 L1577.5,2698.9 L1581.9,2684.2 L1586.3,2669.0 L1590.7,2653.7 L1595.0,2638.5 L1599.4,2623.9 L1603.8,2610.0 L1608.2,2597.2 L1612.6,2585.7 L1616.9,2575.7 L1621.3,2567.2 L1625.7,2560.4 L1630.1,2555.1 L1634.5,2551.4 L1638.8,2549.0 L1643.2,2547.7 L1647.6,2547.3 L1652.0,2548.7 L1656.4,2550.9 L1660.7,2553.6 L1665.1,2556.8 L1669.5,2560.2 L1673.9,2563.9 L1678.3,2567.8 L1682.6,2571.9 L1687.0,2576.1 L1691.4,2580.3 L1695.8,2584.7 L1700.2,2589.0 L1704.5,2593.4 L1708.9,2597.7 L1713.3,2602.0 L1717.7,2606.3 L1722.1,2610.5 L1726.4,2614.6 L1730.8,2618.7 L1735.2,2622.6 L1739.6,2626.5 L1744.0,2630.2 L1748.3,2633.8 L1752.7,2637.4 L1757.1,2640.7 L1761.5,2644.0 L1765.9,2647.2 L1770.2,2650.2 L1774.6,2653.1 L1779.0,2655.8 L1783.4,2658.5 L1787.8,2661.0 L1792.1,2663.4 L1796.5,2665.7 L1800.9,2667.9 L1805.3,2669.9 L1809.7,2671.9 L1814.0,2673.7 L1818.4,2675.4 L1822.8,2677.1 L1827.2,2678.6 L1831.6,2680.1 L1835.9,2681.5 L1840.3,2682.8 L1844.7,2684.0 L1849.1,2685.1 L1853.5,2686.2 L1857.8,2687.1 L1862.2,2688.1 L1866.6,2688.9 L1871.0,2689.7 L1875.4,2690.5 L1879.7,2691.2 L1884.1,2691.8 L1888.5,2692.4 L1892.9,2693.0 L1897.3,2693.5 L1901.6,2694.0 L1906.0,2694.4 L1910.4,2694.5 L1914.8,2694.5 L1919.2,2694.2 L1923.5,2693.8 L1927.9,2693.2 L1932.3,2692.3 L1936.7,2691.3 L1941.1,2690.1 L1945.4,2688.7 L1949.8,2687.1 L1954.2,2685.4 L1958.6,2683.4 L1963.0,2681.3 L1967.3,2679.0 L1971.7,2676.5 L1976.1,2673.8 L1980.5,2670.9 L1984.9,2667.9 L1989.2,2664.7 L1993.6,2661.3 L1998.0,2657.7" fill="none" stroke="#2b1a5c" stroke-width="5" stroke-linejoin="round"/>
<path d="M1384.8,2812.8 L1389.2,2812.3 L1393.6,2811.9 L1397.9,2811.4 L1402.3,2810.9 L1406.7,2810.5 L1411.1,2810.0 L1415.5,2809.5 L1419.8,2809.1 L1424.2,2808.6 L1428.6,2808.1 L1433.0,2807.7 L1437.4,2807.2 L1441.7,2806.8 L1446.1,2806.3 L1450.5,2805.8 L1454.9,2805.4 L1459.3,2804.9 L1463.6,2804.4 L1468.0,2803.9 L1472.4,2803.5 L1476.8,2803.0 L1481.2,2802.4 L1485.5,2801.9 L1489.9,2801.3 L1494.3,2800.6 L1498.7,2799.9 L1503.1,2799.0 L1507.4,2798.0 L1511.8,2796.7 L1516.2,2795.1 L1520.6,2793.1 L1525.0,2790.7 L1529.3,2787.7 L1533.7,2783.9 L1538.1,2779.4 L1542.5,2773.9 L1546.9,2767.4 L1551.2,2759.8 L1555.6,2751.0 L1560.0,2741.0 L1564.4,2729.9 L1568.8,2717.6 L1573.1,2704.2 L1577.5,2690.0 L1581.9,2675.2 L1586.3,2659.9 L1590.7,2644.4 L1595.0,2629.1 L1599.4,2614.2 L1603.8,2599.9 L1608.2,2586.7 L1612.6,2574.5 L1616.9,2563.8 L1621.3,2554.5 L1625.7,2546.7 L1630.1,2540.6 L1634.5,2535.9 L1638.8,2532.6 L1643.2,2530.6 L1647.6,2529.5 L1652.0,2529.5 L1656.4,2531.3 L1660.7,2534.0 L1665.1,2537.3 L1669.5,2541.0 L1673.9,2545.1 L1678.3,2549.4 L1682.6,2553.9 L1687.0,2558.6 L1691.4,2563.4 L1695.8,2568.3 L1700.2,2573.3 L1704.5,2578.2 L1708.9,2583.2 L1713.3,2588.1 L1717.7,2593.0 L1722.1,2597.8 L1726.4,2602.5 L1730.8,2607.1 L1735.2,2611.6 L1739.6,2616.0 L1744.0,2620.2 L1748.3,2624.3 L1752.7,2628.3 L1757.1,2632.1 L1761.5,2635.8 L1765.9,2639.4 L1770.2,2642.8 L1774.6,2646.0 L1779.0,2649.1 L1783.4,2652.1 L1787.8,2654.9 L1792.1,2657.6 L1796.5,2660.1 L1800.9,2662.5 L1805.3,2664.7 L1809.7,2666.9 L1814.0,2668.9 L1818.4,2670.8 L1822.8,2672.6 L1827.2,2674.3 L1831.6,2675.9 L1835.9,2677.3 L1840.3,2678.7 L1844.7,2680.0 L1849.1,2681.2 L1853.5,2682.3 L1857.8,2683.4 L1862.2,2684.4 L1866.6,2685.3 L1871.0,2686.1 L1875.4,2686.9 L1879.7,2687.6 L1884.1,2688.3 L1888.5,2688.9 L1892.9,2689.5 L1897.3,2690.0 L1901.6,2690.5 L1906.0,2690.9 L1910.4,2691.0 L1914.8,2691.0 L1919.2,2690.8 L1923.5,2690.4 L1927.9,2689.8 L1932.3,2689.0 L1936.7,2688.0 L1941.1,2686.9 L1945.4,2685.6 L1949.8,2684.1 L1954.2,2682.4 L1958.6,2680.5 L1963.0,2678.5 L1967.3,2676.3 L1971.7,2673.9 L1976.1,2671.3 L1980.5,2668.6 L1984.9,2665.7 L1989.2,2662.6 L1993.6,2659.4 L1998.0,2656.0" fill="none" stroke="#d4208a" stroke-width="5" stroke-linejoin="round"/>
<path d="M1384.8,2804.4 L1389.2,2804.0 L1393.6,2803.5 L1397.9,2803.0 L1402.3,2802.6 L1406.7,2802.1 L1411.1,2801.6 L1415.5,2801.2 L1419.8,2800.7 L1424.2,2800.2 L1428.6,2799.8 L1433.0,2799.3 L1437.4,2798.8 L1441.7,2798.4 L1446.1,2797.9 L1450.5,2797.5 L1454.9,2797.0 L1459.3,2796.5 L1463.6,2796.0 L1468.0,2795.6 L1472.4,2795.1 L1476.8,2794.6 L1481.2,2794.0 L1485.5,2793.5 L1489.9,2792.8 L1494.3,2792.1 L1498.7,2791.3 L1503.1,2790.4 L1507.4,2789.2 L1511.8,2787.7 L1516.2,2785.9 L1520.6,2783.6 L1525.0,2780.7 L1529.3,2777.1 L1533.7,2772.7 L1538.1,2767.3 L1542.5,2760.8 L1546.9,2753.0 L1551.2,2744.0 L1555.6,2733.6 L1560.0,2721.8 L1564.4,2708.6 L1568.8,2694.2 L1573.1,2678.7 L1577.5,2662.3 L1581.9,2645.2 L1586.3,2627.7 L1590.7,2610.2 L1595.0,2593.0 L1599.4,2576.4 L1603.8,2560.8 L1608.2,2546.4 L1612.6,2533.4 L1616.9,2522.0 L1621.3,2512.4 L1625.7,2504.7 L1630.1,2498.6 L1634.5,2494.3 L1638.8,2491.5 L1643.2,2489.9 L1647.6,2489.2 L1652.0,2490.8 L1656.4,2493.7 L1660.7,2497.3 L1665.1,2501.6 L1669.5,2506.3 L1673.9,2511.4 L1678.3,2516.8 L1682.6,2522.4 L1687.0,2528.2 L1691.4,2534.1 L1695.8,2540.0 L1700.2,2546.0 L1704.5,2552.0 L1708.9,2557.9 L1713.3,2563.8 L1717.7,2569.7 L1722.1,2575.4 L1726.4,2581.0 L1730.8,2586.5 L1735.2,2591.8 L1739.6,2597.0 L1744.0,2602.1 L1748.3,2606.9 L1752.7,2611.6 L1757.1,2616.1 L1761.5,2620.5 L1765.9,2624.7 L1770.2,2628.6 L1774.6,2632.4 L1779.0,2636.1 L1783.4,2639.5 L1787.8,2642.8 L1792.1,2646.0 L1796.5,2648.9 L1800.9,2651.7 L1805.3,2654.4 L1809.7,2656.9 L1814.0,2659.2 L1818.4,2661.4 L1822.8,2663.5 L1827.2,2665.4 L1831.6,2667.3 L1835.9,2669.0 L1840.3,2670.6 L1844.7,2672.1 L1849.1,2673.5 L1853.5,2674.8 L1857.8,2676.0 L1862.2,2677.1 L1866.6,2678.2 L1871.0,2679.1 L1875.4,2680.0 L1879.7,2680.9 L1884.1,2681.6 L1888.5,2682.4 L1892.9,2683.0 L1897.3,2683.6 L1901.6,2684.2 L1906.0,2684.6 L1910.4,2684.8 L1914.8,2684.8 L1919.2,2684.6 L1923.5,2684.2 L1927.9,2683.6 L1932.3,2682.8 L1936.7,2681.8 L1941.1,2680.5 L1945.4,2679.1 L1949.8,2677.5 L1954.2,2675.7 L1958.6,2673.8 L1963.0,2671.6 L1967.3,2669.2 L1971.7,2666.7 L1976.1,2663.9 L1980.5,2661.0 L1984.9,2657.9 L1989.2,2654.6 L1993.6,2651.2 L1998.0,2647.5" fill="none" stroke="#1d9fd8" stroke-width="5" stroke-linejoin="round"/>
<path d="M1384.8,2798.8 L1389.2,2798.4 L1393.6,2797.9 L1397.9,2797.5 L1402.3,2797.0 L1406.7,2796.5 L1411.1,2796.1 L1415.5,2795.6 L1419.8,2795.1 L1424.2,2794.7 L1428.6,2794.2 L1433.0,2793.7 L1437.4,2793.3 L1441.7,2792.8 L1446.1,2792.3 L1450.5,2791.9 L1454.9,2791.4 L1459.3,2790.9 L1463.6,2790.5 L1468.0,2790.0 L1472.4,2789.5 L1476.8,2789.0 L1481.2,2788.4 L1485.5,2787.8 L1489.9,2787.2 L1494.3,2786.4 L1498.7,2785.5 L1503.1,2784.4 L1507.4,2783.1 L1511.8,2781.4 L1516.2,2779.2 L1520.6,2776.5 L1525.0,2773.1 L1529.3,2768.8 L1533.7,2763.6 L1538.1,2757.2 L1542.5,2749.4 L1546.9,2740.3 L1551.2,2729.6 L1555.6,2717.3 L1560.0,2703.4 L1564.4,2688.0 L1568.8,2671.2 L1573.1,2653.1 L1577.5,2634.0 L1581.9,2614.2 L1586.3,2594.0 L1590.7,2573.9 L1595.0,2554.2 L1599.4,2535.3 L1603.8,2517.6 L1608.2,2501.3 L1612.6,2486.7 L1616.9,2474.1 L1621.3,2463.5 L1625.7,2454.9 L1630.1,2448.5 L1634.5,2443.9 L1638.8,2441.0 L1643.2,2439.5 L1647.6,2439.1 L1652.0,2441.5 L1656.4,2445.3 L1660.7,2449.9 L1665.1,2455.3 L1669.5,2461.2 L1673.9,2467.5 L1678.3,2474.1 L1682.6,2481.0 L1687.0,2488.1 L1691.4,2495.3 L1695.8,2502.5 L1700.2,2509.9 L1704.5,2517.2 L1708.9,2524.4 L1713.3,2531.6 L1717.7,2538.7 L1722.1,2545.7 L1726.4,2552.5 L1730.8,2559.2 L1735.2,2565.7 L1739.6,2572.0 L1744.0,2578.1 L1748.3,2584.0 L1752.7,2589.7 L1757.1,2595.2 L1761.5,2600.5 L1765.9,2605.5 L1770.2,2610.4 L1774.6,2615.0 L1779.0,2619.4 L1783.4,2623.6 L1787.8,2627.5 L1792.1,2631.3 L1796.5,2634.9 L1800.9,2638.3 L1805.3,2641.5 L1809.7,2644.5 L1814.0,2647.3 L1818.4,2650.0 L1822.8,2652.5 L1827.2,2654.9 L1831.6,2657.1 L1835.9,2659.1 L1840.3,2661.1 L1844.7,2662.9 L1849.1,2664.6 L1853.5,2666.1 L1857.8,2667.6 L1862.2,2668.9 L1866.6,2670.2 L1871.0,2671.4 L1875.4,2672.4 L1879.7,2673.4 L1884.1,2674.4 L1888.5,2675.2 L1892.9,2676.0 L1897.3,2676.7 L1901.6,2677.4 L1906.0,2677.9 L1910.4,2678.2 L1914.8,2678.2 L1919.2,2678.0 L1923.5,2677.6 L1927.9,2676.9 L1932.3,2676.0 L1936.7,2674.9 L1941.1,2673.5 L1945.4,2671.9 L1949.8,2670.1 L1954.2,2668.1 L1958.6,2665.9 L1963.0,2663.4 L1967.3,2660.8 L1971.7,2657.9 L1976.1,2654.8 L1980.5,2651.5 L1984.9,2648.0 L1989.2,2644.3 L1993.6,2640.4 L1998.0,2636.2" fill="none" stroke="#c8c8c8" stroke-width="3.5" stroke-linejoin="round"/>
<path d="M1384.8,2862.0 L1449.6,2859.4 L1516.2,2854.7 L1574.9,2849.4 L1647.6,2841.6 L1699.3,2834.5 L1779.0,2824.9 L1849.1,2814.7 L1901.6,2808.2 L1954.2,2800.7 L1998.0,2792.3" fill="none" stroke="#111" stroke-width="5" stroke-linejoin="round"/>
<rect x="1341" y="2404.5" width="700" height="490.5" fill="none" stroke="#000" stroke-width="12" stroke-linejoin="round"/>
<line x1="1438" y1="2758" x2="1438" y2="2470" stroke="#000" stroke-width="13.5" stroke-linecap="round"/>
<path d="M1413.6,2546 L1437.3,2456 L1463.5,2546" fill="none" stroke="#000" stroke-width="12.5" stroke-linecap="round" stroke-linejoin="round"/>
<text x="1322" y="2880.1" font-family='"Liberation Serif", serif' font-size="33" font-weight="bold" text-anchor="end" >0.0</text>
<text x="1322" y="2787.1" font-family='"Liberation Serif", serif' font-size="33" font-weight="bold" text-anchor="end" >0.1</text>
<text x="1322" y="2694.1" font-family='"Liberation Serif", serif' font-size="33" font-weight="bold" text-anchor="end" >0.2</text>
<text x="1322" y="2601.1" font-family='"Liberation Serif", serif' font-size="33" font-weight="bold" text-anchor="end" >0.3</text>
<text x="1322" y="2508.1" font-family='"Liberation Serif", serif' font-size="33" font-weight="bold" text-anchor="end" >0.4</text>
<text x="1322" y="2415.1" font-family='"Liberation Serif", serif' font-size="33" font-weight="bold" text-anchor="end" >0.5</text>
<text x="1341" y="2946.5" font-family='"Liberation Serif", serif' font-size="33" font-weight="bold" text-anchor="middle" >-400</text>
<text x="1428.6" y="2946.5" font-family='"Liberation Serif", serif' font-size="33" font-weight="bold" text-anchor="middle" >-300</text>
<text x="1516.2" y="2946.5" font-family='"Liberation Serif", serif' font-size="33" font-weight="bold" text-anchor="middle" >-200</text>
<text x="1603.8" y="2946.5" font-family='"Liberation Serif", serif' font-size="33" font-weight="bold" text-anchor="middle" >-100</text>
<text x="1691.4" y="2946.5" font-family='"Liberation Serif", serif' font-size="33" font-weight="bold" text-anchor="middle" >0</text>
<text x="1779" y="2946.5" font-family='"Liberation Serif", serif' font-size="33" font-weight="bold" text-anchor="middle" >100</text>
<text x="1866.6" y="2946.5" font-family='"Liberation Serif", serif' font-size="33" font-weight="bold" text-anchor="middle" >200</text>
<text x="1954.2" y="2946.5" font-family='"Liberation Serif", serif' font-size="33" font-weight="bold" text-anchor="middle" >300</text>
<text x="2041.8" y="2946.5" font-family='"Liberation Serif", serif' font-size="33" font-weight="bold" text-anchor="middle" >400</text>
<g transform="matrix(1.1052 0 0 1.0000 -178.01 -1.22)"><text x="1700" y="2996" font-family='"Liberation Serif", serif' font-size="32" font-weight="bold" text-anchor="middle">E / mV (vs. Ag/ AgCl)</text></g>
<g transform="matrix(1.0773 0 0 1.0045 -98.02 -11.18)"><text transform="translate(1261.5,2665) rotate(-90)" font-family='"Liberation Serif", serif' font-size="33" font-weight="bold" text-anchor="middle">I / mA</text></g></svg>
</body></html>
